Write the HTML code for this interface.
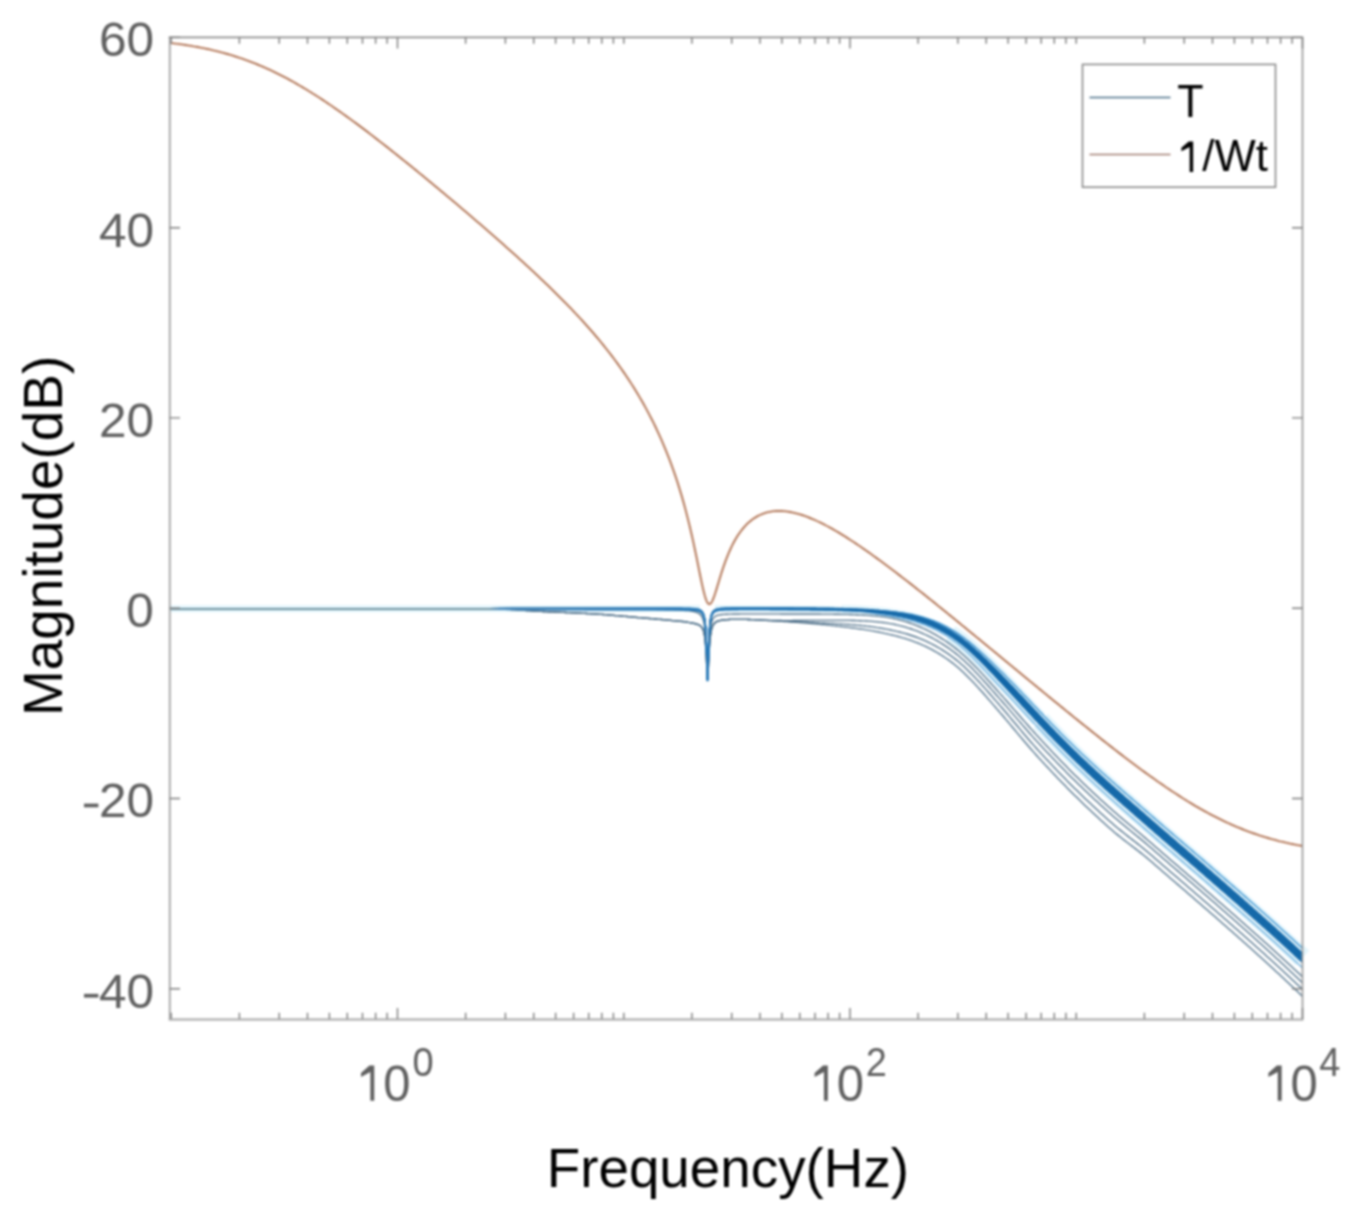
<!DOCTYPE html>
<html><head><meta charset="utf-8"><title>Bode magnitude</title>
<style>html,body{margin:0;padding:0;background:#fff;}svg{display:block;filter:blur(0.8px);}text{font-family:"Liberation Sans",sans-serif;}</style>
</head><body>
<svg width="1357" height="1226" viewBox="0 0 1357 1226">
<rect width="1357" height="1226" fill="#fff"/>
<g fill="none" stroke-linejoin="round" stroke-linecap="butt">
<path d="M169.5 608.8L171 608.8L172.5 608.8L174 608.8L175.5 608.8L177 608.8L178.5 608.8L180 608.8L181.5 608.8L183 608.8L184.5 608.8L186 608.8L187.5 608.8L189 608.8L190.5 608.8L192 608.8L193.5 608.8L195 608.8L196.5 608.8L198 608.8L199.5 608.8L201 608.8L202.5 608.8L204 608.8L205.5 608.8L207 608.8L208.5 608.8L210 608.8L211.5 608.8L213 608.8L214.5 608.8L216 608.8L217.5 608.8L219 608.8L220.5 608.8L222 608.8L223.5 608.8L225 608.8L226.5 608.8L228 608.8L229.5 608.8L231 608.8L232.5 608.8L234 608.8L235.5 608.8L237 608.8L238.5 608.8L240 608.8L241.5 608.8L243 608.8L244.5 608.8L246 608.8L247.5 608.8L249 608.8L250.5 608.8L252 608.8L253.5 608.8L255 608.8L256.5 608.8L258 608.8L259.5 608.8L261 608.8L262.5 608.8L264 608.8L265.5 608.8L267 608.8L268.5 608.8L270 608.8L271.5 608.8L273 608.8L274.5 608.8L276 608.8L277.5 608.8L279 608.8L280.5 608.8L282 608.8L283.5 608.8L285 608.8L286.5 608.8L288 608.8L289.5 608.8L291 608.8L292.5 608.8L294 608.8L295.5 608.8L297 608.8L298.5 608.8L300 608.8L301.5 608.8L303 608.8L304.5 608.8L306 608.8L307.5 608.8L309 608.8L310.5 608.8L312 608.8L313.5 608.8L315 608.8L316.5 608.8L318 608.8L319.5 608.8L321 608.8L322.5 608.8L324 608.8L325.5 608.8L327 608.8L328.5 608.8L330 608.8L331.5 608.8L333 608.8L334.5 608.8L336 608.8L337.5 608.8L339 608.8L340.5 608.8L342 608.8L343.5 608.8L345 608.8L346.5 608.8L348 608.8L349.5 608.8L351 608.8L352.5 608.8L354 608.8L355.5 608.8L357 608.8L358.5 608.8L360 608.8L361.5 608.8L363 608.8L364.5 608.8L366 608.8L367.5 608.8L369 608.8L370.5 608.8L372 608.8L373.5 608.8L375 608.8L376.5 608.8L378 608.8L379.5 608.8L381 608.8L382.5 608.8L384 608.8L385.5 608.8L387 608.8L388.5 608.8L390 608.8L391.5 608.8L393 608.8L394.5 608.8L396 608.8L397.5 608.8L399 608.8L400.5 608.8L402 608.8L403.5 608.8L405 608.8L406.5 608.8L408 608.8L409.5 608.8L411 608.8L412.5 608.8L414 608.8L415.5 608.8L417 608.8L418.5 608.8L420 608.8L421.5 608.8L423 608.8L424.5 608.8L426 608.8L427.5 608.8L429 608.8L430.5 608.8L432 608.8L433.5 608.8L435 608.8L436.5 608.8L438 608.8L439.5 608.8L441 608.8L442.5 608.8L444 608.8L445.5 608.8L447 608.8L448.5 608.8L450 608.8L451.5 608.8L453 608.8L454.5 608.8L456 608.8L457.5 608.8L459 608.8L460.5 608.8L462 608.8L463.5 608.8L465 608.8L466.5 608.8L468 608.8L469.5 608.8L471 608.8L472.5 608.8L474 608.8L475.5 608.8L477 608.8L478.5 608.8L480 608.8L481.5 608.8L483 608.8L484.5 608.8L486 608.8L487.5 608.8L489 608.8L490.5 608.8L492 608.8L493.5 608.8L495 608.8L496.5 608.8L498 608.8L499.5 608.8L501 608.8L502.5 608.8L504 608.8L505.5 608.8L507 608.8L508.5 608.8L510 608.8L511.5 608.8L513 608.8L514.5 608.8L516 608.8L517.5 608.8L519 608.8L520.5 608.8L522 608.8L523.5 608.8L525 608.8L526.5 608.8L528 608.8L529.5 608.8L531 608.8L532.5 608.8L534 608.8L535.5 608.8L537 608.8L538.5 608.8L540 608.8L541.5 608.8L543 608.8L544.5 608.8L546 608.8L547.5 608.8L549 608.8L550.5 608.8L552 608.8L553.5 608.8L555 608.8L556.5 608.8L558 608.8L559.5 608.8L561 608.8L562.5 608.8L564 608.8L565.5 608.8L567 608.8L568.5 608.8L570 608.8L571.5 608.8L573 608.8L574.5 608.8L576 608.8L577.5 608.8L579 608.8L580.5 608.8L582 608.8L583.5 608.8L585 608.8L586.5 608.8L588 608.8L589.5 608.8L591 608.8L592.5 608.8L594 608.8L595.5 608.8L597 608.8L598.5 608.8L600 608.8L601.5 608.8L603 608.8L604.5 608.8L606 608.8L607.5 608.8L609 608.8L610.5 608.8L612 608.8L613.5 608.8L615 608.8L616.5 608.8L618 608.8L619.5 608.8L621 608.8L622.5 608.8L624 608.8L625.5 608.8L627 608.8L628.5 608.8L630 608.8L631.5 608.8L633 608.8L634.5 608.8L636 608.8L637.5 608.8L639 608.8L640.5 608.8L642 608.8L643.5 608.8L645 608.8L646.5 608.8L648 608.8L649.5 608.8L651 608.8L652.5 608.8L654 608.8L655.5 608.8L657 608.8L658.5 608.8L660 608.8L661.5 608.8L663 608.8L664.5 608.8L666 608.8L667.5 608.8L669 608.8L670.5 608.8L672 608.8L673.5 608.8L675 608.8L676.5 608.8L678 608.8L679.5 608.8L681 608.8L682.5 608.8L684 608.8L685.5 608.8L687 608.8L688.5 608.8L690 608.8L690.2 608.8L690.5 608.8L690.8 608.8L691 608.8L691.2 608.8L691.5 608.8L691.8 608.8L692 608.8L692.2 608.8L692.5 608.8L692.8 608.8L693 608.8L693.2 608.8L693.5 608.8L693.8 608.8L694 608.8L694.2 608.8L694.5 608.8L694.8 608.8L695 608.8L695.2 608.8L695.5 608.8L695.8 608.8L696 608.8L696.2 608.8L696.5 608.8L696.8 608.8L697 608.8L697.2 608.8L697.5 608.8L697.8 608.8L698 608.8L698.2 608.8L698.5 608.8L698.8 608.8L699 608.8L699.2 608.8L699.5 608.8L699.8 608.8L700 608.8" stroke="#e3f5fc" stroke-width="7.0"/>
<path d="M715 608.6L715.2 608.6L715.5 608.6L715.8 608.6L716 608.6L716.2 608.6L716.5 608.6L716.8 608.6L717 608.6L717.2 608.6L717.5 608.6L717.8 608.6L718 608.6L718.2 608.6L718.5 608.6L718.8 608.6L719 608.6L719.2 608.6L719.5 608.6L719.8 608.6L720 608.6L720.2 608.6L720.5 608.6L720.8 608.6L721 608.6L721.2 608.6L721.5 608.6L721.8 608.6L722 608.6L722.2 608.6L722.5 608.6L722.8 608.6L723 608.6L723.2 608.6L723.5 608.6L723.8 608.6L724 608.6L724.2 608.6L724.5 608.6L724.8 608.6L725 608.6L725.2 608.6L725.5 608.6L725.8 608.6L726 608.6L726.2 608.6L726.5 608.6L726.8 608.6L727 608.6L727.2 608.6L727.5 608.6L727.8 608.6L728 608.6L728.2 608.6L728.5 608.6L728.8 608.6L729 608.6L729.2 608.6L729.5 608.6L729.8 608.6L730 608.6L731.5 608.6L733 608.6L734.5 608.6L736 608.6L737.5 608.6L739 608.6L740.5 608.6L742 608.6L743.5 608.6L745 608.6L746.5 608.6L748 608.6L749.5 608.6L751 608.6L752.5 608.6L754 608.6L755.5 608.6L757 608.6L758.5 608.6L760 608.6L761.5 608.6L763 608.6L764.5 608.7L766 608.7L767.5 608.7L769 608.7L770.5 608.7L772 608.7L773.5 608.7L775 608.7L776.5 608.7L778 608.7L779.5 608.7L781 608.7L782.5 608.7L784 608.7L785.5 608.7L787 608.8L788.5 608.8L790 608.8L791.5 608.8L793 608.8L794.5 608.8L796 608.8L797.5 608.8L799 608.8L800.5 608.9L802 608.9L803.5 608.9L805 608.9L806.5 608.9L808 608.9L809.5 608.9L811 609L812.5 609L814 609L815.5 609L817 609L818.5 609.1L820 609.1L821.5 609.1L823 609.1L824.5 609.2L826 609.2L827.5 609.2L829 609.2L830.5 609.3L832 609.3L833.5 609.3L835 609.4L836.5 609.4L838 609.4L839.5 609.5" stroke="#e3f5fc" stroke-width="7.0"/>
<path d="M841 609.5L842.5 609.6L844 609.6L845.5 609.7L847 609.7L848.5 609.8L850 609.8L851.5 609.9L853 609.9L854.5 610L856 610.1L857.5 610.1L859 610.2L860.5 610.3L862 610.4L863.5 610.5L865 610.5L866.5 610.6L868 610.8L869.5 610.9L871 611L872.5 611.1L874 611.2L875.5 611.4L877 611.5L878.5 611.7L880 611.8L881.5 612L883 612.2L884.5 612.3L886 612.5L887.5 612.7L889 612.9L890.5 613.1L892 613.3L893.5 613.6L895 613.8L896.5 614L898 614.3L899.5 614.5L901 614.8L902.5 615.1L904 615.4L905.5 615.7L907 616L908.5 616.3L910 616.7L911.5 617L913 617.4L914.5 617.8L916 618.2L917.5 618.7L919 619.1L920.5 619.6L922 620.1L923.5 620.6L925 621.1L926.5 621.6L928 622.2L929.5 622.8L931 623.4L932.5 624L934 624.7L935.5 625.3L937 626L938.5 626.8L940 627.5L941.5 628.3L943 629.1L944.5 629.9L946 630.7L947.5 631.6L949 632.5" stroke="#e3f5fc" stroke-width="9.4"/>
<path d="M950.5 633.4L952 634.4L953.5 635.3L955 636.4L956.5 637.4L958 638.5L959.5 639.6L961 640.7L962.5 641.9L964 643.1L965.5 644.3L967 645.6L968.5 646.8L970 648.1L971.5 649.4L973 650.8L974.5 652.2L976 653.5L977.5 654.9L979 656.4L980.5 657.8L982 659.3L983.5 660.7L985 662.2L986.5 663.7L988 665.2L989.5 666.7L991 668.3L992.5 669.8L994 671.3L995.5 672.9L997 674.4L998.5 676L1000 677.6L1001.5 679.1L1003 680.7L1004.5 682.3L1006 683.8L1007.5 685.4L1009 687L1010.5 688.6L1012 690.2L1013.5 691.8L1015 693.4L1016.5 695L1018 696.7L1019.5 698.3L1021 699.9L1022.5 701.5L1024 703.1L1025.5 704.7L1027 706.3L1028.5 708L1030 709.6L1031.5 711.2L1033 712.8L1034.5 714.4L1036 716L1037.5 717.6L1039 719.2" stroke="#e3f5fc" stroke-width="17.0"/>
<path d="M1040.5 720.8L1042 722.3L1043.5 723.9L1045 725.5L1046.5 727.1L1048 728.6L1049.5 730.2L1051 731.8L1052.5 733.3L1054 734.9L1055.5 736.4L1057 737.9L1058.5 739.5L1060 741L1061.5 742.5L1063 744L1064.5 745.6L1066 747.1L1067.5 748.6L1069 750L1070.5 751.5L1072 753L1073.5 754.5L1075 755.9L1076.5 757.4L1078 758.8L1079.5 760.3L1081 761.7L1082.5 763.1L1084 764.6L1085.5 766L1087 767.4L1088.5 768.8L1090 770.2L1091.5 771.6L1093 773L1094.5 774.4L1096 775.8L1097.5 777.1L1099 778.5L1100.5 779.9L1102 781.2L1103.5 782.6L1105 784L1106.5 785.3L1108 786.7L1109.5 788L1111 789.3L1112.5 790.7L1114 792L1115.5 793.3L1117 794.7L1118.5 796L1120 797.3L1121.5 798.6L1123 800L1124.5 801.3L1126 802.6L1127.5 803.9L1129 805.2L1130.5 806.5L1132 807.8L1133.5 809.1L1135 810.5L1136.5 811.8L1138 813.1L1139.5 814.4L1141 815.7L1142.5 817L1144 818.3L1145.5 819.6L1147 820.9L1148.5 822.2L1150 823.5L1151.5 824.8L1153 826.1L1154.5 827.4L1156 828.7L1157.5 830L1159 831.3L1160.5 832.6L1162 833.9L1163.5 835.2L1165 836.5L1166.5 837.8L1168 839.1L1169.5 840.4L1171 841.7L1172.5 843L1174 844.3L1175.5 845.6L1177 846.8L1178.5 848.1L1180 849.4L1181.5 850.7L1183 852L1184.5 853.3L1186 854.6L1187.5 855.9L1189 857.2L1190.5 858.5L1192 859.7L1193.5 861L1195 862.3L1196.5 863.6L1198 864.9L1199.5 866.2L1201 867.5L1202.5 868.8L1204 870.1L1205.5 871.4L1207 872.7L1208.5 874L1210 875.3L1211.5 876.6L1213 877.9L1214.5 879.2L1216 880.5L1217.5 881.8L1219 883.1L1220.5 884.4L1222 885.7L1223.5 887L1225 888.3L1226.5 889.7L1228 891L1229.5 892.3L1231 893.6L1232.5 894.9L1234 896.2L1235.5 897.5L1237 898.8L1238.5 900.1L1240 901.5L1241.5 902.8L1243 904.1L1244.5 905.4L1246 906.7L1247.5 908.1L1249 909.4L1250.5 910.7L1252 912L1253.5 913.4L1255 914.7L1256.5 916L1258 917.4L1259.5 918.7L1261 920L1262.5 921.4L1264 922.7L1265.5 924.1L1267 925.4L1268.5 926.7L1270 928.1L1271.5 929.4L1273 930.8L1274.5 932.2L1276 933.5L1277.5 934.9L1279 936.2L1280.5 937.6L1282 939L1283.5 940.3L1285 941.7L1286.5 943.1L1288 944.5L1289.5 945.8L1291 947.2L1292.5 948.6L1294 950L1295.5 951.4L1297 952.8L1298.5 954.2L1300 955.6L1301.5 957L1302.5 957.9" stroke="#e3f5fc" stroke-width="20.0"/>
<path d="M169.5 608.8L171 608.8L172.5 608.8L174 608.8L175.5 608.8L177 608.8L178.5 608.8L180 608.8L181.5 608.8L183 608.8L184.5 608.8L186 608.8L187.5 608.8L189 608.8L190.5 608.8L192 608.8L193.5 608.8L195 608.8L196.5 608.8L198 608.8L199.5 608.8L201 608.8L202.5 608.8L204 608.8L205.5 608.8L207 608.8L208.5 608.8L210 608.8L211.5 608.8L213 608.8L214.5 608.8L216 608.8L217.5 608.8L219 608.8L220.5 608.8L222 608.8L223.5 608.8L225 608.8L226.5 608.8L228 608.8L229.5 608.8L231 608.8L232.5 608.8L234 608.8L235.5 608.8L237 608.8L238.5 608.8L240 608.8L241.5 608.8L243 608.8L244.5 608.8L246 608.8L247.5 608.8L249 608.8L250.5 608.8L252 608.8L253.5 608.8L255 608.8L256.5 608.8L258 608.8L259.5 608.8L261 608.8L262.5 608.8L264 608.8L265.5 608.8L267 608.8L268.5 608.8L270 608.8L271.5 608.8L273 608.8L274.5 608.8L276 608.8L277.5 608.8L279 608.8L280.5 608.8L282 608.8L283.5 608.8L285 608.8L286.5 608.8L288 608.8L289.5 608.8L291 608.8L292.5 608.8L294 608.8L295.5 608.8L297 608.8L298.5 608.8L300 608.8L301.5 608.8L303 608.8L304.5 608.8L306 608.8L307.5 608.8L309 608.8L310.5 608.8L312 608.8L313.5 608.8L315 608.8L316.5 608.8L318 608.8L319.5 608.8L321 608.8L322.5 608.8L324 608.8L325.5 608.8L327 608.8L328.5 608.8L330 608.8L331.5 608.8L333 608.8L334.5 608.8L336 608.8L337.5 608.8L339 608.8L340.5 608.8L342 608.8L343.5 608.8L345 608.8L346.5 608.8L348 608.8L349.5 608.8L351 608.8L352.5 608.8L354 608.8L355.5 608.8L357 608.8L358.5 608.8L360 608.8L361.5 608.8L363 608.8L364.5 608.8L366 608.8L367.5 608.8L369 608.8L370.5 608.8L372 608.8L373.5 608.8L375 608.8L376.5 608.8L378 608.8L379.5 608.8L381 608.8L382.5 608.8L384 608.8L385.5 608.8L387 608.8L388.5 608.8L390 608.8L391.5 608.8L393 608.8L394.5 608.8L396 608.8L397.5 608.8L399 608.8L400.5 608.8L402 608.8L403.5 608.8L405 608.8L406.5 608.8L408 608.8L409.5 608.8L411 608.8L412.5 608.8L414 608.8L415.5 608.8L417 608.8L418.5 608.8L420 608.8L421.5 608.8L423 608.8L424.5 608.8L426 608.8L427.5 608.8L429 608.8L430.5 608.8L432 608.8L433.5 608.8L435 608.8L436.5 608.8L438 608.8L439.5 608.8L441 608.8L442.5 608.8L444 608.8L445.5 608.8L447 608.8L448.5 608.8L450 608.8L451.5 608.8L453 608.8L454.5 608.8L456 608.8L457.5 608.8L459 608.8L460.5 608.8L462 608.8L463.5 608.8L465 608.8L466.5 608.8L468 608.8L469.5 608.8L471 608.8L472.5 608.8L474 608.8L475.5 608.8L477 608.8L478.5 608.8L480 608.8L481.5 608.8L483 608.8L484.5 608.8L486 608.8L487.5 608.8L489 608.8L490.5 608.8L492 608.8L493.5 608.8L495 608.8L496.5 608.8L498 608.8L499.5 608.8L501 608.8L502.5 608.8L504 608.8L505.5 608.8L507 608.8L508.5 608.8L510 608.8L511.5 608.8L513 608.8L514.5 608.8L516 608.8L517.5 608.8L519 608.8L520.5 608.8L522 608.8L523.5 608.8L525 608.8L526.5 608.8L528 608.8L529.5 608.8L531 608.8L532.5 608.8L534 608.8L535.5 608.8L537 608.8L538.5 608.8L540 608.8L541.5 608.8L543 608.8L544.5 608.8L546 608.8L547.5 608.8L549 608.8L550.5 608.8L552 608.8L553.5 608.8L555 608.8L556.5 608.8L558 608.8L559.5 608.8L561 608.8L562.5 608.8L564 608.8L565.5 608.8L567 608.8L568.5 608.8L570 608.8L571.5 608.8L573 608.8L574.5 608.8L576 608.8L577.5 608.8L579 608.8L580.5 608.8L582 608.8L583.5 608.8L585 608.8L586.5 608.8L588 608.8L589.5 608.8L591 608.8L592.5 608.8L594 608.8L595.5 608.8L597 608.8L598.5 608.8L600 608.8L601.5 608.8L603 608.8L604.5 608.8L606 608.8L607.5 608.8L609 608.8L610.5 608.8L612 608.8L613.5 608.9L615 608.9L616.5 608.9L618 608.9L619.5 608.9L621 608.9L622.5 608.9L624 608.9L625.5 608.9L627 609L628.5 609L630 609L631.5 609L633 609L634.5 609L636 609.1L637.5 609.1L639 609.1L640.5 609.1L642 609.2L643.5 609.2L645 609.2L646.5 609.2L648 609.3L649.5 609.3L651 609.3L652.5 609.4L654 609.4L655.5 609.4L657 609.5L658.5 609.5L660 609.5L661.5 609.6L663 609.6L664.5 609.7L666 609.7L667.5 609.7L669 609.8L670.5 609.8L672 609.9L673.5 609.9L675 610L676.5 610.1L678 610.1L679.5 610.2L681 610.3L682.5 610.3L684 610.4L685.5 610.5L687 610.6L688.5 610.7L690 610.9L690.2 610.9L690.5 610.9L690.8 611L691 611L691.2 611L691.5 611.1L691.8 611.1L692 611.1L692.2 611.2L692.5 611.2L692.8 611.3L693 611.3L693.2 611.4L693.5 611.4L693.8 611.5L694 611.5L694.2 611.6L694.5 611.7L694.8 611.7L695 611.8L695.2 611.9L695.5 612L695.8 612L696 612.1L696.2 612.2L696.5 612.3L696.8 612.4L697 612.5L697.2 612.6L697.5 612.7L697.8 612.9L698 613L698.2 613.1L698.5 613.3L698.8 613.4L699 613.6L699.2 613.8L699.5 613.9L699.8 614.1L700 614.3L700.2 614.6L700.5 614.8L700.8 615.1L701 615.4L701.2 615.7L701.5 616L701.8 616.4L702 616.8L702.2 617.3L702.5 617.8L702.8 618.4L703 619.1L703.2 619.8L703.5 620.7L703.8 621.7L704 622.8L704.2 624.1L704.5 625.6L704.8 627.4L705 629.5L705.2 632L705.5 634.9L705.8 638.3L706 642.4L706.2 647L706.5 652.2L706.8 657.7L707 663.1L707.2 667.5L707.5 669.9L707.8 669.7L708 666.9L708.2 662.3L708.5 656.9L708.8 651.5L709 646.5L709.2 642L709.5 638.2L709.8 634.9L710 632.2L710.2 629.9L710.5 627.9L710.8 626.2L711 624.8L711.2 623.6L711.5 622.6L711.8 621.7L712 621L712.2 620.3L712.5 619.7L712.8 619.2L713 618.8L713.2 618.4L713.5 618L713.8 617.7L714 617.4L714.2 617.2L714.5 617L714.8 616.8L715 616.6L715.2 616.4L715.5 616.2L715.8 616.1L716 616L716.2 615.8L716.5 615.7L716.8 615.6L717 615.5L717.2 615.4L717.5 615.3L717.8 615.3L718 615.2L718.2 615.1L718.5 615.1L718.8 615L719 615L719.2 614.9L719.5 614.9L719.8 614.8L720 614.8L720.2 614.7L720.5 614.7L720.8 614.7L721 614.6L721.2 614.6L721.5 614.6L721.8 614.5L722 614.5L722.2 614.5L722.5 614.5L722.8 614.4L723 614.4L723.2 614.4L723.5 614.4L723.8 614.4L724 614.3L724.2 614.3L724.5 614.3L724.8 614.3L725 614.3L725.2 614.3L725.5 614.2L725.8 614.2L726 614.2L726.2 614.2L726.5 614.2L726.8 614.2L727 614.2L727.2 614.2L727.5 614.2L727.8 614.2L728 614.1L728.2 614.1L728.5 614.1L728.8 614.1L729 614.1L729.2 614.1L729.5 614.1L729.8 614.1L730 614.1L731.5 614.1L733 614L734.5 614L736 614L737.5 614L739 614L740.5 613.9L742 613.9L743.5 613.9L745 613.9L746.5 613.9L748 613.9L749.5 613.9L751 613.9L752.5 613.9L754 613.9L755.5 613.9L757 613.9L758.5 613.9L760 613.9L761.5 613.9L763 613.9L764.5 613.9L766 613.9L767.5 613.9L769 613.9L770.5 613.9L772 613.9L773.5 613.9L775 613.9L776.5 613.9L778 613.9L779.5 613.9L781 614L782.5 614L784 614L785.5 614L787 614L788.5 614L790 614L791.5 614L793 614L794.5 614L796 614L797.5 614L799 614L800.5 614L802 614L803.5 614L805 614L806.5 614L808 614L809.5 614L811 614L812.5 614L814 614L815.5 614L817 614L818.5 614L820 614L821.5 614.1L823 614.1L824.5 614.1L826 614.1L827.5 614.1L829 614.1L830.5 614.1L832 614.1L833.5 614.2L835 614.2L836.5 614.2L838 614.2L839.5 614.2L841 614.3L842.5 614.3L844 614.3L845.5 614.4L847 614.4L848.5 614.4L850 614.5L851.5 614.5L853 614.6L854.5 614.6L856 614.7L857.5 614.7L859 614.8L860.5 614.9L862 614.9L863.5 615L865 615.1L866.5 615.2L868 615.3L869.5 615.4L871 615.5L872.5 615.6L874 615.8L875.5 615.9L877 616L878.5 616.2L880 616.3L881.5 616.5L883 616.7L884.5 616.9L886 617.1L887.5 617.4L889 617.6L890.5 617.9L892 618.2L893.5 618.5L895 618.8L896.5 619.2L898 619.5L899.5 619.9L901 620.3L902.5 620.7L904 621.1L905.5 621.6L907 622L908.5 622.5L910 623L911.5 623.6L913 624.1L914.5 624.7L916 625.3L917.5 625.9L919 626.5L920.5 627.1L922 627.8L923.5 628.5L925 629.2L926.5 629.9L928 630.7L929.5 631.4L931 632.2L932.5 633.1L934 633.9L935.5 634.7L937 635.6L938.5 636.5L940 637.4L941.5 638.4L943 639.3L944.5 640.3L946 641.3L947.5 642.4L949 643.4L950.5 644.5L952 645.6L953.5 646.7L955 647.9L956.5 649.1L958 650.3L959.5 651.6L961 652.9L962.5 654.2L964 655.5L965.5 656.9L967 658.3L968.5 659.8L970 661.2L971.5 662.7L973 664.2L974.5 665.7L976 667.3L977.5 668.8L979 670.4L980.5 672L982 673.6L983.5 675.2L985 676.9L986.5 678.5L988 680.2L989.5 681.8L991 683.5L992.5 685.2L994 686.8L995.5 688.5L997 690.2L998.5 691.9L1000 693.6L1001.5 695.2L1003 696.9L1004.5 698.6L1006 700.3L1007.5 702L1009 703.7L1010.5 705.4L1012 707.2L1013.5 708.9L1015 710.6L1016.5 712.3L1018 714L1019.5 715.7L1021 717.5L1022.5 719.2L1024 720.9L1025.5 722.6L1027 724.3L1028.5 726L1030 727.7L1031.5 729.4L1033 731L1034.5 732.7L1036 734.4L1037.5 736L1039 737.6L1040.5 739.3L1042 740.9L1043.5 742.5L1045 744.1L1046.5 745.7L1048 747.3L1049.5 748.9L1051 750.5L1052.5 752.1L1054 753.7L1055.5 755.3L1057 756.8L1058.5 758.4L1060 760L1061.5 761.5L1063 763.1L1064.5 764.6L1066 766.1L1067.5 767.6L1069 769.2L1070.5 770.7L1072 772.2L1073.5 773.7L1075 775.2L1076.5 776.6L1078 778.1L1079.5 779.6L1081 781L1082.5 782.5L1084 783.9L1085.5 785.3L1087 786.8L1088.5 788.2L1090 789.6L1091.5 791L1093 792.4L1094.5 793.8L1096 795.2L1097.5 796.6L1099 798L1100.5 799.4L1102 800.7L1103.5 802.1L1105 803.4L1106.5 804.8L1108 806.2L1109.5 807.5L1111 808.8L1112.5 810.2L1114 811.5L1115.5 812.8L1117 814.1L1118.5 815.4L1120 816.7L1121.5 817.9L1123 819.2L1124.5 820.5L1126 821.7L1127.5 823L1129 824.3L1130.5 825.5L1132 826.8L1133.5 828L1135 829.3L1136.5 830.5L1138 831.8L1139.5 833L1141 834.3L1142.5 835.6L1144 836.9L1145.5 838.1L1147 839.4L1148.5 840.7L1150 842L1151.5 843.3L1153 844.6L1154.5 845.9L1156 847.2L1157.5 848.5L1159 849.8L1160.5 851.1L1162 852.4L1163.5 853.7L1165 855L1166.5 856.3L1168 857.6L1169.5 858.9L1171 860.2L1172.5 861.5L1174 862.8L1175.5 864.1L1177 865.3L1178.5 866.6L1180 867.9L1181.5 869.2L1183 870.5L1184.5 871.8L1186 873.1L1187.5 874.4L1189 875.7L1190.5 877L1192 878.3L1193.5 879.6L1195 880.8L1196.5 882.1L1198 883.4L1199.5 884.7L1201 886L1202.5 887.3L1204 888.6L1205.5 889.9L1207 891.2L1208.5 892.5L1210 893.8L1211.5 895.1L1213 896.4L1214.5 897.8L1216 899.1L1217.5 900.4L1219 901.7L1220.5 903L1222 904.3L1223.5 905.6L1225 906.9L1226.5 908.2L1228 909.5L1229.5 910.8L1231 912.2L1232.5 913.5L1234 914.8L1235.5 916.1L1237 917.4L1238.5 918.7L1240 920.1L1241.5 921.4L1243 922.7L1244.5 924L1246 925.4L1247.5 926.7L1249 928L1250.5 929.4L1252 930.7L1253.5 932L1255 933.4L1256.5 934.7L1258 936L1259.5 937.4L1261 938.7L1262.5 940.1L1264 941.4L1265.5 942.8L1267 944.1L1268.5 945.5L1270 946.8L1271.5 948.2L1273 949.6L1274.5 950.9L1276 952.3L1277.5 953.7L1279 955L1280.5 956.4L1282 957.8L1283.5 959.2L1285 960.6L1286.5 961.9L1288 963.3L1289.5 964.7L1291 966.1L1292.5 967.5L1294 968.9L1295.5 970.3L1297 971.7L1298.5 973.1L1300 974.6L1301.5 976L1302.5 976.9" stroke="#50718a" stroke-width="1.35"/>
<path d="M169.5 608.8L171 608.8L172.5 608.8L174 608.8L175.5 608.8L177 608.8L178.5 608.8L180 608.8L181.5 608.8L183 608.8L184.5 608.8L186 608.8L187.5 608.8L189 608.8L190.5 608.8L192 608.8L193.5 608.8L195 608.8L196.5 608.8L198 608.8L199.5 608.8L201 608.8L202.5 608.8L204 608.8L205.5 608.8L207 608.8L208.5 608.8L210 608.8L211.5 608.8L213 608.8L214.5 608.8L216 608.8L217.5 608.8L219 608.8L220.5 608.8L222 608.8L223.5 608.8L225 608.8L226.5 608.8L228 608.8L229.5 608.8L231 608.8L232.5 608.8L234 608.8L235.5 608.8L237 608.8L238.5 608.8L240 608.8L241.5 608.8L243 608.8L244.5 608.8L246 608.8L247.5 608.8L249 608.8L250.5 608.8L252 608.8L253.5 608.8L255 608.8L256.5 608.8L258 608.8L259.5 608.8L261 608.8L262.5 608.8L264 608.8L265.5 608.8L267 608.8L268.5 608.8L270 608.8L271.5 608.8L273 608.8L274.5 608.8L276 608.8L277.5 608.8L279 608.8L280.5 608.8L282 608.8L283.5 608.8L285 608.8L286.5 608.8L288 608.8L289.5 608.8L291 608.8L292.5 608.8L294 608.8L295.5 608.8L297 608.8L298.5 608.8L300 608.8L301.5 608.8L303 608.8L304.5 608.8L306 608.8L307.5 608.8L309 608.8L310.5 608.8L312 608.8L313.5 608.8L315 608.8L316.5 608.8L318 608.8L319.5 608.8L321 608.8L322.5 608.8L324 608.8L325.5 608.8L327 608.8L328.5 608.8L330 608.8L331.5 608.8L333 608.8L334.5 608.8L336 608.8L337.5 608.8L339 608.8L340.5 608.8L342 608.8L343.5 608.8L345 608.8L346.5 608.8L348 608.8L349.5 608.8L351 608.8L352.5 608.8L354 608.8L355.5 608.8L357 608.8L358.5 608.8L360 608.8L361.5 608.8L363 608.8L364.5 608.8L366 608.8L367.5 608.8L369 608.8L370.5 608.8L372 608.8L373.5 608.8L375 608.8L376.5 608.8L378 608.8L379.5 608.8L381 608.8L382.5 608.8L384 608.8L385.5 608.8L387 608.8L388.5 608.8L390 608.8L391.5 608.8L393 608.8L394.5 608.8L396 608.8L397.5 608.8L399 608.8L400.5 608.8L402 608.8L403.5 608.8L405 608.8L406.5 608.8L408 608.8L409.5 608.8L411 608.8L412.5 608.8L414 608.8L415.5 608.8L417 608.8L418.5 608.8L420 608.8L421.5 608.8L423 608.8L424.5 608.8L426 608.8L427.5 608.8L429 608.8L430.5 608.8L432 608.8L433.5 608.8L435 608.8L436.5 608.8L438 608.8L439.5 608.8L441 608.8L442.5 608.8L444 608.8L445.5 608.8L447 608.8L448.5 608.8L450 608.8L451.5 608.8L453 608.8L454.5 608.8L456 608.8L457.5 608.8L459 608.8L460.5 608.8L462 608.8L463.5 608.8L465 608.8L466.5 608.8L468 608.8L469.5 608.8L471 608.8L472.5 608.8L474 608.8L475.5 608.8L477 608.8L478.5 608.8L480 608.8L481.5 608.8L483 608.8L484.5 608.8L486 608.8L487.5 608.8L489 608.8L490.5 608.8L492 608.8L493.5 608.8L495 608.8L496.5 608.9L498 608.9L499.5 609L501 609L502.5 609.1L504 609.1L505.5 609.2L507 609.3L508.5 609.4L510 609.4L511.5 609.5L513 609.6L514.5 609.7L516 609.8L517.5 609.9L519 610L520.5 610.1L522 610.2L523.5 610.3L525 610.4L526.5 610.5L528 610.6L529.5 610.7L531 610.8L532.5 610.9L534 611L535.5 611.1L537 611.1L538.5 611.2L540 611.3L541.5 611.4L543 611.5L544.5 611.5L546 611.6L547.5 611.7L549 611.7L550.5 611.8L552 611.9L553.5 611.9L555 612L556.5 612.1L558 612.2L559.5 612.2L561 612.3L562.5 612.4L564 612.4L565.5 612.5L567 612.6L568.5 612.6L570 612.7L571.5 612.8L573 612.8L574.5 612.9L576 613L577.5 613.1L579 613.1L580.5 613.2L582 613.3L583.5 613.4L585 613.4L586.5 613.5L588 613.6L589.5 613.7L591 613.8L592.5 613.9L594 613.9L595.5 614L597 614.1L598.5 614.2L600 614.3L601.5 614.4L603 614.5L604.5 614.6L606 614.7L607.5 614.9L609 615L610.5 615.1L612 615.2L613.5 615.3L615 615.5L616.5 615.6L618 615.7L619.5 615.9L621 616L622.5 616.1L624 616.3L625.5 616.4L627 616.5L628.5 616.7L630 616.8L631.5 616.9L633 617.1L634.5 617.2L636 617.3L637.5 617.5L639 617.6L640.5 617.7L642 617.8L643.5 618L645 618.1L646.5 618.2L648 618.4L649.5 618.5L651 618.6L652.5 618.7L654 618.9L655.5 619L657 619.1L658.5 619.3L660 619.4L661.5 619.5L663 619.7L664.5 619.8L666 619.9L667.5 620.1L669 620.2L670.5 620.3L672 620.5L673.5 620.6L675 620.8L676.5 620.9L678 621.1L679.5 621.2L681 621.4L682.5 621.5L684 621.7L685.5 621.9L687 622.1L688.5 622.4L690 622.6L690.2 622.7L690.5 622.7L690.8 622.8L691 622.8L691.2 622.9L691.5 622.9L691.8 623L692 623L692.2 623.1L692.5 623.1L692.8 623.2L693 623.2L693.2 623.3L693.5 623.3L693.8 623.4L694 623.4L694.2 623.5L694.5 623.5L694.8 623.6L695 623.7L695.2 623.7L695.5 623.8L695.8 623.8L696 623.9L696.2 624L696.5 624.1L696.8 624.1L697 624.2L697.2 624.3L697.5 624.4L697.8 624.5L698 624.6L698.2 624.7L698.5 624.8L698.8 624.9L699 625L699.2 625.1L699.5 625.3L699.8 625.4L700 625.6L700.2 625.8L700.5 626L700.8 626.2L701 626.4L701.2 626.7L701.5 626.9L701.8 627.3L702 627.6L702.2 628L702.5 628.4L702.8 628.9L703 629.5L703.2 630.2L703.5 630.9L703.8 631.8L704 632.9L704.2 634.1L704.5 635.5L704.8 637.2L705 639.2L705.2 641.5L705.5 644.4L705.8 647.7L706 651.6L706.2 656.2L706.5 661.3L706.8 666.7L707 671.9L707.2 676.2L707.5 678.5L707.8 678.2L708 675.3L708.2 670.6L708.5 665.1L708.8 659.6L709 654.4L709.2 649.9L709.5 646L709.8 642.6L710 639.7L710.2 637.3L710.5 635.3L710.8 633.5L711 632L711.2 630.7L711.5 629.6L711.8 628.7L712 627.8L712.2 627.1L712.5 626.4L712.8 625.8L713 625.3L713.2 624.9L713.5 624.4L713.8 624.1L714 623.7L714.2 623.4L714.5 623.2L714.8 622.9L715 622.7L715.2 622.5L715.5 622.3L715.8 622.1L716 622L716.2 621.8L716.5 621.7L716.8 621.6L717 621.5L717.2 621.3L717.5 621.2L717.8 621.2L718 621.1L718.2 621L718.5 620.9L718.8 620.8L719 620.8L719.2 620.7L719.5 620.6L719.8 620.6L720 620.5L720.2 620.5L720.5 620.4L720.8 620.4L721 620.3L721.2 620.3L721.5 620.2L721.8 620.2L722 620.2L722.2 620.1L722.5 620.1L722.8 620L723 620L723.2 620L723.5 619.9L723.8 619.9L724 619.9L724.2 619.9L724.5 619.8L724.8 619.8L725 619.8L725.2 619.8L725.5 619.7L725.8 619.7L726 619.7L726.2 619.7L726.5 619.7L726.8 619.6L727 619.6L727.2 619.6L727.5 619.6L727.8 619.6L728 619.6L728.2 619.5L728.5 619.5L728.8 619.5L729 619.5L729.2 619.5L729.5 619.5L729.8 619.5L730 619.4L731.5 619.4L733 619.3L734.5 619.3L736 619.3L737.5 619.3L739 619.3L740.5 619.3L742 619.3L743.5 619.3L745 619.4L746.5 619.4L748 619.5L749.5 619.5L751 619.6L752.5 619.6L754 619.7L755.5 619.8L757 619.8L758.5 619.9L760 620L761.5 620L763 620.1L764.5 620.1L766 620.2L767.5 620.3L769 620.3L770.5 620.4L772 620.4L773.5 620.4L775 620.5L776.5 620.5L778 620.5L779.5 620.5L781 620.5L782.5 620.6L784 620.6L785.5 620.6L787 620.6L788.5 620.6L790 620.6L791.5 620.6L793 620.5L794.5 620.5L796 620.5L797.5 620.5L799 620.5L800.5 620.5L802 620.5L803.5 620.5L805 620.5L806.5 620.5L808 620.5L809.5 620.4L811 620.4L812.5 620.4L814 620.4L815.5 620.4L817 620.4L818.5 620.4L820 620.4L821.5 620.4L823 620.3L824.5 620.3L826 620.3L827.5 620.3L829 620.3L830.5 620.3L832 620.3L833.5 620.3L835 620.3L836.5 620.3L838 620.3L839.5 620.3L841 620.3L842.5 620.4L844 620.4L845.5 620.4L847 620.4L848.5 620.4L850 620.4L851.5 620.5L853 620.5L854.5 620.5L856 620.6L857.5 620.6L859 620.7L860.5 620.7L862 620.8L863.5 620.9L865 620.9L866.5 621L868 621.1L869.5 621.2L871 621.3L872.5 621.4L874 621.6L875.5 621.7L877 621.8L878.5 622L880 622.1L881.5 622.3L883 622.5L884.5 622.7L886 622.9L887.5 623.1L889 623.4L890.5 623.6L892 623.9L893.5 624.2L895 624.5L896.5 624.9L898 625.2L899.5 625.6L901 625.9L902.5 626.3L904 626.7L905.5 627.1L907 627.6L908.5 628.1L910 628.5L911.5 629L913 629.6L914.5 630.1L916 630.7L917.5 631.2L919 631.8L920.5 632.5L922 633.1L923.5 633.8L925 634.5L926.5 635.2L928 635.9L929.5 636.6L931 637.4L932.5 638.2L934 639L935.5 639.9L937 640.7L938.5 641.6L940 642.5L941.5 643.4L943 644.4L944.5 645.4L946 646.4L947.5 647.4L949 648.4L950.5 649.5L952 650.6L953.5 651.7L955 652.9L956.5 654.1L958 655.3L959.5 656.6L961 657.9L962.5 659.2L964 660.6L965.5 662L967 663.4L968.5 664.8L970 666.3L971.5 667.8L973 669.3L974.5 670.9L976 672.4L977.5 674L979 675.6L980.5 677.2L982 678.9L983.5 680.5L985 682.2L986.5 683.8L988 685.5L989.5 687.2L991 688.9L992.5 690.6L994 692.3L995.5 694L997 695.7L998.5 697.4L1000 699.1L1001.5 700.8L1003 702.5L1004.5 704.2L1006 705.9L1007.5 707.6L1009 709.4L1010.5 711.1L1012 712.9L1013.5 714.6L1015 716.4L1016.5 718.1L1018 719.9L1019.5 721.6L1021 723.3L1022.5 725.1L1024 726.8L1025.5 728.5L1027 730.3L1028.5 732L1030 733.7L1031.5 735.4L1033 737.1L1034.5 738.7L1036 740.4L1037.5 742L1039 743.6L1040.5 745.3L1042 746.9L1043.5 748.5L1045 750.1L1046.5 751.7L1048 753.2L1049.5 754.8L1051 756.4L1052.5 758L1054 759.5L1055.5 761.1L1057 762.7L1058.5 764.2L1060 765.8L1061.5 767.3L1063 768.8L1064.5 770.3L1066 771.9L1067.5 773.4L1069 774.9L1070.5 776.4L1072 777.9L1073.5 779.3L1075 780.8L1076.5 782.3L1078 783.7L1079.5 785.2L1081 786.6L1082.5 788.1L1084 789.5L1085.5 790.9L1087 792.3L1088.5 793.8L1090 795.2L1091.5 796.6L1093 798L1094.5 799.4L1096 800.7L1097.5 802.1L1099 803.5L1100.5 804.9L1102 806.2L1103.5 807.6L1105 809L1106.5 810.3L1108 811.7L1109.5 813L1111 814.3L1112.5 815.7L1114 817L1115.5 818.3L1117 819.5L1118.5 820.8L1120 822.1L1121.5 823.3L1123 824.6L1124.5 825.8L1126 827.1L1127.5 828.3L1129 829.5L1130.5 830.8L1132 832L1133.5 833.2L1135 834.4L1136.5 835.7L1138 836.9L1139.5 838.1L1141 839.4L1142.5 840.6L1144 841.9L1145.5 843.1L1147 844.4L1148.5 845.7L1150 847L1151.5 848.3L1153 849.6L1154.5 850.9L1156 852.2L1157.5 853.5L1159 854.8L1160.5 856.1L1162 857.4L1163.5 858.7L1165 860L1166.5 861.3L1168 862.6L1169.5 863.9L1171 865.2L1172.5 866.5L1174 867.8L1175.5 869.1L1177 870.4L1178.5 871.6L1180 872.9L1181.5 874.2L1183 875.5L1184.5 876.8L1186 878.1L1187.5 879.4L1189 880.7L1190.5 882L1192 883.3L1193.5 884.6L1195 885.9L1196.5 887.2L1198 888.5L1199.5 889.8L1201 891.1L1202.5 892.4L1204 893.7L1205.5 895L1207 896.3L1208.5 897.6L1210 898.9L1211.5 900.2L1213 901.5L1214.5 902.8L1216 904.1L1217.5 905.5L1219 906.8L1220.5 908.1L1222 909.4L1223.5 910.7L1225 912L1226.5 913.3L1228 914.7L1229.5 916L1231 917.3L1232.5 918.6L1234 920L1235.5 921.3L1237 922.6L1238.5 923.9L1240 925.3L1241.5 926.6L1243 927.9L1244.5 929.3L1246 930.6L1247.5 932L1249 933.3L1250.5 934.6L1252 936L1253.5 937.3L1255 938.7L1256.5 940L1258 941.4L1259.5 942.8L1261 944.1L1262.5 945.5L1264 946.8L1265.5 948.2L1267 949.6L1268.5 951L1270 952.3L1271.5 953.7L1273 955.1L1274.5 956.5L1276 957.9L1277.5 959.2L1279 960.6L1280.5 962L1282 963.4L1283.5 964.8L1285 966.2L1286.5 967.7L1288 969.1L1289.5 970.5L1291 971.9L1292.5 973.3L1294 974.8L1295.5 976.2L1297 977.6L1298.5 979.1L1300 980.5L1301.5 982L1302.5 982.9" stroke="#50718a" stroke-width="1.35"/>
<path d="M169.5 608.8L171 608.8L172.5 608.8L174 608.8L175.5 608.8L177 608.8L178.5 608.8L180 608.8L181.5 608.8L183 608.8L184.5 608.8L186 608.8L187.5 608.8L189 608.8L190.5 608.8L192 608.8L193.5 608.8L195 608.8L196.5 608.8L198 608.8L199.5 608.8L201 608.8L202.5 608.8L204 608.8L205.5 608.8L207 608.8L208.5 608.8L210 608.8L211.5 608.8L213 608.8L214.5 608.8L216 608.8L217.5 608.8L219 608.8L220.5 608.8L222 608.8L223.5 608.8L225 608.8L226.5 608.8L228 608.8L229.5 608.8L231 608.8L232.5 608.8L234 608.8L235.5 608.8L237 608.8L238.5 608.8L240 608.8L241.5 608.8L243 608.8L244.5 608.8L246 608.8L247.5 608.8L249 608.8L250.5 608.8L252 608.8L253.5 608.8L255 608.8L256.5 608.8L258 608.8L259.5 608.8L261 608.8L262.5 608.8L264 608.8L265.5 608.8L267 608.8L268.5 608.8L270 608.8L271.5 608.8L273 608.8L274.5 608.8L276 608.8L277.5 608.8L279 608.8L280.5 608.8L282 608.8L283.5 608.8L285 608.8L286.5 608.8L288 608.8L289.5 608.8L291 608.8L292.5 608.8L294 608.8L295.5 608.8L297 608.8L298.5 608.8L300 608.8L301.5 608.8L303 608.8L304.5 608.8L306 608.8L307.5 608.8L309 608.8L310.5 608.8L312 608.8L313.5 608.8L315 608.8L316.5 608.8L318 608.8L319.5 608.8L321 608.8L322.5 608.8L324 608.8L325.5 608.8L327 608.8L328.5 608.8L330 608.8L331.5 608.8L333 608.8L334.5 608.8L336 608.8L337.5 608.8L339 608.8L340.5 608.8L342 608.8L343.5 608.8L345 608.8L346.5 608.8L348 608.8L349.5 608.8L351 608.8L352.5 608.8L354 608.8L355.5 608.8L357 608.8L358.5 608.8L360 608.8L361.5 608.8L363 608.8L364.5 608.8L366 608.8L367.5 608.8L369 608.8L370.5 608.8L372 608.8L373.5 608.8L375 608.8L376.5 608.8L378 608.8L379.5 608.8L381 608.8L382.5 608.8L384 608.8L385.5 608.8L387 608.8L388.5 608.8L390 608.8L391.5 608.8L393 608.8L394.5 608.8L396 608.8L397.5 608.8L399 608.8L400.5 608.8L402 608.8L403.5 608.8L405 608.8L406.5 608.8L408 608.8L409.5 608.8L411 608.8L412.5 608.8L414 608.8L415.5 608.8L417 608.8L418.5 608.8L420 608.8L421.5 608.8L423 608.8L424.5 608.8L426 608.8L427.5 608.8L429 608.8L430.5 608.8L432 608.8L433.5 608.8L435 608.8L436.5 608.8L438 608.8L439.5 608.8L441 608.8L442.5 608.8L444 608.8L445.5 608.8L447 608.8L448.5 608.8L450 608.8L451.5 608.8L453 608.8L454.5 608.8L456 608.8L457.5 608.8L459 608.8L460.5 608.8L462 608.8L463.5 608.8L465 608.8L466.5 608.8L468 608.8L469.5 608.8L471 608.8L472.5 608.8L474 608.8L475.5 608.8L477 608.8L478.5 608.8L480 608.8L481.5 608.8L483 608.8L484.5 608.8L486 608.8L487.5 608.8L489 608.8L490.5 608.8L492 608.8L493.5 608.8L495 608.8L496.5 608.9L498 608.9L499.5 609L501 609L502.5 609.1L504 609.1L505.5 609.2L507 609.3L508.5 609.4L510 609.4L511.5 609.5L513 609.6L514.5 609.7L516 609.8L517.5 609.9L519 610L520.5 610.1L522 610.2L523.5 610.3L525 610.4L526.5 610.5L528 610.6L529.5 610.7L531 610.8L532.5 610.9L534 611L535.5 611.1L537 611.1L538.5 611.2L540 611.3L541.5 611.4L543 611.5L544.5 611.5L546 611.6L547.5 611.7L549 611.7L550.5 611.8L552 611.9L553.5 611.9L555 612L556.5 612.1L558 612.2L559.5 612.2L561 612.3L562.5 612.4L564 612.4L565.5 612.5L567 612.6L568.5 612.6L570 612.7L571.5 612.8L573 612.8L574.5 612.9L576 613L577.5 613.1L579 613.1L580.5 613.2L582 613.3L583.5 613.4L585 613.4L586.5 613.5L588 613.6L589.5 613.7L591 613.8L592.5 613.9L594 613.9L595.5 614L597 614.1L598.5 614.2L600 614.3L601.5 614.4L603 614.5L604.5 614.6L606 614.7L607.5 614.9L609 615L610.5 615.1L612 615.2L613.5 615.3L615 615.5L616.5 615.6L618 615.7L619.5 615.9L621 616L622.5 616.1L624 616.3L625.5 616.4L627 616.5L628.5 616.7L630 616.8L631.5 616.9L633 617.1L634.5 617.2L636 617.3L637.5 617.5L639 617.6L640.5 617.7L642 617.8L643.5 618L645 618.1L646.5 618.2L648 618.4L649.5 618.5L651 618.6L652.5 618.7L654 618.9L655.5 619L657 619.1L658.5 619.3L660 619.4L661.5 619.5L663 619.7L664.5 619.8L666 619.9L667.5 620.1L669 620.2L670.5 620.3L672 620.5L673.5 620.6L675 620.8L676.5 620.9L678 621.1L679.5 621.2L681 621.4L682.5 621.5L684 621.7L685.5 621.9L687 622.1L688.5 622.4L690 622.6L690.2 622.7L690.5 622.7L690.8 622.8L691 622.8L691.2 622.9L691.5 622.9L691.8 623L692 623L692.2 623.1L692.5 623.1L692.8 623.2L693 623.2L693.2 623.3L693.5 623.3L693.8 623.4L694 623.4L694.2 623.5L694.5 623.5L694.8 623.6L695 623.7L695.2 623.7L695.5 623.8L695.8 623.8L696 623.9L696.2 624L696.5 624.1L696.8 624.1L697 624.2L697.2 624.3L697.5 624.4L697.8 624.5L698 624.6L698.2 624.7L698.5 624.8L698.8 624.9L699 625L699.2 625.1L699.5 625.3L699.8 625.4L700 625.6L700.2 625.8L700.5 626L700.8 626.2L701 626.4L701.2 626.7L701.5 626.9L701.8 627.3L702 627.6L702.2 628L702.5 628.4L702.8 628.9L703 629.5L703.2 630.2L703.5 630.9L703.8 631.8L704 632.9L704.2 634.1L704.5 635.5L704.8 637.2L705 639.2L705.2 641.5L705.5 644.4L705.8 647.7L706 651.6L706.2 656.2L706.5 661.3L706.8 666.7L707 671.9L707.2 676.2L707.5 678.5L707.8 678.2L708 675.3L708.2 670.6L708.5 665.1L708.8 659.6L709 654.4L709.2 649.9L709.5 646L709.8 642.6L710 639.7L710.2 637.3L710.5 635.3L710.8 633.5L711 632L711.2 630.7L711.5 629.6L711.8 628.7L712 627.8L712.2 627.1L712.5 626.4L712.8 625.8L713 625.3L713.2 624.9L713.5 624.4L713.8 624.1L714 623.7L714.2 623.4L714.5 623.2L714.8 622.9L715 622.7L715.2 622.5L715.5 622.3L715.8 622.1L716 622L716.2 621.8L716.5 621.7L716.8 621.6L717 621.5L717.2 621.3L717.5 621.2L717.8 621.2L718 621.1L718.2 621L718.5 620.9L718.8 620.8L719 620.8L719.2 620.7L719.5 620.6L719.8 620.6L720 620.5L720.2 620.5L720.5 620.4L720.8 620.4L721 620.3L721.2 620.3L721.5 620.2L721.8 620.2L722 620.2L722.2 620.1L722.5 620.1L722.8 620L723 620L723.2 620L723.5 619.9L723.8 619.9L724 619.9L724.2 619.9L724.5 619.8L724.8 619.8L725 619.8L725.2 619.8L725.5 619.7L725.8 619.7L726 619.7L726.2 619.7L726.5 619.7L726.8 619.6L727 619.6L727.2 619.6L727.5 619.6L727.8 619.6L728 619.6L728.2 619.5L728.5 619.5L728.8 619.5L729 619.5L729.2 619.5L729.5 619.5L729.8 619.5L730 619.4L731.5 619.4L733 619.3L734.5 619.3L736 619.3L737.5 619.3L739 619.3L740.5 619.3L742 619.3L743.5 619.3L745 619.4L746.5 619.4L748 619.5L749.5 619.5L751 619.6L752.5 619.6L754 619.7L755.5 619.8L757 619.8L758.5 619.9L760 620L761.5 620.1L763 620.2L764.5 620.2L766 620.3L767.5 620.4L769 620.5L770.5 620.6L772 620.7L773.5 620.7L775 620.8L776.5 620.9L778 621L779.5 621L781 621.1L782.5 621.2L784 621.2L785.5 621.3L787 621.3L788.5 621.4L790 621.5L791.5 621.5L793 621.6L794.5 621.7L796 621.7L797.5 621.8L799 621.9L800.5 621.9L802 622L803.5 622.1L805 622.1L806.5 622.2L808 622.3L809.5 622.3L811 622.4L812.5 622.5L814 622.5L815.5 622.6L817 622.7L818.5 622.7L820 622.8L821.5 622.9L823 623L824.5 623L826 623.1L827.5 623.2L829 623.3L830.5 623.4L832 623.4L833.5 623.5L835 623.6L836.5 623.7L838 623.8L839.5 623.9L841 624L842.5 624.1L844 624.2L845.5 624.3L847 624.4L848.5 624.5L850 624.6L851.5 624.8L853 624.9L854.5 625L856 625.1L857.5 625.3L859 625.4L860.5 625.5L862 625.7L863.5 625.8L865 626L866.5 626.2L868 626.3L869.5 626.5L871 626.7L872.5 626.9L874 627.1L875.5 627.3L877 627.6L878.5 627.8L880 628L881.5 628.3L883 628.5L884.5 628.8L886 629.1L887.5 629.4L889 629.7L890.5 630L892 630.3L893.5 630.6L895 630.9L896.5 631.3L898 631.6L899.5 632L901 632.4L902.5 632.8L904 633.2L905.5 633.6L907 634L908.5 634.5L910 635L911.5 635.5L913 636L914.5 636.5L916 637L917.5 637.6L919 638.2L920.5 638.8L922 639.4L923.5 640L925 640.7L926.5 641.4L928 642.1L929.5 642.8L931 643.5L932.5 644.3L934 645.1L935.5 645.9L937 646.8L938.5 647.6L940 648.5L941.5 649.4L943 650.4L944.5 651.4L946 652.3L947.5 653.4L949 654.4L950.5 655.5L952 656.6L953.5 657.7L955 658.9L956.5 660.1L958 661.3L959.5 662.6L961 663.9L962.5 665.3L964 666.6L965.5 668.1L967 669.5L968.5 670.9L970 672.4L971.5 673.9L973 675.5L974.5 677L976 678.6L977.5 680.2L979 681.8L980.5 683.4L982 685.1L983.5 686.8L985 688.4L986.5 690.1L988 691.8L989.5 693.5L991 695.2L992.5 696.9L994 698.7L995.5 700.4L997 702.1L998.5 703.8L1000 705.6L1001.5 707.3L1003 709L1004.5 710.8L1006 712.5L1007.5 714.3L1009 716.1L1010.5 717.9L1012 719.7L1013.5 721.5L1015 723.2L1016.5 725L1018 726.8L1019.5 728.6L1021 730.4L1022.5 732.2L1024 734L1025.5 735.7L1027 737.5L1028.5 739.2L1030 741L1031.5 742.7L1033 744.4L1034.5 746.1L1036 747.8L1037.5 749.5L1039 751.1L1040.5 752.8L1042 754.4L1043.5 756L1045 757.6L1046.5 759.2L1048 760.8L1049.5 762.4L1051 764L1052.5 765.6L1054 767.2L1055.5 768.8L1057 770.4L1058.5 771.9L1060 773.5L1061.5 775L1063 776.6L1064.5 778.1L1066 779.6L1067.5 781.2L1069 782.7L1070.5 784.2L1072 785.7L1073.5 787.2L1075 788.7L1076.5 790.1L1078 791.6L1079.5 793.1L1081 794.5L1082.5 796L1084 797.4L1085.5 798.9L1087 800.3L1088.5 801.7L1090 803.1L1091.5 804.5L1093 805.9L1094.5 807.3L1096 808.7L1097.5 810.1L1099 811.5L1100.5 812.9L1102 814.2L1103.5 815.6L1105 817L1106.5 818.3L1108 819.7L1109.5 821L1111 822.3L1112.5 823.6L1114 824.9L1115.5 826.2L1117 827.5L1118.5 828.7L1120 829.9L1121.5 831.1L1123 832.3L1124.5 833.5L1126 834.7L1127.5 835.9L1129 837.1L1130.5 838.2L1132 839.4L1133.5 840.6L1135 841.7L1136.5 842.9L1138 844.1L1139.5 845.3L1141 846.5L1142.5 847.7L1144 848.9L1145.5 850.2L1147 851.4L1148.5 852.7L1150 854L1151.5 855.3L1153 856.6L1154.5 857.9L1156 859.2L1157.5 860.5L1159 861.8L1160.5 863.1L1162 864.4L1163.5 865.7L1165 867L1166.5 868.3L1168 869.6L1169.5 870.9L1171 872.2L1172.5 873.5L1174 874.8L1175.5 876.1L1177 877.3L1178.5 878.6L1180 879.9L1181.5 881.2L1183 882.5L1184.5 883.8L1186 885.1L1187.5 886.4L1189 887.7L1190.5 889L1192 890.3L1193.5 891.6L1195 892.9L1196.5 894.2L1198 895.5L1199.5 896.8L1201 898.1L1202.5 899.4L1204 900.7L1205.5 902L1207 903.3L1208.5 904.6L1210 905.9L1211.5 907.2L1213 908.5L1214.5 909.8L1216 911.1L1217.5 912.4L1219 913.7L1220.5 915L1222 916.3L1223.5 917.7L1225 919L1226.5 920.3L1228 921.6L1229.5 922.9L1231 924.2L1232.5 925.5L1234 926.9L1235.5 928.2L1237 929.5L1238.5 930.8L1240 932.2L1241.5 933.5L1243 934.8L1244.5 936.2L1246 937.5L1247.5 938.8L1249 940.2L1250.5 941.5L1252 942.8L1253.5 944.2L1255 945.5L1256.5 946.9L1258 948.2L1259.5 949.6L1261 950.9L1262.5 952.3L1264 953.6L1265.5 955L1267 956.4L1268.5 957.7L1270 959.1L1271.5 960.5L1273 961.8L1274.5 963.2L1276 964.6L1277.5 966L1279 967.3L1280.5 968.7L1282 970.1L1283.5 971.5L1285 972.9L1286.5 974.3L1288 975.7L1289.5 977.1L1291 978.5L1292.5 979.9L1294 981.3L1295.5 982.8L1297 984.2L1298.5 985.6L1300 987L1301.5 988.5L1302.5 989.4" stroke="#50718a" stroke-width="1.35"/>
<path d="M169.5 608.8L171 608.8L172.5 608.8L174 608.8L175.5 608.8L177 608.8L178.5 608.8L180 608.8L181.5 608.8L183 608.8L184.5 608.8L186 608.8L187.5 608.8L189 608.8L190.5 608.8L192 608.8L193.5 608.8L195 608.8L196.5 608.8L198 608.8L199.5 608.8L201 608.8L202.5 608.8L204 608.8L205.5 608.8L207 608.8L208.5 608.8L210 608.8L211.5 608.8L213 608.8L214.5 608.8L216 608.8L217.5 608.8L219 608.8L220.5 608.8L222 608.8L223.5 608.8L225 608.8L226.5 608.8L228 608.8L229.5 608.8L231 608.8L232.5 608.8L234 608.8L235.5 608.8L237 608.8L238.5 608.8L240 608.8L241.5 608.8L243 608.8L244.5 608.8L246 608.8L247.5 608.8L249 608.8L250.5 608.8L252 608.8L253.5 608.8L255 608.8L256.5 608.8L258 608.8L259.5 608.8L261 608.8L262.5 608.8L264 608.8L265.5 608.8L267 608.8L268.5 608.8L270 608.8L271.5 608.8L273 608.8L274.5 608.8L276 608.8L277.5 608.8L279 608.8L280.5 608.8L282 608.8L283.5 608.8L285 608.8L286.5 608.8L288 608.8L289.5 608.8L291 608.8L292.5 608.8L294 608.8L295.5 608.8L297 608.8L298.5 608.8L300 608.8L301.5 608.8L303 608.8L304.5 608.8L306 608.8L307.5 608.8L309 608.8L310.5 608.8L312 608.8L313.5 608.8L315 608.8L316.5 608.8L318 608.8L319.5 608.8L321 608.8L322.5 608.8L324 608.8L325.5 608.8L327 608.8L328.5 608.8L330 608.8L331.5 608.8L333 608.8L334.5 608.8L336 608.8L337.5 608.8L339 608.8L340.5 608.8L342 608.8L343.5 608.8L345 608.8L346.5 608.8L348 608.8L349.5 608.8L351 608.8L352.5 608.8L354 608.8L355.5 608.8L357 608.8L358.5 608.8L360 608.8L361.5 608.8L363 608.8L364.5 608.8L366 608.8L367.5 608.8L369 608.8L370.5 608.8L372 608.8L373.5 608.8L375 608.8L376.5 608.8L378 608.8L379.5 608.8L381 608.8L382.5 608.8L384 608.8L385.5 608.8L387 608.8L388.5 608.8L390 608.8L391.5 608.8L393 608.8L394.5 608.8L396 608.8L397.5 608.8L399 608.8L400.5 608.8L402 608.8L403.5 608.8L405 608.8L406.5 608.8L408 608.8L409.5 608.8L411 608.8L412.5 608.8L414 608.8L415.5 608.8L417 608.8L418.5 608.8L420 608.8L421.5 608.8L423 608.8L424.5 608.8L426 608.8L427.5 608.8L429 608.8L430.5 608.8L432 608.8L433.5 608.8L435 608.8L436.5 608.8L438 608.8L439.5 608.8L441 608.8L442.5 608.8L444 608.8L445.5 608.8L447 608.8L448.5 608.8L450 608.8L451.5 608.8L453 608.8L454.5 608.8L456 608.8L457.5 608.8L459 608.8L460.5 608.8L462 608.8L463.5 608.8L465 608.8L466.5 608.8L468 608.8L469.5 608.8L471 608.8L472.5 608.8L474 608.8L475.5 608.8L477 608.8L478.5 608.8L480 608.8L481.5 608.8L483 608.8L484.5 608.8L486 608.8L487.5 608.8L489 608.8L490.5 608.8L492 608.8L493.5 608.8L495 608.8L496.5 608.9L498 608.9L499.5 609L501 609L502.5 609.1L504 609.1L505.5 609.2L507 609.3L508.5 609.4L510 609.4L511.5 609.5L513 609.6L514.5 609.7L516 609.8L517.5 609.9L519 610L520.5 610.1L522 610.2L523.5 610.3L525 610.4L526.5 610.5L528 610.6L529.5 610.7L531 610.8L532.5 610.9L534 611L535.5 611.1L537 611.1L538.5 611.2L540 611.3L541.5 611.4L543 611.5L544.5 611.5L546 611.6L547.5 611.7L549 611.7L550.5 611.8L552 611.9L553.5 611.9L555 612L556.5 612.1L558 612.2L559.5 612.2L561 612.3L562.5 612.4L564 612.4L565.5 612.5L567 612.6L568.5 612.6L570 612.7L571.5 612.8L573 612.8L574.5 612.9L576 613L577.5 613.1L579 613.1L580.5 613.2L582 613.3L583.5 613.4L585 613.4L586.5 613.5L588 613.6L589.5 613.7L591 613.8L592.5 613.9L594 613.9L595.5 614L597 614.1L598.5 614.2L600 614.3L601.5 614.4L603 614.5L604.5 614.6L606 614.7L607.5 614.9L609 615L610.5 615.1L612 615.2L613.5 615.3L615 615.5L616.5 615.6L618 615.7L619.5 615.9L621 616L622.5 616.1L624 616.3L625.5 616.4L627 616.5L628.5 616.7L630 616.8L631.5 616.9L633 617.1L634.5 617.2L636 617.3L637.5 617.5L639 617.6L640.5 617.7L642 617.8L643.5 618L645 618.1L646.5 618.2L648 618.4L649.5 618.5L651 618.6L652.5 618.7L654 618.9L655.5 619L657 619.1L658.5 619.3L660 619.4L661.5 619.5L663 619.7L664.5 619.8L666 619.9L667.5 620.1L669 620.2L670.5 620.3L672 620.5L673.5 620.6L675 620.8L676.5 620.9L678 621.1L679.5 621.2L681 621.4L682.5 621.5L684 621.7L685.5 621.9L687 622.1L688.5 622.4L690 622.6L690.2 622.7L690.5 622.7L690.8 622.8L691 622.8L691.2 622.9L691.5 622.9L691.8 623L692 623L692.2 623.1L692.5 623.1L692.8 623.2L693 623.2L693.2 623.3L693.5 623.3L693.8 623.4L694 623.4L694.2 623.5L694.5 623.5L694.8 623.6L695 623.7L695.2 623.7L695.5 623.8L695.8 623.8L696 623.9L696.2 624L696.5 624.1L696.8 624.1L697 624.2L697.2 624.3L697.5 624.4L697.8 624.5L698 624.6L698.2 624.7L698.5 624.8L698.8 624.9L699 625L699.2 625.1L699.5 625.3L699.8 625.4L700 625.6L700.2 625.8L700.5 626L700.8 626.2L701 626.4L701.2 626.7L701.5 626.9L701.8 627.3L702 627.6L702.2 628L702.5 628.4L702.8 628.9L703 629.5L703.2 630.2L703.5 630.9L703.8 631.8L704 632.9L704.2 634.1L704.5 635.5L704.8 637.2L705 639.2L705.2 641.5L705.5 644.4L705.8 647.7L706 651.6L706.2 656.2L706.5 661.3L706.8 666.7L707 671.9L707.2 676.2L707.5 678.5L707.8 678.2L708 675.3L708.2 670.6L708.5 665.1L708.8 659.6L709 654.4L709.2 649.9L709.5 646L709.8 642.6L710 639.7L710.2 637.3L710.5 635.3L710.8 633.5L711 632L711.2 630.7L711.5 629.6L711.8 628.7L712 627.8L712.2 627.1L712.5 626.4L712.8 625.8L713 625.3L713.2 624.9L713.5 624.4L713.8 624.1L714 623.7L714.2 623.4L714.5 623.2L714.8 622.9L715 622.7L715.2 622.5L715.5 622.3L715.8 622.1L716 622L716.2 621.8L716.5 621.7L716.8 621.6L717 621.5L717.2 621.3L717.5 621.2L717.8 621.2L718 621.1L718.2 621L718.5 620.9L718.8 620.8L719 620.8L719.2 620.7L719.5 620.6L719.8 620.6L720 620.5L720.2 620.5L720.5 620.4L720.8 620.4L721 620.3L721.2 620.3L721.5 620.2L721.8 620.2L722 620.2L722.2 620.1L722.5 620.1L722.8 620L723 620L723.2 620L723.5 619.9L723.8 619.9L724 619.9L724.2 619.9L724.5 619.8L724.8 619.8L725 619.8L725.2 619.8L725.5 619.7L725.8 619.7L726 619.7L726.2 619.7L726.5 619.7L726.8 619.6L727 619.6L727.2 619.6L727.5 619.6L727.8 619.6L728 619.6L728.2 619.5L728.5 619.5L728.8 619.5L729 619.5L729.2 619.5L729.5 619.5L729.8 619.5L730 619.4L731.5 619.4L733 619.3L734.5 619.3L736 619.3L737.5 619.3L739 619.3L740.5 619.3L742 619.3L743.5 619.3L745 619.4L746.5 619.4L748 619.5L749.5 619.5L751 619.6L752.5 619.6L754 619.7L755.5 619.8L757 619.9L758.5 619.9L760 620L761.5 620.1L763 620.2L764.5 620.3L766 620.4L767.5 620.5L769 620.6L770.5 620.7L772 620.8L773.5 620.8L775 620.9L776.5 621L778 621.1L779.5 621.2L781 621.3L782.5 621.4L784 621.5L785.5 621.6L787 621.7L788.5 621.8L790 621.9L791.5 622L793 622.1L794.5 622.2L796 622.3L797.5 622.4L799 622.5L800.5 622.6L802 622.8L803.5 622.9L805 623L806.5 623.1L808 623.3L809.5 623.4L811 623.5L812.5 623.6L814 623.8L815.5 623.9L817 624L818.5 624.2L820 624.3L821.5 624.5L823 624.6L824.5 624.7L826 624.9L827.5 625L829 625.2L830.5 625.4L832 625.5L833.5 625.7L835 625.8L836.5 626L838 626.2L839.5 626.3L841 626.5L842.5 626.7L844 626.9L845.5 627L847 627.2L848.5 627.4L850 627.6L851.5 627.8L853 628L854.5 628.2L856 628.4L857.5 628.6L859 628.8L860.5 629L862 629.2L863.5 629.4L865 629.7L866.5 629.9L868 630.2L869.5 630.4L871 630.7L872.5 630.9L874 631.2L875.5 631.5L877 631.7L878.5 632L880 632.3L881.5 632.6L883 632.9L884.5 633.3L886 633.6L887.5 633.9L889 634.3L890.5 634.6L892 635L893.5 635.3L895 635.7L896.5 636.1L898 636.5L899.5 636.9L901 637.3L902.5 637.8L904 638.2L905.5 638.7L907 639.2L908.5 639.6L910 640.1L911.5 640.7L913 641.2L914.5 641.8L916 642.3L917.5 642.9L919 643.5L920.5 644.2L922 644.8L923.5 645.5L925 646.2L926.5 646.9L928 647.6L929.5 648.4L931 649.1L932.5 649.9L934 650.8L935.5 651.6L937 652.5L938.5 653.4L940 654.3L941.5 655.3L943 656.2L944.5 657.2L946 658.3L947.5 659.3L949 660.4L950.5 661.5L952 662.6L953.5 663.8L955 665L956.5 666.2L958 667.5L959.5 668.8L961 670.2L962.5 671.6L964 673L965.5 674.4L967 675.9L968.5 677.4L970 678.9L971.5 680.5L973 682L974.5 683.6L976 685.2L977.5 686.9L979 688.5L980.5 690.2L982 691.8L983.5 693.5L985 695.2L986.5 696.9L988 698.7L989.5 700.4L991 702.1L992.5 703.9L994 705.6L995.5 707.3L997 709.1L998.5 710.8L1000 712.6L1001.5 714.3L1003 716L1004.5 717.8L1006 719.6L1007.5 721.3L1009 723.1L1010.5 724.9L1012 726.7L1013.5 728.5L1015 730.3L1016.5 732.1L1018 733.9L1019.5 735.7L1021 737.4L1022.5 739.2L1024 741L1025.5 742.8L1027 744.5L1028.5 746.3L1030 748L1031.5 749.7L1033 751.4L1034.5 753.1L1036 754.8L1037.5 756.5L1039 758.1L1040.5 759.8L1042 761.4L1043.5 763L1045 764.6L1046.5 766.2L1048 767.8L1049.5 769.4L1051 771L1052.5 772.6L1054 774.2L1055.5 775.8L1057 777.4L1058.5 778.9L1060 780.5L1061.5 782L1063 783.6L1064.5 785.1L1066 786.6L1067.5 788.2L1069 789.7L1070.5 791.2L1072 792.7L1073.5 794.2L1075 795.7L1076.5 797.1L1078 798.6L1079.5 800.1L1081 801.5L1082.5 803L1084 804.4L1085.5 805.9L1087 807.3L1088.5 808.7L1090 810.1L1091.5 811.5L1093 812.9L1094.5 814.3L1096 815.7L1097.5 817.1L1099 818.5L1100.5 819.9L1102 821.2L1103.5 822.6L1105 824L1106.5 825.3L1108 826.7L1109.5 828L1111 829.3L1112.5 830.6L1114 831.9L1115.5 833.2L1117 834.4L1118.5 835.6L1120 836.8L1121.5 838L1123 839.2L1124.5 840.4L1126 841.5L1127.5 842.7L1129 843.8L1130.5 845L1132 846.1L1133.5 847.3L1135 848.4L1136.5 849.6L1138 850.7L1139.5 851.9L1141 853.1L1142.5 854.3L1144 855.5L1145.5 856.7L1147 857.9L1148.5 859.2L1150 860.5L1151.5 861.8L1153 863.1L1154.5 864.4L1156 865.7L1157.5 867L1159 868.3L1160.5 869.6L1162 870.9L1163.5 872.2L1165 873.5L1166.5 874.8L1168 876.1L1169.5 877.4L1171 878.7L1172.5 880L1174 881.3L1175.5 882.6L1177 883.9L1178.5 885.1L1180 886.4L1181.5 887.7L1183 889L1184.5 890.3L1186 891.6L1187.5 892.9L1189 894.2L1190.5 895.5L1192 896.8L1193.5 898.1L1195 899.4L1196.5 900.7L1198 902L1199.5 903.3L1201 904.6L1202.5 905.9L1204 907.2L1205.5 908.5L1207 909.8L1208.5 911.1L1210 912.4L1211.5 913.7L1213 915L1214.5 916.3L1216 917.6L1217.5 919L1219 920.3L1220.5 921.6L1222 922.9L1223.5 924.2L1225 925.5L1226.5 926.8L1228 928.2L1229.5 929.5L1231 930.8L1232.5 932.1L1234 933.5L1235.5 934.8L1237 936.1L1238.5 937.4L1240 938.8L1241.5 940.1L1243 941.4L1244.5 942.8L1246 944.1L1247.5 945.5L1249 946.8L1250.5 948.1L1252 949.5L1253.5 950.8L1255 952.2L1256.5 953.5L1258 954.9L1259.5 956.3L1261 957.6L1262.5 959L1264 960.3L1265.5 961.7L1267 963.1L1268.5 964.5L1270 965.8L1271.5 967.2L1273 968.6L1274.5 970L1276 971.4L1277.5 972.7L1279 974.1L1280.5 975.5L1282 976.9L1283.5 978.3L1285 979.7L1286.5 981.2L1288 982.6L1289.5 984L1291 985.4L1292.5 986.8L1294 988.3L1295.5 989.7L1297 991.1L1298.5 992.6L1300 994L1301.5 995.5L1302.5 996.4" stroke="#50718a" stroke-width="1.35"/>
<path d="M169.5 608.8L171 608.8L172.5 608.8L174 608.8L175.5 608.8L177 608.8L178.5 608.8L180 608.8L181.5 608.8L183 608.8L184.5 608.8L186 608.8L187.5 608.8L189 608.8L190.5 608.8L192 608.8L193.5 608.8L195 608.8L196.5 608.8L198 608.8L199.5 608.8L201 608.8L202.5 608.8L204 608.8L205.5 608.8L207 608.8L208.5 608.8L210 608.8L211.5 608.8L213 608.8L214.5 608.8L216 608.8L217.5 608.8L219 608.8L220.5 608.8L222 608.8L223.5 608.8L225 608.8L226.5 608.8L228 608.8L229.5 608.8L231 608.8L232.5 608.8L234 608.8L235.5 608.8L237 608.8L238.5 608.8L240 608.8L241.5 608.8L243 608.8L244.5 608.8L246 608.8L247.5 608.8L249 608.8L250.5 608.8L252 608.8L253.5 608.8L255 608.8L256.5 608.8L258 608.8L259.5 608.8L261 608.8L262.5 608.8L264 608.8L265.5 608.8L267 608.8L268.5 608.8L270 608.8L271.5 608.8L273 608.8L274.5 608.8L276 608.8L277.5 608.8L279 608.8L280.5 608.8L282 608.8L283.5 608.8L285 608.8L286.5 608.8L288 608.8L289.5 608.8L291 608.8L292.5 608.8L294 608.8L295.5 608.8L297 608.8L298.5 608.8L300 608.8L301.5 608.8L303 608.8L304.5 608.8L306 608.8L307.5 608.8L309 608.8L310.5 608.8L312 608.8L313.5 608.8L315 608.8L316.5 608.8L318 608.8L319.5 608.8L321 608.8L322.5 608.8L324 608.8L325.5 608.8L327 608.8L328.5 608.8L330 608.8L331.5 608.8L333 608.8L334.5 608.8L336 608.8L337.5 608.8L339 608.8L340.5 608.8L342 608.8L343.5 608.8L345 608.8L346.5 608.8L348 608.8L349.5 608.8L351 608.8L352.5 608.8L354 608.8L355.5 608.8L357 608.8L358.5 608.8L360 608.8L361.5 608.8L363 608.8L364.5 608.8L366 608.8L367.5 608.8L369 608.8L370.5 608.8L372 608.8L373.5 608.8L375 608.8L376.5 608.8L378 608.8L379.5 608.8L381 608.8L382.5 608.8L384 608.8L385.5 608.8L387 608.8L388.5 608.8L390 608.8L391.5 608.8L393 608.8L394.5 608.8L396 608.8L397.5 608.8L399 608.8L400.5 608.8L402 608.8L403.5 608.8L405 608.8L406.5 608.8L408 608.8L409.5 608.8L411 608.8L412.5 608.8L414 608.8L415.5 608.8L417 608.8L418.5 608.8L420 608.8L421.5 608.8L423 608.8L424.5 608.8L426 608.8L427.5 608.8L429 608.8L430.5 608.8L432 608.8L433.5 608.8L435 608.8L436.5 608.8L438 608.8L439.5 608.8L441 608.8L442.5 608.8L444 608.8L445.5 608.8L447 608.8L448.5 608.8L450 608.8L451.5 608.8L453 608.8L454.5 608.8L456 608.8L457.5 608.8L459 608.8L460.5 608.8L462 608.8L463.5 608.8L465 608.8L466.5 608.8L468 608.8L469.5 608.8L471 608.8L472.5 608.8L474 608.8L475.5 608.8L477 608.8L478.5 608.8L480 608.8L481.5 608.8L483 608.8L484.5 608.8L486 608.8L487.5 608.8L489 608.8L490.5 608.8L492 608.8L493.5 608.8L495 608.8L496.5 608.8L498 608.8L499.5 608.8L501 608.8L502.5 608.8L504 608.8L505.5 608.8L507 608.8L508.5 608.8L510 608.8L511.5 608.8L513 608.8L514.5 608.8L516 608.8L517.5 608.8L519 608.8L520.5 608.8L522 608.8L523.5 608.8L525 608.8L526.5 608.8L528 608.8L529.5 608.8L531 608.8L532.5 608.8L534 608.8L535.5 608.8L537 608.8L538.5 608.8L540 608.8L541.5 608.8L543 608.8L544.5 608.8L546 608.8L547.5 608.8L549 608.8L550.5 608.8L552 608.8L553.5 608.8L555 608.8L556.5 608.8L558 608.8L559.5 608.8L561 608.8L562.5 608.8L564 608.8L565.5 608.8L567 608.8L568.5 608.8L570 608.8L571.5 608.8L573 608.8L574.5 608.8L576 608.8L577.5 608.8L579 608.8L580.5 608.8L582 608.8L583.5 608.8L585 608.8L586.5 608.8L588 608.8L589.5 608.8L591 608.8L592.5 608.8L594 608.8L595.5 608.8L597 608.8L598.5 608.8L600 608.8L601.5 608.8L603 608.8L604.5 608.8L606 608.8L607.5 608.8L609 608.8L610.5 608.8L612 608.8L613.5 608.8L615 608.8L616.5 608.8L618 608.8L619.5 608.8L621 608.8L622.5 608.8L624 608.8L625.5 608.8L627 608.8L628.5 608.8L630 608.8L631.5 608.8L633 608.8L634.5 608.8L636 608.8L637.5 608.8L639 608.8L640.5 608.8L642 608.8L643.5 608.8L645 608.8L646.5 608.8L648 608.8L649.5 608.8L651 608.8L652.5 608.8L654 608.9L655.5 608.9L657 608.9L658.5 608.9L660 608.9L661.5 608.9L663 608.9L664.5 608.9L666 608.9L667.5 608.9L669 608.9L670.5 608.9L672 608.9L673.5 608.9L675 608.9L676.5 608.9L678 609L679.5 609L681 609L682.5 609L684 609L685.5 609.1L687 609.1L688.5 609.1L690 609.2L690.2 609.2L690.5 609.2L690.8 609.2L691 609.3L691.2 609.3L691.5 609.3L691.8 609.3L692 609.3L692.2 609.3L692.5 609.3L692.8 609.4L693 609.4L693.2 609.4L693.5 609.4L693.8 609.4L694 609.5L694.2 609.5L694.5 609.5L694.8 609.5L695 609.6L695.2 609.6L695.5 609.6L695.8 609.6L696 609.7L696.2 609.7L696.5 609.8L696.8 609.8L697 609.8L697.2 609.9L697.5 609.9L697.8 610L698 610.1L698.2 610.1L698.5 610.2L698.8 610.3L699 610.4L699.2 610.4L699.5 610.5L699.8 610.7L700 610.8L700.2 610.9L700.5 611L700.8 611.2L701 611.4L701.2 611.6L701.5 611.8L701.8 612L702 612.3L702.2 612.6L702.5 613L702.8 613.4L703 613.9L703.2 614.4L703.5 615.1L703.8 615.8L704 616.7L704.2 617.7L704.5 619L704.8 620.5L705 622.3L705.2 624.6L705.5 627.4L705.8 630.9L706 635.3L706.2 640.9L706.5 647.8L706.8 656.1L707 665.4L707.2 674.3L707.5 679.9L707.8 679.2L708 672.7L708.2 663.5L708.5 654.3L708.8 646.3L709 639.6L709.2 634.3L709.5 630.1L709.8 626.8L710 624.1L710.2 621.9L710.5 620.1L710.8 618.6L711 617.4L711.2 616.4L711.5 615.6L711.8 614.8L712 614.2L712.2 613.7L712.5 613.2L712.8 612.8L713 612.5L713.2 612.2L713.5 611.9L713.8 611.6L714 611.4L714.2 611.2L714.5 611L714.8 610.9L715 610.7L715.2 610.6L715.5 610.5L715.8 610.4L716 610.3L716.2 610.2L716.5 610.1L716.8 610L717 609.9L717.2 609.9L717.5 609.8L717.8 609.7L718 609.7L718.2 609.6L718.5 609.6L718.8 609.5L719 609.5L719.2 609.5L719.5 609.4L719.8 609.4L720 609.4L720.2 609.3L720.5 609.3L720.8 609.3L721 609.2L721.2 609.2L721.5 609.2L721.8 609.2L722 609.2L722.2 609.1L722.5 609.1L722.8 609.1L723 609.1L723.2 609.1L723.5 609L723.8 609L724 609L724.2 609L724.5 609L724.8 609L725 609L725.2 609L725.5 608.9L725.8 608.9L726 608.9L726.2 608.9L726.5 608.9L726.8 608.9L727 608.9L727.2 608.9L727.5 608.9L727.8 608.9L728 608.9L728.2 608.8L728.5 608.8L728.8 608.8L729 608.8L729.2 608.8L729.5 608.8L729.8 608.8L730 608.8L731.5 608.8L733 608.8L734.5 608.7L736 608.7L737.5 608.7L739 608.7L740.5 608.7L742 608.7L743.5 608.7L745 608.7L746.5 608.7L748 608.7L749.5 608.7L751 608.7L752.5 608.7L754 608.7L755.5 608.7L757 608.7L758.5 608.7L760 608.7L761.5 608.7L763 608.7L764.5 608.7L766 608.7L767.5 608.7L769 608.7L770.5 608.7L772 608.7L773.5 608.7L775 608.7L776.5 608.7L778 608.7L779.5 608.7L781 608.7L782.5 608.7L784 608.8L785.5 608.8L787 608.8L788.5 608.8L790 608.8L791.5 608.8L793 608.8L794.5 608.8L796 608.8L797.5 608.8L799 608.9L800.5 608.9L802 608.9L803.5 608.9L805 608.9L806.5 608.9L808 608.9L809.5 609L811 609L812.5 609L814 609L815.5 609L817 609L818.5 609.1L820 609.1L821.5 609.1L823 609.1L824.5 609.2L826 609.2L827.5 609.2L829 609.2L830.5 609.3L832 609.3L833.5 609.3L835 609.4L836.5 609.4L838 609.4L839.5 609.5L841 609.5L842.5 609.6L844 609.6L845.5 609.6L847 609.7L848.5 609.7L850 609.7L851.5 609.8L853 609.8L854.5 609.8L856 609.8L857.5 609.9L859 609.9L860.5 609.9L862 610L863.5 610L865 610L866.5 610.1L868 610.1L869.5 610.2L871 610.2L872.5 610.3L874 610.4L875.5 610.5L877 610.5L878.5 610.6L880 610.7L881.5 610.8L883 610.9L884.5 611L886 611.1L887.5 611.3L889 611.4L890.5 611.5L892 611.7L893.5 611.8L895 612L896.5 612.2L898 612.4L899.5 612.6L901 612.8L902.5 613L904 613.2L905.5 613.5L907 613.7L908.5 614L910 614.2L911.5 614.5L913 614.8L914.5 615.2L916 615.5L917.5 615.9L919 616.2L920.5 616.6L922 617L923.5 617.4L925 617.9L926.5 618.3L928 618.8L929.5 619.3L931 619.9L932.5 620.4L934 621L935.5 621.6L937 622.2L938.5 622.8L940 623.5L941.5 624.2L943 624.9L944.5 625.7L946 626.4L947.5 627.2L949 628L950.5 628.9L952 629.8L953.5 630.7L955 631.6L956.5 632.6L958 633.6L959.5 634.6L961 635.7L962.5 636.8L964 637.9L965.5 639L967 640.2L968.5 641.4L970 642.6L971.5 643.8L973 645.1L974.5 646.4L976 647.7L977.5 649L979 650.3L980.5 651.7L982 653L983.5 654.4L985 655.8L986.5 657.2L988 658.7L989.5 660.1L991 661.5L992.5 663L994 664.5L995.5 665.9L997 667.4L998.5 668.9L1000 670.4L1001.5 671.8L1003 673.3L1004.5 674.8L1006 676.4L1007.5 677.9L1009 679.4L1010.5 680.9L1012 682.5L1013.5 684L1015 685.6L1016.5 687.1L1018 688.7L1019.5 690.2L1021 691.8L1022.5 693.4L1024 694.9L1025.5 696.5L1027 698.1L1028.5 699.6L1030 701.2L1031.5 702.8L1033 704.4L1034.5 705.9L1036 707.5L1037.5 709.1L1039 710.7L1040.5 712.2L1042 713.8L1043.5 715.4L1045 717L1046.5 718.5L1048 720.1L1049.5 721.6L1051 723.2L1052.5 724.7L1054 726.3L1055.5 727.8L1057 729.3L1058.5 730.8L1060 732.4L1061.5 733.9L1063 735.4L1064.5 736.9L1066 738.4L1067.5 739.9L1069 741.3L1070.5 742.8L1072 744.3L1073.5 745.8L1075 747.2L1076.5 748.7L1078 750.1L1079.5 751.5L1081 753L1082.5 754.4L1084 755.8L1085.5 757.2L1087 758.6L1088.5 760L1090 761.4L1091.5 762.8L1093 764.2L1094.5 765.6L1096 766.9L1097.5 768.3L1099 769.7L1100.5 771L1102 772.4L1103.5 773.8L1105 775.1L1106.5 776.5L1108 777.8L1109.5 779.1L1111 780.5L1112.5 781.8L1114 783.1L1115.5 784.5L1117 785.8L1118.5 787.1L1120 788.4L1121.5 789.7L1123 791.1L1124.5 792.4L1126 793.7L1127.5 795L1129 796.3L1130.5 797.6L1132 798.9L1133.5 800.2L1135 801.5L1136.5 802.8L1138 804.1L1139.5 805.4L1141 806.7L1142.5 808L1144 809.3L1145.5 810.6L1147 811.9L1148.5 813.2L1150 814.5L1151.5 815.8L1153 817.1L1154.5 818.4L1156 819.7L1157.5 821L1159 822.3L1160.5 823.6L1162 824.9L1163.5 826.2L1165 827.5L1166.5 828.7L1168 830L1169.5 831.3L1171 832.6L1172.5 833.9L1174 835.2L1175.5 836.5L1177 837.7L1178.5 839L1180 840.3L1181.5 841.6L1183 842.9L1184.5 844.2L1186 845.4L1187.5 846.7L1189 848L1190.5 849.3L1192 850.6L1193.5 851.9L1195 853.2L1196.5 854.5L1198 855.7L1199.5 857L1201 858.3L1202.5 859.6L1204 860.9L1205.5 862.2L1207 863.5L1208.5 864.8L1210 866.1L1211.5 867.4L1213 868.7L1214.5 870L1216 871.3L1217.5 872.6L1219 873.9L1220.5 875.2L1222 876.5L1223.5 877.8L1225 879.1L1226.5 880.4L1228 881.7L1229.5 883L1231 884.3L1232.5 885.6L1234 886.9L1235.5 888.2L1237 889.5L1238.5 890.8L1240 892.1L1241.5 893.5L1243 894.8L1244.5 896.1L1246 897.4L1247.5 898.7L1249 900L1250.5 901.4L1252 902.7L1253.5 904L1255 905.3L1256.5 906.7L1258 908L1259.5 909.3L1261 910.7L1262.5 912L1264 913.3L1265.5 914.7L1267 916L1268.5 917.3L1270 918.7L1271.5 920L1273 921.4L1274.5 922.7L1276 924.1L1277.5 925.4L1279 926.8L1280.5 928.2L1282 929.5L1283.5 930.9L1285 932.3L1286.5 933.6L1288 935L1289.5 936.4L1291 937.7L1292.5 939.1L1294 940.5L1295.5 941.9L1297 943.3L1298.5 944.7L1300 946.1L1301.5 947.5L1302.5 948.4" stroke="#3d93d0" stroke-width="1.4"/>
<path d="M169.5 608.8L171 608.8L172.5 608.8L174 608.8L175.5 608.8L177 608.8L178.5 608.8L180 608.8L181.5 608.8L183 608.8L184.5 608.8L186 608.8L187.5 608.8L189 608.8L190.5 608.8L192 608.8L193.5 608.8L195 608.8L196.5 608.8L198 608.8L199.5 608.8L201 608.8L202.5 608.8L204 608.8L205.5 608.8L207 608.8L208.5 608.8L210 608.8L211.5 608.8L213 608.8L214.5 608.8L216 608.8L217.5 608.8L219 608.8L220.5 608.8L222 608.8L223.5 608.8L225 608.8L226.5 608.8L228 608.8L229.5 608.8L231 608.8L232.5 608.8L234 608.8L235.5 608.8L237 608.8L238.5 608.8L240 608.8L241.5 608.8L243 608.8L244.5 608.8L246 608.8L247.5 608.8L249 608.8L250.5 608.8L252 608.8L253.5 608.8L255 608.8L256.5 608.8L258 608.8L259.5 608.8L261 608.8L262.5 608.8L264 608.8L265.5 608.8L267 608.8L268.5 608.8L270 608.8L271.5 608.8L273 608.8L274.5 608.8L276 608.8L277.5 608.8L279 608.8L280.5 608.8L282 608.8L283.5 608.8L285 608.8L286.5 608.8L288 608.8L289.5 608.8L291 608.8L292.5 608.8L294 608.8L295.5 608.8L297 608.8L298.5 608.8L300 608.8L301.5 608.8L303 608.8L304.5 608.8L306 608.8L307.5 608.8L309 608.8L310.5 608.8L312 608.8L313.5 608.8L315 608.8L316.5 608.8L318 608.8L319.5 608.8L321 608.8L322.5 608.8L324 608.8L325.5 608.8L327 608.8L328.5 608.8L330 608.8L331.5 608.8L333 608.8L334.5 608.8L336 608.8L337.5 608.8L339 608.8L340.5 608.8L342 608.8L343.5 608.8L345 608.8L346.5 608.8L348 608.8L349.5 608.8L351 608.8L352.5 608.8L354 608.8L355.5 608.8L357 608.8L358.5 608.8L360 608.8L361.5 608.8L363 608.8L364.5 608.8L366 608.8L367.5 608.8L369 608.8L370.5 608.8L372 608.8L373.5 608.8L375 608.8L376.5 608.8L378 608.8L379.5 608.8L381 608.8L382.5 608.8L384 608.8L385.5 608.8L387 608.8L388.5 608.8L390 608.8L391.5 608.8L393 608.8L394.5 608.8L396 608.8L397.5 608.8L399 608.8L400.5 608.8L402 608.8L403.5 608.8L405 608.8L406.5 608.8L408 608.8L409.5 608.8L411 608.8L412.5 608.8L414 608.8L415.5 608.8L417 608.8L418.5 608.8L420 608.8L421.5 608.8L423 608.8L424.5 608.8L426 608.8L427.5 608.8L429 608.8L430.5 608.8L432 608.8L433.5 608.8L435 608.8L436.5 608.8L438 608.8L439.5 608.8L441 608.8L442.5 608.8L444 608.8L445.5 608.8L447 608.8L448.5 608.8L450 608.8L451.5 608.8L453 608.8L454.5 608.8L456 608.8L457.5 608.8L459 608.8L460.5 608.8L462 608.8L463.5 608.8L465 608.8L466.5 608.8L468 608.8L469.5 608.8L471 608.8L472.5 608.8L474 608.8L475.5 608.8L477 608.8L478.5 608.8L480 608.8L481.5 608.8L483 608.8L484.5 608.8L486 608.8L487.5 608.8L489 608.8L490.5 608.8L492 608.8L493.5 608.8L495 608.8L496.5 608.8L498 608.8L499.5 608.8L501 608.8L502.5 608.8L504 608.8L505.5 608.8L507 608.8L508.5 608.8L510 608.8L511.5 608.8L513 608.8L514.5 608.8L516 608.8L517.5 608.8L519 608.8L520.5 608.8L522 608.8L523.5 608.8L525 608.8L526.5 608.8L528 608.8L529.5 608.8L531 608.8L532.5 608.8L534 608.8L535.5 608.8L537 608.8L538.5 608.8L540 608.8L541.5 608.8L543 608.8L544.5 608.8L546 608.8L547.5 608.8L549 608.8L550.5 608.8L552 608.8L553.5 608.8L555 608.8L556.5 608.8L558 608.8L559.5 608.8L561 608.8L562.5 608.8L564 608.8L565.5 608.8L567 608.8L568.5 608.8L570 608.8L571.5 608.8L573 608.8L574.5 608.8L576 608.8L577.5 608.8L579 608.8L580.5 608.8L582 608.8L583.5 608.8L585 608.8L586.5 608.8L588 608.8L589.5 608.8L591 608.8L592.5 608.8L594 608.8L595.5 608.8L597 608.8L598.5 608.8L600 608.8L601.5 608.8L603 608.8L604.5 608.8L606 608.8L607.5 608.8L609 608.8L610.5 608.8L612 608.8L613.5 608.8L615 608.8L616.5 608.8L618 608.8L619.5 608.8L621 608.8L622.5 608.8L624 608.8L625.5 608.8L627 608.8L628.5 608.8L630 608.8L631.5 608.8L633 608.8L634.5 608.8L636 608.8L637.5 608.8L639 608.8L640.5 608.8L642 608.8L643.5 608.8L645 608.8L646.5 608.8L648 608.8L649.5 608.8L651 608.8L652.5 608.8L654 608.9L655.5 608.9L657 608.9L658.5 608.9L660 608.9L661.5 608.9L663 608.9L664.5 608.9L666 608.9L667.5 608.9L669 608.9L670.5 608.9L672 608.9L673.5 608.9L675 608.9L676.5 608.9L678 609L679.5 609L681 609L682.5 609L684 609L685.5 609.1L687 609.1L688.5 609.1L690 609.2L690.2 609.2L690.5 609.2L690.8 609.2L691 609.3L691.2 609.3L691.5 609.3L691.8 609.3L692 609.3L692.2 609.3L692.5 609.3L692.8 609.4L693 609.4L693.2 609.4L693.5 609.4L693.8 609.4L694 609.5L694.2 609.5L694.5 609.5L694.8 609.5L695 609.6L695.2 609.6L695.5 609.6L695.8 609.6L696 609.7L696.2 609.7L696.5 609.8L696.8 609.8L697 609.8L697.2 609.9L697.5 609.9L697.8 610L698 610.1L698.2 610.1L698.5 610.2L698.8 610.3L699 610.4L699.2 610.4L699.5 610.5L699.8 610.7L700 610.8L700.2 610.9L700.5 611L700.8 611.2L701 611.4L701.2 611.6L701.5 611.8L701.8 612L702 612.3L702.2 612.6L702.5 613L702.8 613.4L703 613.9L703.2 614.4L703.5 615.1L703.8 615.8L704 616.7L704.2 617.7L704.5 619L704.8 620.5L705 622.3L705.2 624.6L705.5 627.4L705.8 630.9L706 635.3L706.2 640.9L706.5 647.8L706.8 656.1L707 665.4L707.2 674.3L707.5 679.9L707.8 679.2L708 672.7L708.2 663.5L708.5 654.3L708.8 646.3L709 639.6L709.2 634.3L709.5 630.1L709.8 626.8L710 624.1L710.2 621.9L710.5 620.1L710.8 618.6L711 617.4L711.2 616.4L711.5 615.6L711.8 614.8L712 614.2L712.2 613.7L712.5 613.2L712.8 612.8L713 612.5L713.2 612.2L713.5 611.9L713.8 611.6L714 611.4L714.2 611.2L714.5 611L714.8 610.9L715 610.7L715.2 610.6L715.5 610.5L715.8 610.4L716 610.3L716.2 610.2L716.5 610.1L716.8 610L717 609.9L717.2 609.9L717.5 609.8L717.8 609.7L718 609.7L718.2 609.6L718.5 609.6L718.8 609.5L719 609.5L719.2 609.5L719.5 609.4L719.8 609.4L720 609.4L720.2 609.3L720.5 609.3L720.8 609.3L721 609.2L721.2 609.2L721.5 609.2L721.8 609.2L722 609.2L722.2 609.1L722.5 609.1L722.8 609.1L723 609.1L723.2 609.1L723.5 609L723.8 609L724 609L724.2 609L724.5 609L724.8 609L725 609L725.2 609L725.5 608.9L725.8 608.9L726 608.9L726.2 608.9L726.5 608.9L726.8 608.9L727 608.9L727.2 608.9L727.5 608.9L727.8 608.9L728 608.9L728.2 608.8L728.5 608.8L728.8 608.8L729 608.8L729.2 608.8L729.5 608.8L729.8 608.8L730 608.8L731.5 608.8L733 608.8L734.5 608.7L736 608.7L737.5 608.7L739 608.7L740.5 608.7L742 608.7L743.5 608.7L745 608.7L746.5 608.7L748 608.7L749.5 608.7L751 608.7L752.5 608.7L754 608.7L755.5 608.7L757 608.7L758.5 608.7L760 608.7L761.5 608.7L763 608.7L764.5 608.7L766 608.7L767.5 608.7L769 608.7L770.5 608.7L772 608.7L773.5 608.7L775 608.7L776.5 608.7L778 608.7L779.5 608.7L781 608.7L782.5 608.7L784 608.8L785.5 608.8L787 608.8L788.5 608.8L790 608.8L791.5 608.8L793 608.8L794.5 608.8L796 608.8L797.5 608.8L799 608.9L800.5 608.9L802 608.9L803.5 608.9L805 608.9L806.5 608.9L808 608.9L809.5 609L811 609L812.5 609L814 609L815.5 609L817 609L818.5 609.1L820 609.1L821.5 609.1L823 609.1L824.5 609.2L826 609.2L827.5 609.2L829 609.2L830.5 609.3L832 609.3L833.5 609.3L835 609.4L836.5 609.4L838 609.4L839.5 609.5L841 609.5L842.5 609.6L844 609.6L845.5 609.7L847 609.7L848.5 609.8L850 609.8L851.5 609.9L853 610L854.5 610.1L856 610.3L857.5 610.5L859 610.7L860.5 610.9L862 611.1L863.5 611.3L865 611.6L866.5 611.9L868 612.1L869.5 612.4L871 612.7L872.5 613L874 613.3L875.5 613.6L877 613.8L878.5 614.1L880 614.3L881.5 614.6L883 614.8L884.5 615.1L886 615.3L887.5 615.6L889 615.8L890.5 616.1L892 616.4L893.5 616.7L895 617L896.5 617.2L898 617.5L899.5 617.9L901 618.2L902.5 618.5L904 618.8L905.5 619.2L907 619.5L908.5 619.9L910 620.3L911.5 620.7L913 621.1L914.5 621.6L916 622L917.5 622.5L919 623L920.5 623.5L922 624L923.5 624.6L925 625.1L926.5 625.7L928 626.3L929.5 627L931 627.6L932.5 628.3L934 629L935.5 629.7L937 630.5L938.5 631.3L940 632.1L941.5 632.9L943 633.8L944.5 634.6L946 635.5L947.5 636.5L949 637.4L950.5 638.4L952 639.5L953.5 640.6L955 641.7L956.5 642.8L958 644L959.5 645.3L961 646.5L962.5 647.9L964 649.2L965.5 650.6L967 652L968.5 653.4L970 654.9L971.5 656.3L973 657.8L974.5 659.4L976 660.9L977.5 662.5L979 664L980.5 665.6L982 667.2L983.5 668.8L985 670.4L986.5 672.1L988 673.7L989.5 675.3L991 676.9L992.5 678.6L994 680.2L995.5 681.8L997 683.4L998.5 685L1000 686.6L1001.5 688.1L1003 689.7L1004.5 691.3L1006 692.9L1007.5 694.5L1009 696.1L1010.5 697.7L1012 699.3L1013.5 700.9L1015 702.6L1016.5 704.2L1018 705.8L1019.5 707.4L1021 709L1022.5 710.7L1024 712.3L1025.5 713.9L1027 715.5L1028.5 717.2L1030 718.8L1031.5 720.4L1033 722L1034.5 723.6L1036 725.2L1037.5 726.8L1039 728.5L1040.5 730.1L1042 731.6L1043.5 733.2L1045 734.8L1046.5 736.4L1048 738L1049.5 739.6L1051 741.1L1052.5 742.7L1054 744.2L1055.5 745.8L1057 747.3L1058.5 748.9L1060 750.4L1061.5 752L1063 753.5L1064.5 755L1066 756.5L1067.5 758L1069 759.5L1070.5 761L1072 762.5L1073.5 764L1075 765.4L1076.5 766.9L1078 768.4L1079.5 769.8L1081 771.2L1082.5 772.7L1084 774.1L1085.5 775.5L1087 777L1088.5 778.4L1090 779.8L1091.5 781.2L1093 782.6L1094.5 784L1096 785.4L1097.5 786.8L1099 788.1L1100.5 789.5L1102 790.9L1103.5 792.2L1105 793.6L1106.5 795L1108 796.3L1109.5 797.7L1111 799L1112.5 800.3L1114 801.7L1115.5 803L1117 804.4L1118.5 805.7L1120 807L1121.5 808.3L1123 809.7L1124.5 811L1126 812.3L1127.5 813.6L1129 815L1130.5 816.3L1132 817.6L1133.5 818.9L1135 820.2L1136.5 821.5L1138 822.8L1139.5 824.1L1141 825.5L1142.5 826.8L1144 828.1L1145.5 829.4L1147 830.7L1148.5 832L1150 833.3L1151.5 834.6L1153 835.9L1154.5 837.2L1156 838.6L1157.5 839.9L1159 841.2L1160.5 842.5L1162 843.8L1163.5 845.1L1165 846.4L1166.5 847.7L1168 849L1169.5 850.2L1171 851.5L1172.5 852.8L1174 854.1L1175.5 855.4L1177 856.7L1178.5 858L1180 859.3L1181.5 860.6L1183 861.9L1184.5 863.2L1186 864.5L1187.5 865.8L1189 867.1L1190.5 868.4L1192 869.7L1193.5 870.9L1195 872.2L1196.5 873.5L1198 874.8L1199.5 876.1L1201 877.4L1202.5 878.7L1204 880L1205.5 881.3L1207 882.6L1208.5 883.9L1210 885.2L1211.5 886.6L1213 887.9L1214.5 889.2L1216 890.5L1217.5 891.8L1219 893.1L1220.5 894.4L1222 895.7L1223.5 897L1225 898.3L1226.5 899.6L1228 900.9L1229.5 902.2L1231 903.5L1232.5 904.9L1234 906.2L1235.5 907.5L1237 908.8L1238.5 910.1L1240 911.4L1241.5 912.8L1243 914.1L1244.5 915.4L1246 916.7L1247.5 918L1249 919.4L1250.5 920.7L1252 922L1253.5 923.4L1255 924.7L1256.5 926L1258 927.4L1259.5 928.7L1261 930L1262.5 931.4L1264 932.7L1265.5 934L1267 935.4L1268.5 936.7L1270 938.1L1271.5 939.4L1273 940.8L1274.5 942.1L1276 943.5L1277.5 944.9L1279 946.2L1280.5 947.6L1282 949L1283.5 950.3L1285 951.7L1286.5 953.1L1288 954.5L1289.5 955.8L1291 957.2L1292.5 958.6L1294 960L1295.5 961.4L1297 962.8L1298.5 964.2L1300 965.6L1301.5 967L1302.5 967.9" stroke="#6fb0de" stroke-width="1.4"/>
<defs><linearGradient id="gc" gradientUnits="userSpaceOnUse" x1="169.5" y1="0" x2="1302.5" y2="0"><stop offset="0" stop-color="#7393a0"/><stop offset="0.2811" stop-color="#7393a0"/><stop offset="0.2917" stop-color="#4a88b8"/><stop offset="0.4682" stop-color="#2a7ab8"/><stop offset="0.6183" stop-color="#1a6cab"/><stop offset="0.7330" stop-color="#1267a8"/><stop offset="1" stop-color="#1267a8"/></linearGradient></defs>
<path d="M169.5 608.8L171 608.8L172.5 608.8L174 608.8L175.5 608.8L177 608.8L178.5 608.8L180 608.8L181.5 608.8L183 608.8L184.5 608.8L186 608.8L187.5 608.8L189 608.8L190.5 608.8L192 608.8L193.5 608.8L195 608.8L196.5 608.8L198 608.8L199.5 608.8L201 608.8L202.5 608.8L204 608.8L205.5 608.8L207 608.8L208.5 608.8L210 608.8L211.5 608.8L213 608.8L214.5 608.8L216 608.8L217.5 608.8L219 608.8L220.5 608.8L222 608.8L223.5 608.8L225 608.8L226.5 608.8L228 608.8L229.5 608.8L231 608.8L232.5 608.8L234 608.8L235.5 608.8L237 608.8L238.5 608.8L240 608.8L241.5 608.8L243 608.8L244.5 608.8L246 608.8L247.5 608.8L249 608.8L250.5 608.8L252 608.8L253.5 608.8L255 608.8L256.5 608.8L258 608.8L259.5 608.8L261 608.8L262.5 608.8L264 608.8L265.5 608.8L267 608.8L268.5 608.8L270 608.8L271.5 608.8L273 608.8L274.5 608.8L276 608.8L277.5 608.8L279 608.8L280.5 608.8L282 608.8L283.5 608.8L285 608.8L286.5 608.8L288 608.8L289.5 608.8L291 608.8L292.5 608.8L294 608.8L295.5 608.8L297 608.8L298.5 608.8L300 608.8L301.5 608.8L303 608.8L304.5 608.8L306 608.8L307.5 608.8L309 608.8L310.5 608.8L312 608.8L313.5 608.8L315 608.8L316.5 608.8L318 608.8L319.5 608.8L321 608.8L322.5 608.8L324 608.8L325.5 608.8L327 608.8L328.5 608.8L330 608.8L331.5 608.8L333 608.8L334.5 608.8L336 608.8L337.5 608.8L339 608.8L340.5 608.8L342 608.8L343.5 608.8L345 608.8L346.5 608.8L348 608.8L349.5 608.8L351 608.8L352.5 608.8L354 608.8L355.5 608.8L357 608.8L358.5 608.8L360 608.8L361.5 608.8L363 608.8L364.5 608.8L366 608.8L367.5 608.8L369 608.8L370.5 608.8L372 608.8L373.5 608.8L375 608.8L376.5 608.8L378 608.8L379.5 608.8L381 608.8L382.5 608.8L384 608.8L385.5 608.8L387 608.8L388.5 608.8L390 608.8L391.5 608.8L393 608.8L394.5 608.8L396 608.8L397.5 608.8L399 608.8L400.5 608.8L402 608.8L403.5 608.8L405 608.8L406.5 608.8L408 608.8L409.5 608.8L411 608.8L412.5 608.8L414 608.8L415.5 608.8L417 608.8L418.5 608.8L420 608.8L421.5 608.8L423 608.8L424.5 608.8L426 608.8L427.5 608.8L429 608.8L430.5 608.8L432 608.8L433.5 608.8L435 608.8L436.5 608.8L438 608.8L439.5 608.8L441 608.8L442.5 608.8L444 608.8L445.5 608.8L447 608.8L448.5 608.8L450 608.8L451.5 608.8L453 608.8L454.5 608.8L456 608.8L457.5 608.8L459 608.8L460.5 608.8L462 608.8L463.5 608.8L465 608.8L466.5 608.8L468 608.8L469.5 608.8L471 608.8L472.5 608.8L474 608.8L475.5 608.8L477 608.8L478.5 608.8L480 608.8L481.5 608.8L483 608.8L484.5 608.8L486 608.8L487.5 608.7L489 608.7L490.5 608.7L492 608.6L493.5 608.6L495 608.6L496.5 608.5L498 608.5L499.5 608.4L501 608.4L502.5 608.4L504 608.3L505.5 608.3L507 608.2L508.5 608.2L510 608.2L511.5 608.1L513 608.1L514.5 608.1L516 608.1L517.5 608.1L519 608L520.5 608L522 608L523.5 608L525 608L526.5 608L528 608L529.5 608L531 608L532.5 608L534 608L535.5 608L537 608L538.5 608L540 608L541.5 608L543 608L544.5 608L546 608L547.5 608L549 608L550.5 608L552 608L553.5 608L555 608L556.5 608L558 608L559.5 608L561 608L562.5 608L564 608L565.5 608L567 608L568.5 608L570 608L571.5 608L573 608L574.5 608L576 608L577.5 608L579 608L580.5 608L582 608L583.5 608L585 608L586.5 608L588 608L589.5 608L591 608L592.5 608L594 608L595.5 608L597 608L598.5 608L600 608L601.5 608L603 608L604.5 608L606 608L607.5 608L609 608L610.5 608L612 608L613.5 608L615 608L616.5 608L618 608L619.5 608L621 608L622.5 608L624 608L625.5 608L627 608L628.5 608L630 608L631.5 608L633 608L634.5 608L636 608L637.5 608L639 608L640.5 608L642 608L643.5 608L645 608L646.5 608L648 608L649.5 608L651 608L652.5 608L654 608L655.5 608L657 608L658.5 608L660 608L661.5 608L663 608L664.5 608L666 608L667.5 608L669 608.1L670.5 608.1L672 608.1L673.5 608.1L675 608.1L676.5 608.1L678 608.1L679.5 608.1L681 608.1L682.5 608.2L684 608.2L685.5 608.2L687 608.3L688.5 608.3L690 608.4L690.2 608.4L690.5 608.4L690.8 608.4L691 608.4L691.2 608.4L691.5 608.4L691.8 608.5L692 608.5L692.2 608.5L692.5 608.5L692.8 608.5L693 608.5L693.2 608.6L693.5 608.6L693.8 608.6L694 608.6L694.2 608.6L694.5 608.7L694.8 608.7L695 608.7L695.2 608.7L695.5 608.8L695.8 608.8L696 608.8L696.2 608.9L696.5 608.9L696.8 609L697 609L697.2 609.1L697.5 609.1L697.8 609.2L698 609.2L698.2 609.3L698.5 609.4L698.8 609.4L699 609.5L699.2 609.6L699.5 609.7L699.8 609.8L700 609.9L700.2 610.1L700.5 610.2L700.8 610.4L701 610.5L701.2 610.7L701.5 611L701.8 611.2L702 611.5L702.2 611.8L702.5 612.2L702.8 612.6L703 613L703.2 613.6L703.5 614.2L703.8 615L704 615.8L704.2 616.9L704.5 618.1L704.8 619.6L705 621.5L705.2 623.8L705.5 626.6L705.8 630.1L706 634.5L706.2 640L706.5 646.9L706.8 655.2L707 664.6L707.2 673.5L707.5 679L707.8 678.3L708 671.9L708.2 662.7L708.5 653.5L708.8 645.4L709 638.8L709.2 633.5L709.5 629.3L709.8 625.9L710 623.2L710.2 621L710.5 619.3L710.8 617.8L711 616.6L711.2 615.6L711.5 614.7L711.8 614L712 613.4L712.2 612.8L712.5 612.4L712.8 612L713 611.6L713.2 611.3L713.5 611L713.8 610.8L714 610.6L714.2 610.4L714.5 610.2L714.8 610L715 609.9L715.2 609.8L715.5 609.6L715.8 609.5L716 609.4L716.2 609.3L716.5 609.2L716.8 609.2L717 609.1L717.2 609L717.5 609L717.8 608.9L718 608.9L718.2 608.8L718.5 608.8L718.8 608.7L719 608.7L719.2 608.6L719.5 608.6L719.8 608.6L720 608.5L720.2 608.5L720.5 608.5L720.8 608.4L721 608.4L721.2 608.4L721.5 608.4L721.8 608.3L722 608.3L722.2 608.3L722.5 608.3L722.8 608.3L723 608.2L723.2 608.2L723.5 608.2L723.8 608.2L724 608.2L724.2 608.2L724.5 608.1L724.8 608.1L725 608.1L725.2 608.1L725.5 608.1L725.8 608.1L726 608.1L726.2 608.1L726.5 608.1L726.8 608L727 608L727.2 608L727.5 608L727.8 608L728 608L728.2 608L728.5 608L728.8 608L729 608L729.2 608L729.5 608L729.8 608L730 608L731.5 607.9L733 607.9L734.5 607.9L736 607.9L737.5 607.9L739 607.9L740.5 607.9L742 607.8L743.5 607.8L745 607.8L746.5 607.8L748 607.8L749.5 607.8L751 607.8L752.5 607.8L754 607.8L755.5 607.8L757 607.8L758.5 607.8L760 607.8L761.5 607.8L763 607.8L764.5 607.8L766 607.8L767.5 607.8L769 607.8L770.5 607.9L772 607.9L773.5 607.9L775 607.9L776.5 607.9L778 607.9L779.5 607.9L781 607.9L782.5 607.9L784 607.9L785.5 607.9L787 607.9L788.5 607.9L790 607.9L791.5 607.9L793 607.9L794.5 608L796 608L797.5 608L799 608L800.5 608L802 608L803.5 608L805 608L806.5 608L808 608.1L809.5 608.1L811 608.1L812.5 608.1L814 608.1L815.5 608.1L817 608.2L818.5 608.2L820 608.2L821.5 608.2L823 608.2L824.5 608.3L826 608.3L827.5 608.3L829 608.3L830.5 608.4L832 608.4L833.5 608.4L835 608.5L836.5 608.5L838 608.5L839.5 608.6L841 608.6L842.5 608.6L844 608.7L845.5 608.7L847 608.8L848.5 608.8L850 608.9L851.5 608.9L853 609L854.5 609L856 609.1L857.5 609.1L859 609.2L860.5 609.2L862 609.3L863.5 609.4L865 609.5L866.5 609.5L868 609.6L869.5 609.7L871 609.8L872.5 609.9L874 610.1L875.5 610.2L877 610.3L878.5 610.4L880 610.6L881.5 610.7L883 610.9L884.5 611L886 611.2L887.5 611.3L889 611.5L890.5 611.7L892 611.9L893.5 612L895 612.2L896.5 612.4L898 612.7L899.5 612.9L901 613.1L902.5 613.4L904 613.6L905.5 613.9L907 614.2L908.5 614.5L910 614.8L911.5 615.1L913 615.5L914.5 615.9L916 616.2L917.5 616.6L919 617.1L920.5 617.5L922 618L923.5 618.5L925 619L926.5 619.5L928 620L929.5 620.6L931 621.2L932.5 621.8L934 622.4L935.5 623.1L937 623.7L938.5 624.4L940 625.2L941.5 625.9L943 626.7L944.5 627.5L946 628.3L947.5 629.1L949 630L950.5 630.9L952 631.8L953.5 632.8L955 633.8L956.5 634.8L958 635.8L959.5 636.9L961 638L962.5 639.1L964 640.3L965.5 641.5L967 642.7L968.5 643.9L970 645.2L971.5 646.5L973 647.8L974.5 649.1L976 650.5L977.5 651.8L979 653.2L980.5 654.6L982 656L983.5 657.5L985 658.9L986.5 660.4L988 661.9L989.5 663.3L991 664.8L992.5 666.3L994 667.8L995.5 669.3L997 670.9L998.5 672.4L1000 673.9L1001.5 675.4L1003 677L1004.5 678.5L1006 680.1L1007.5 681.6L1009 683.2L1010.5 684.8L1012 686.3L1013.5 687.9L1015 689.5L1016.5 691.1L1018 692.7L1019.5 694.3L1021 695.8L1022.5 697.4L1024 699L1025.5 700.6L1027 702.2L1028.5 703.8L1030 705.4L1031.5 707L1033 708.6L1034.5 710.2L1036 711.8L1037.5 713.4L1039 715L1040.5 716.6L1042 718.1L1043.5 719.7L1045 721.3L1046.5 722.9L1048 724.4L1049.5 726L1051 727.5L1052.5 729.1L1054 730.6L1055.5 732.2L1057 733.7L1058.5 735.3L1060 736.8L1061.5 738.3L1063 739.8L1064.5 741.3L1066 742.8L1067.5 744.3L1069 745.8L1070.5 747.3L1072 748.8L1073.5 750.2L1075 751.7L1076.5 753.1L1078 754.6L1079.5 756L1081 757.5L1082.5 758.9L1084 760.3L1085.5 761.7L1087 763.1L1088.5 764.5L1090 765.9L1091.5 767.3L1093 768.7L1094.5 770.1L1096 771.5L1097.5 772.9L1099 774.2L1100.5 775.6L1102 776.9L1103.5 778.3L1105 779.7L1106.5 781L1108 782.4L1109.5 783.7L1111 785L1112.5 786.4L1114 787.7L1115.5 789L1117 790.4L1118.5 791.7L1120 793L1121.5 794.3L1123 795.6L1124.5 797L1126 798.3L1127.5 799.6L1129 800.9L1130.5 802.2L1132 803.5L1133.5 804.8L1135 806.1L1136.5 807.4L1138 808.7L1139.5 810L1141 811.3L1142.5 812.6L1144 813.9L1145.5 815.3L1147 816.6L1148.5 817.9L1150 819.2L1151.5 820.5L1153 821.8L1154.5 823.1L1156 824.4L1157.5 825.7L1159 827L1160.5 828.3L1162 829.6L1163.5 830.9L1165 832.2L1166.5 833.4L1168 834.7L1169.5 836L1171 837.3L1172.5 838.6L1174 839.9L1175.5 841.2L1177 842.5L1178.5 843.8L1180 845.1L1181.5 846.3L1183 847.6L1184.5 848.9L1186 850.2L1187.5 851.5L1189 852.8L1190.5 854.1L1192 855.4L1193.5 856.7L1195 858L1196.5 859.2L1198 860.5L1199.5 861.8L1201 863.1L1202.5 864.4L1204 865.7L1205.5 867L1207 868.3L1208.5 869.6L1210 870.9L1211.5 872.2L1213 873.5L1214.5 874.8L1216 876.1L1217.5 877.4L1219 878.7L1220.5 880L1222 881.3L1223.5 882.6L1225 883.9L1226.5 885.3L1228 886.6L1229.5 887.9L1231 889.2L1232.5 890.5L1234 891.8L1235.5 893.1L1237 894.4L1238.5 895.7L1240 897.1L1241.5 898.4L1243 899.7L1244.5 901L1246 902.3L1247.5 903.7L1249 905L1250.5 906.3L1252 907.6L1253.5 909L1255 910.3L1256.5 911.6L1258 913L1259.5 914.3L1261 915.6L1262.5 917L1264 918.3L1265.5 919.7L1267 921L1268.5 922.3L1270 923.7L1271.5 925L1273 926.4L1274.5 927.7L1276 929.1L1277.5 930.5L1279 931.8L1280.5 933.2L1282 934.6L1283.5 935.9L1285 937.3L1286.5 938.7L1288 940L1289.5 941.4L1291 942.8L1292.5 944.2L1294 945.6L1295.5 947L1297 948.4L1298.5 949.8L1300 951.2L1301.5 952.6L1302.5 953.5" stroke="url(#gc)" stroke-width="1.6"/>
<path d="M169.5 608.8L171 608.8L172.5 608.8L174 608.8L175.5 608.8L177 608.8L178.5 608.8L180 608.8L181.5 608.8L183 608.8L184.5 608.8L186 608.8L187.5 608.8L189 608.8L190.5 608.8L192 608.8L193.5 608.8L195 608.8L196.5 608.8L198 608.8L199.5 608.8L201 608.8L202.5 608.8L204 608.8L205.5 608.8L207 608.8L208.5 608.8L210 608.8L211.5 608.8L213 608.8L214.5 608.8L216 608.8L217.5 608.8L219 608.8L220.5 608.8L222 608.8L223.5 608.8L225 608.8L226.5 608.8L228 608.8L229.5 608.8L231 608.8L232.5 608.8L234 608.8L235.5 608.8L237 608.8L238.5 608.8L240 608.8L241.5 608.8L243 608.8L244.5 608.8L246 608.8L247.5 608.8L249 608.8L250.5 608.8L252 608.8L253.5 608.8L255 608.8L256.5 608.8L258 608.8L259.5 608.8L261 608.8L262.5 608.8L264 608.8L265.5 608.8L267 608.8L268.5 608.8L270 608.8L271.5 608.8L273 608.8L274.5 608.8L276 608.8L277.5 608.8L279 608.8L280.5 608.8L282 608.8L283.5 608.8L285 608.8L286.5 608.8L288 608.8L289.5 608.8L291 608.8L292.5 608.8L294 608.8L295.5 608.8L297 608.8L298.5 608.8L300 608.8L301.5 608.8L303 608.8L304.5 608.8L306 608.8L307.5 608.8L309 608.8L310.5 608.8L312 608.8L313.5 608.8L315 608.8L316.5 608.8L318 608.8L319.5 608.8L321 608.8L322.5 608.8L324 608.8L325.5 608.8L327 608.8L328.5 608.8L330 608.8L331.5 608.8L333 608.8L334.5 608.8L336 608.8L337.5 608.8L339 608.8L340.5 608.8L342 608.8L343.5 608.8L345 608.8L346.5 608.8L348 608.8L349.5 608.8L351 608.8L352.5 608.8L354 608.8L355.5 608.8L357 608.8L358.5 608.8L360 608.8L361.5 608.8L363 608.8L364.5 608.8L366 608.8L367.5 608.8L369 608.8L370.5 608.8L372 608.8L373.5 608.8L375 608.8L376.5 608.8L378 608.8L379.5 608.8L381 608.8L382.5 608.8L384 608.8L385.5 608.8L387 608.8L388.5 608.8L390 608.8L391.5 608.8L393 608.8L394.5 608.8L396 608.8L397.5 608.8L399 608.8L400.5 608.8L402 608.8L403.5 608.8L405 608.8L406.5 608.8L408 608.8L409.5 608.8L411 608.8L412.5 608.8L414 608.8L415.5 608.8L417 608.8L418.5 608.8L420 608.8L421.5 608.8L423 608.8L424.5 608.8L426 608.8L427.5 608.8L429 608.8L430.5 608.8L432 608.8L433.5 608.8L435 608.8L436.5 608.8L438 608.8L439.5 608.8L441 608.8L442.5 608.8L444 608.8L445.5 608.8L447 608.8L448.5 608.8L450 608.8L451.5 608.8L453 608.8L454.5 608.8L456 608.8L457.5 608.8L459 608.8L460.5 608.8L462 608.8L463.5 608.8L465 608.8L466.5 608.8L468 608.8L469.5 608.8L471 608.8L472.5 608.8L474 608.8L475.5 608.8L477 608.8L478.5 608.8L480 608.8L481.5 608.8L483 608.8L484.5 608.8L486 608.8L487.5 608.8L489 608.7L490.5 608.7L492 608.7L493.5 608.7L495 608.6L496.5 608.6L498 608.6L499.5 608.6L501 608.5L502.5 608.5L504 608.5L505.5 608.5L507 608.4L508.5 608.4L510 608.4L511.5 608.4L513 608.3L514.5 608.3L516 608.3L517.5 608.3L519 608.3L520.5 608.3L522 608.3L523.5 608.3L525 608.3L526.5 608.3L528 608.3L529.5 608.3L531 608.3L532.5 608.3L534 608.3L535.5 608.3L537 608.3L538.5 608.3L540 608.3L541.5 608.3L543 608.3L544.5 608.3L546 608.3L547.5 608.3L549 608.3L550.5 608.3L552 608.3L553.5 608.3L555 608.3L556.5 608.3L558 608.3L559.5 608.3L561 608.3L562.5 608.3L564 608.3L565.5 608.3L567 608.3L568.5 608.3L570 608.3L571.5 608.3L573 608.3L574.5 608.3L576 608.3L577.5 608.3L579 608.3L580.5 608.3L582 608.3L583.5 608.3L585 608.3L586.5 608.3L588 608.3L589.5 608.3L591 608.3L592.5 608.3L594 608.3L595.5 608.3L597 608.3L598.5 608.3L600 608.3L601.5 608.3L603 608.3L604.5 608.3L606 608.3L607.5 608.3L609 608.3L610.5 608.3L612 608.3L613.5 608.3L615 608.3L616.5 608.3L618 608.3L619.5 608.3L621 608.3L622.5 608.3L624 608.3L625.5 608.3L627 608.3L628.5 608.3L630 608.3L631.5 608.3L633 608.3L634.5 608.3L636 608.3L637.5 608.3L639 608.3L640.5 608.3L642 608.3L643.5 608.3L645 608.3L646.5 608.3L648 608.3L649.5 608.3L651 608.3L652.5 608.3L654 608.3L655.5 608.3L657 608.3L658.5 608.3L660 608.3L661.5 608.3L663 608.3L664.5 608.3L666 608.3L667.5 608.3L669 608.3L670.5 608.3L672 608.4L673.5 608.4L675 608.4L676.5 608.4L678 608.4L679.5 608.4L681 608.4L682.5 608.4L684 608.5L685.5 608.5L687 608.5L688.5 608.6L690 608.6L690.2 608.7L690.5 608.7L690.8 608.7L691 608.7L691.2 608.7L691.5 608.7L691.8 608.7L692 608.7L692.2 608.8L692.5 608.8L692.8 608.8L693 608.8L693.2 608.8L693.5 608.9L693.8 608.9L694 608.9L694.2 608.9L694.5 608.9L694.8 609L695 609L695.2 609L695.5 609.1L695.8 609.1L696 609.1L696.2 609.2L696.5 609.2L696.8 609.2L697 609.3L697.2 609.3L697.5 609.4L697.8 609.4L698 609.5L698.2 609.6L698.5 609.6L698.8 609.7L699 609.8L699.2 609.9L699.5 610L699.8 610.1L700 610.2L700.2 610.3L700.5 610.5L700.8 610.6L701 610.8L701.2 611L701.5 611.2L701.8 611.5L702 611.8L702.2 612.1L702.5 612.4L702.8 612.8L703 613.3L703.2 613.9L703.5 614.5L703.8 615.2L704 616.1L704.2 617.2L704.5 618.4L704.8 619.9L705 621.8L705.2 624L705.5 626.8L705.8 630.4L706 634.8L706.2 640.3L706.5 647.2L706.8 655.5L707 664.9L707.2 673.8L707.5 679.3L707.8 678.6L708 672.1L708.2 663L708.5 653.7L708.8 645.7L709 639.1L709.2 633.8L709.5 629.6L709.8 626.2L710 623.5L710.2 621.3L710.5 619.5L710.8 618.1L711 616.9L711.2 615.9L711.5 615L711.8 614.3L712 613.7L712.2 613.1L712.5 612.7L712.8 612.3L713 611.9L713.2 611.6L713.5 611.3L713.8 611.1L714 610.9L714.2 610.7L714.5 610.5L714.8 610.3L715 610.2L715.2 610L715.5 609.9L715.8 609.8L716 609.7L716.2 609.6L716.5 609.5L716.8 609.4L717 609.4L717.2 609.3L717.5 609.2L717.8 609.2L718 609.1L718.2 609.1L718.5 609L718.8 609L719 608.9L719.2 608.9L719.5 608.9L719.8 608.8L720 608.8L720.2 608.8L720.5 608.7L720.8 608.7L721 608.7L721.2 608.7L721.5 608.6L721.8 608.6L722 608.6L722.2 608.6L722.5 608.6L722.8 608.5L723 608.5L723.2 608.5L723.5 608.5L723.8 608.5L724 608.5L724.2 608.4L724.5 608.4L724.8 608.4L725 608.4L725.2 608.4L725.5 608.4L725.8 608.4L726 608.4L726.2 608.3L726.5 608.3L726.8 608.3L727 608.3L727.2 608.3L727.5 608.3L727.8 608.3L728 608.3L728.2 608.3L728.5 608.3L728.8 608.3L729 608.3L729.2 608.3L729.5 608.3L729.8 608.2L730 608.2L731.5 608.2L733 608.2L734.5 608.2L736 608.2L737.5 608.2L739 608.1L740.5 608.1L742 608.1L743.5 608.1L745 608.1L746.5 608.1L748 608.1L749.5 608.1L751 608.1L752.5 608.1L754 608.1L755.5 608.1L757 608.1L758.5 608.1L760 608.1L761.5 608.1L763 608.1L764.5 608.1L766 608.1L767.5 608.1L769 608.1L770.5 608.1L772 608.1L773.5 608.1L775 608.1L776.5 608.2L778 608.2L779.5 608.2L781 608.2L782.5 608.2L784 608.2L785.5 608.2L787 608.2L788.5 608.2L790 608.2L791.5 608.2L793 608.2L794.5 608.2L796 608.3L797.5 608.3L799 608.3L800.5 608.3L802 608.3L803.5 608.3L805 608.3L806.5 608.3L808 608.4L809.5 608.4L811 608.4L812.5 608.4L814 608.4L815.5 608.4L817 608.5L818.5 608.5L820 608.5L821.5 608.5L823 608.5L824.5 608.6L826 608.6L827.5 608.6L829 608.6L830.5 608.7L832 608.7L833.5 608.7L835 608.8L836.5 608.8L838 608.8L839.5 608.9L841 608.9L842.5 609L844 609L845.5 609L847 609.1L848.5 609.1L850 609.2L851.5 609.2L853 609.3L854.5 609.3L856 609.4L857.5 609.5L859 609.5L860.5 609.6L862 609.7L863.5 609.7L865 609.8L866.5 609.9L868 610L869.5 610.1L871 610.2L872.5 610.3L874 610.5L875.5 610.6L877 610.7L878.5 610.8L880 611L881.5 611.1L883 611.3L884.5 611.5L886 611.6L887.5 611.8L889 612L890.5 612.2L892 612.4L893.5 612.6L895 612.8L896.5 613L898 613.2L899.5 613.4L901 613.7L902.5 613.9L904 614.2L905.5 614.5L907 614.8L908.5 615.1L910 615.4L911.5 615.8L913 616.1L914.5 616.5L916 616.9L917.5 617.3L919 617.8L920.5 618.2L922 618.7L923.5 619.2L925 619.7L926.5 620.2L928 620.7L929.5 621.3L931 621.9L932.5 622.5L934 623.2L935.5 623.8L937 624.5L938.5 625.2L940 625.9L941.5 626.7L943 627.5L944.5 628.3L946 629.1L947.5 630L949 630.8L950.5 631.7L952 632.7L953.5 633.6L955 634.6L956.5 635.6L958 636.7L959.5 637.8L961 638.9L962.5 640.1L964 641.2L965.5 642.4L967 643.7L968.5 644.9L970 646.2L971.5 647.5L973 648.8L974.5 650.1L976 651.5L977.5 652.9L979 654.3L980.5 655.7L982 657.1L983.5 658.6L985 660L986.5 661.5L988 663L989.5 664.5L991 666L992.5 667.5L994 669L995.5 670.5L997 672.1L998.5 673.6L1000 675.1L1001.5 676.7L1003 678.2L1004.5 679.8L1006 681.3L1007.5 682.9L1009 684.5L1010.5 686.1L1012 687.6L1013.5 689.2L1015 690.8L1016.5 692.4L1018 694L1019.5 695.6L1021 697.2L1022.5 698.8L1024 700.4L1025.5 702L1027 703.6L1028.5 705.2L1030 706.8L1031.5 708.4L1033 710L1034.5 711.6L1036 713.2L1037.5 714.8L1039 716.4L1040.5 718L1042 719.5L1043.5 721.1L1045 722.7L1046.5 724.3L1048 725.8L1049.5 727.4L1051 729L1052.5 730.5L1054 732.1L1055.5 733.6L1057 735.1L1058.5 736.7L1060 738.2L1061.5 739.7L1063 741.2L1064.5 742.7L1066 744.2L1067.5 745.7L1069 747.2L1070.5 748.7L1072 750.2L1073.5 751.6L1075 753.1L1076.5 754.6L1078 756L1079.5 757.4L1081 758.9L1082.5 760.3L1084 761.7L1085.5 763.1L1087 764.6L1088.5 766L1090 767.4L1091.5 768.8L1093 770.1L1094.5 771.5L1096 772.9L1097.5 774.3L1099 775.7L1100.5 777L1102 778.4L1103.5 779.7L1105 781.1L1106.5 782.4L1108 783.8L1109.5 785.1L1111 786.5L1112.5 787.8L1114 789.1L1115.5 790.5L1117 791.8L1118.5 793.1L1120 794.4L1121.5 795.8L1123 797.1L1124.5 798.4L1126 799.7L1127.5 801L1129 802.3L1130.5 803.6L1132 805L1133.5 806.3L1135 807.6L1136.5 808.9L1138 810.2L1139.5 811.5L1141 812.8L1142.5 814.1L1144 815.4L1145.5 816.7L1147 818L1148.5 819.3L1150 820.6L1151.5 821.9L1153 823.2L1154.5 824.5L1156 825.8L1157.5 827.1L1159 828.4L1160.5 829.7L1162 831L1163.5 832.3L1165 833.6L1166.5 834.9L1168 836.2L1169.5 837.5L1171 838.8L1172.5 840.1L1174 841.4L1175.5 842.6L1177 843.9L1178.5 845.2L1180 846.5L1181.5 847.8L1183 849.1L1184.5 850.4L1186 851.7L1187.5 853L1189 854.2L1190.5 855.5L1192 856.8L1193.5 858.1L1195 859.4L1196.5 860.7L1198 862L1199.5 863.3L1201 864.6L1202.5 865.9L1204 867.2L1205.5 868.5L1207 869.8L1208.5 871.1L1210 872.4L1211.5 873.7L1213 875L1214.5 876.3L1216 877.6L1217.5 878.9L1219 880.2L1220.5 881.5L1222 882.8L1223.5 884.1L1225 885.4L1226.5 886.7L1228 888L1229.5 889.3L1231 890.6L1232.5 892L1234 893.3L1235.5 894.6L1237 895.9L1238.5 897.2L1240 898.5L1241.5 899.8L1243 901.2L1244.5 902.5L1246 903.8L1247.5 905.1L1249 906.5L1250.5 907.8L1252 909.1L1253.5 910.4L1255 911.8L1256.5 913.1L1258 914.4L1259.5 915.8L1261 917.1L1262.5 918.4L1264 919.8L1265.5 921.1L1267 922.5L1268.5 923.8L1270 925.2L1271.5 926.5L1273 927.9L1274.5 929.2L1276 930.6L1277.5 931.9L1279 933.3L1280.5 934.7L1282 936L1283.5 937.4L1285 938.8L1286.5 940.1L1288 941.5L1289.5 942.9L1291 944.3L1292.5 945.7L1294 947.1L1295.5 948.4L1297 949.8L1298.5 951.2L1300 952.6L1301.5 954L1302.5 955" stroke="url(#gc)" stroke-width="1.6"/>
<path d="M169.5 608.8L171 608.8L172.5 608.8L174 608.8L175.5 608.8L177 608.8L178.5 608.8L180 608.8L181.5 608.8L183 608.8L184.5 608.8L186 608.8L187.5 608.8L189 608.8L190.5 608.8L192 608.8L193.5 608.8L195 608.8L196.5 608.8L198 608.8L199.5 608.8L201 608.8L202.5 608.8L204 608.8L205.5 608.8L207 608.8L208.5 608.8L210 608.8L211.5 608.8L213 608.8L214.5 608.8L216 608.8L217.5 608.8L219 608.8L220.5 608.8L222 608.8L223.5 608.8L225 608.8L226.5 608.8L228 608.8L229.5 608.8L231 608.8L232.5 608.8L234 608.8L235.5 608.8L237 608.8L238.5 608.8L240 608.8L241.5 608.8L243 608.8L244.5 608.8L246 608.8L247.5 608.8L249 608.8L250.5 608.8L252 608.8L253.5 608.8L255 608.8L256.5 608.8L258 608.8L259.5 608.8L261 608.8L262.5 608.8L264 608.8L265.5 608.8L267 608.8L268.5 608.8L270 608.8L271.5 608.8L273 608.8L274.5 608.8L276 608.8L277.5 608.8L279 608.8L280.5 608.8L282 608.8L283.5 608.8L285 608.8L286.5 608.8L288 608.8L289.5 608.8L291 608.8L292.5 608.8L294 608.8L295.5 608.8L297 608.8L298.5 608.8L300 608.8L301.5 608.8L303 608.8L304.5 608.8L306 608.8L307.5 608.8L309 608.8L310.5 608.8L312 608.8L313.5 608.8L315 608.8L316.5 608.8L318 608.8L319.5 608.8L321 608.8L322.5 608.8L324 608.8L325.5 608.8L327 608.8L328.5 608.8L330 608.8L331.5 608.8L333 608.8L334.5 608.8L336 608.8L337.5 608.8L339 608.8L340.5 608.8L342 608.8L343.5 608.8L345 608.8L346.5 608.8L348 608.8L349.5 608.8L351 608.8L352.5 608.8L354 608.8L355.5 608.8L357 608.8L358.5 608.8L360 608.8L361.5 608.8L363 608.8L364.5 608.8L366 608.8L367.5 608.8L369 608.8L370.5 608.8L372 608.8L373.5 608.8L375 608.8L376.5 608.8L378 608.8L379.5 608.8L381 608.8L382.5 608.8L384 608.8L385.5 608.8L387 608.8L388.5 608.8L390 608.8L391.5 608.8L393 608.8L394.5 608.8L396 608.8L397.5 608.8L399 608.8L400.5 608.8L402 608.8L403.5 608.8L405 608.8L406.5 608.8L408 608.8L409.5 608.8L411 608.8L412.5 608.8L414 608.8L415.5 608.8L417 608.8L418.5 608.8L420 608.8L421.5 608.8L423 608.8L424.5 608.8L426 608.8L427.5 608.8L429 608.8L430.5 608.8L432 608.8L433.5 608.8L435 608.8L436.5 608.8L438 608.8L439.5 608.8L441 608.8L442.5 608.8L444 608.8L445.5 608.8L447 608.8L448.5 608.8L450 608.8L451.5 608.8L453 608.8L454.5 608.8L456 608.8L457.5 608.8L459 608.8L460.5 608.8L462 608.8L463.5 608.8L465 608.8L466.5 608.8L468 608.8L469.5 608.8L471 608.8L472.5 608.8L474 608.8L475.5 608.8L477 608.8L478.5 608.8L480 608.8L481.5 608.8L483 608.8L484.5 608.8L486 608.8L487.5 608.8L489 608.8L490.5 608.8L492 608.7L493.5 608.7L495 608.7L496.5 608.7L498 608.7L499.5 608.7L501 608.7L502.5 608.7L504 608.6L505.5 608.6L507 608.6L508.5 608.6L510 608.6L511.5 608.6L513 608.6L514.5 608.6L516 608.6L517.5 608.6L519 608.6L520.5 608.5L522 608.5L523.5 608.5L525 608.5L526.5 608.5L528 608.5L529.5 608.5L531 608.5L532.5 608.5L534 608.5L535.5 608.5L537 608.5L538.5 608.5L540 608.5L541.5 608.5L543 608.5L544.5 608.5L546 608.5L547.5 608.5L549 608.5L550.5 608.5L552 608.5L553.5 608.5L555 608.5L556.5 608.5L558 608.5L559.5 608.5L561 608.5L562.5 608.5L564 608.5L565.5 608.5L567 608.5L568.5 608.5L570 608.5L571.5 608.5L573 608.5L574.5 608.5L576 608.5L577.5 608.5L579 608.5L580.5 608.5L582 608.5L583.5 608.5L585 608.5L586.5 608.5L588 608.5L589.5 608.5L591 608.5L592.5 608.5L594 608.5L595.5 608.5L597 608.5L598.5 608.5L600 608.5L601.5 608.5L603 608.5L604.5 608.5L606 608.5L607.5 608.5L609 608.5L610.5 608.5L612 608.5L613.5 608.5L615 608.5L616.5 608.5L618 608.5L619.5 608.5L621 608.5L622.5 608.5L624 608.5L625.5 608.5L627 608.5L628.5 608.5L630 608.5L631.5 608.5L633 608.5L634.5 608.6L636 608.6L637.5 608.6L639 608.6L640.5 608.6L642 608.6L643.5 608.6L645 608.6L646.5 608.6L648 608.6L649.5 608.6L651 608.6L652.5 608.6L654 608.6L655.5 608.6L657 608.6L658.5 608.6L660 608.6L661.5 608.6L663 608.6L664.5 608.6L666 608.6L667.5 608.6L669 608.6L670.5 608.6L672 608.6L673.5 608.6L675 608.6L676.5 608.7L678 608.7L679.5 608.7L681 608.7L682.5 608.7L684 608.8L685.5 608.8L687 608.8L688.5 608.9L690 608.9L690.2 608.9L690.5 608.9L690.8 609L691 609L691.2 609L691.5 609L691.8 609L692 609L692.2 609L692.5 609.1L692.8 609.1L693 609.1L693.2 609.1L693.5 609.1L693.8 609.2L694 609.2L694.2 609.2L694.5 609.2L694.8 609.2L695 609.3L695.2 609.3L695.5 609.3L695.8 609.4L696 609.4L696.2 609.4L696.5 609.5L696.8 609.5L697 609.6L697.2 609.6L697.5 609.7L697.8 609.7L698 609.8L698.2 609.8L698.5 609.9L698.8 610L699 610.1L699.2 610.2L699.5 610.3L699.8 610.4L700 610.5L700.2 610.6L700.5 610.8L700.8 610.9L701 611.1L701.2 611.3L701.5 611.5L701.8 611.8L702 612L702.2 612.4L702.5 612.7L702.8 613.1L703 613.6L703.2 614.1L703.5 614.8L703.8 615.5L704 616.4L704.2 617.4L704.5 618.7L704.8 620.2L705 622L705.2 624.3L705.5 627.1L705.8 630.6L706 635.1L706.2 640.6L706.5 647.5L706.8 655.8L707 665.1L707.2 674L707.5 679.6L707.8 678.9L708 672.4L708.2 663.2L708.5 654L708.8 646L709 639.4L709.2 634.1L709.5 629.8L709.8 626.5L710 623.8L710.2 621.6L710.5 619.8L710.8 618.4L711 617.1L711.2 616.1L711.5 615.3L711.8 614.6L712 613.9L712.2 613.4L712.5 612.9L712.8 612.5L713 612.2L713.2 611.9L713.5 611.6L713.8 611.4L714 611.1L714.2 610.9L714.5 610.8L714.8 610.6L715 610.5L715.2 610.3L715.5 610.2L715.8 610.1L716 610L716.2 609.9L716.5 609.8L716.8 609.7L717 609.7L717.2 609.6L717.5 609.5L717.8 609.5L718 609.4L718.2 609.4L718.5 609.3L718.8 609.3L719 609.2L719.2 609.2L719.5 609.1L719.8 609.1L720 609.1L720.2 609.1L720.5 609L720.8 609L721 609L721.2 608.9L721.5 608.9L721.8 608.9L722 608.9L722.2 608.9L722.5 608.8L722.8 608.8L723 608.8L723.2 608.8L723.5 608.8L723.8 608.7L724 608.7L724.2 608.7L724.5 608.7L724.8 608.7L725 608.7L725.2 608.7L725.5 608.7L725.8 608.6L726 608.6L726.2 608.6L726.5 608.6L726.8 608.6L727 608.6L727.2 608.6L727.5 608.6L727.8 608.6L728 608.6L728.2 608.6L728.5 608.6L728.8 608.6L729 608.5L729.2 608.5L729.5 608.5L729.8 608.5L730 608.5L731.5 608.5L733 608.5L734.5 608.5L736 608.4L737.5 608.4L739 608.4L740.5 608.4L742 608.4L743.5 608.4L745 608.4L746.5 608.4L748 608.4L749.5 608.4L751 608.4L752.5 608.4L754 608.4L755.5 608.4L757 608.4L758.5 608.4L760 608.4L761.5 608.4L763 608.4L764.5 608.4L766 608.4L767.5 608.4L769 608.4L770.5 608.4L772 608.4L773.5 608.4L775 608.4L776.5 608.4L778 608.4L779.5 608.4L781 608.5L782.5 608.5L784 608.5L785.5 608.5L787 608.5L788.5 608.5L790 608.5L791.5 608.5L793 608.5L794.5 608.5L796 608.5L797.5 608.6L799 608.6L800.5 608.6L802 608.6L803.5 608.6L805 608.6L806.5 608.6L808 608.6L809.5 608.7L811 608.7L812.5 608.7L814 608.7L815.5 608.7L817 608.8L818.5 608.8L820 608.8L821.5 608.8L823 608.8L824.5 608.9L826 608.9L827.5 608.9L829 608.9L830.5 609L832 609L833.5 609L835 609.1L836.5 609.1L838 609.1L839.5 609.2L841 609.2L842.5 609.3L844 609.3L845.5 609.4L847 609.4L848.5 609.5L850 609.5L851.5 609.6L853 609.6L854.5 609.7L856 609.7L857.5 609.8L859 609.9L860.5 609.9L862 610L863.5 610.1L865 610.2L866.5 610.3L868 610.4L869.5 610.5L871 610.6L872.5 610.7L874 610.8L875.5 611L877 611.1L878.5 611.3L880 611.4L881.5 611.6L883 611.7L884.5 611.9L886 612.1L887.5 612.3L889 612.4L890.5 612.6L892 612.8L893.5 613.1L895 613.3L896.5 613.5L898 613.7L899.5 614L901 614.2L902.5 614.5L904 614.8L905.5 615.1L907 615.4L908.5 615.7L910 616.1L911.5 616.4L913 616.8L914.5 617.2L916 617.6L917.5 618L919 618.4L920.5 618.9L922 619.4L923.5 619.9L925 620.4L926.5 620.9L928 621.5L929.5 622L931 622.6L932.5 623.3L934 623.9L935.5 624.6L937 625.3L938.5 626L940 626.7L941.5 627.5L943 628.3L944.5 629.1L946 629.9L947.5 630.8L949 631.7L950.5 632.6L952 633.5L953.5 634.5L955 635.5L956.5 636.5L958 637.6L959.5 638.7L961 639.8L962.5 641L964 642.2L965.5 643.4L967 644.6L968.5 645.9L970 647.2L971.5 648.5L973 649.8L974.5 651.1L976 652.5L977.5 653.9L979 655.3L980.5 656.7L982 658.2L983.5 659.6L985 661.1L986.5 662.6L988 664.1L989.5 665.6L991 667.1L992.5 668.6L994 670.2L995.5 671.7L997 673.2L998.5 674.8L1000 676.3L1001.5 677.9L1003 679.4L1004.5 681L1006 682.6L1007.5 684.2L1009 685.8L1010.5 687.3L1012 688.9L1013.5 690.5L1015 692.1L1016.5 693.7L1018 695.3L1019.5 696.9L1021 698.5L1022.5 700.1L1024 701.8L1025.5 703.4L1027 705L1028.5 706.6L1030 708.2L1031.5 709.8L1033 711.4L1034.5 713L1036 714.6L1037.5 716.2L1039 717.8L1040.5 719.4L1042 720.9L1043.5 722.5L1045 724.1L1046.5 725.7L1048 727.2L1049.5 728.8L1051 730.4L1052.5 731.9L1054 733.5L1055.5 735L1057 736.5L1058.5 738.1L1060 739.6L1061.5 741.1L1063 742.6L1064.5 744.1L1066 745.6L1067.5 747.1L1069 748.6L1070.5 750.1L1072 751.6L1073.5 753.1L1075 754.5L1076.5 756L1078 757.4L1079.5 758.9L1081 760.3L1082.5 761.7L1084 763.1L1085.5 764.6L1087 766L1088.5 767.4L1090 768.8L1091.5 770.2L1093 771.6L1094.5 773L1096 774.3L1097.5 775.7L1099 777.1L1100.5 778.4L1102 779.8L1103.5 781.2L1105 782.5L1106.5 783.9L1108 785.2L1109.5 786.6L1111 787.9L1112.5 789.2L1114 790.6L1115.5 791.9L1117 793.2L1118.5 794.6L1120 795.9L1121.5 797.2L1123 798.5L1124.5 799.8L1126 801.2L1127.5 802.5L1129 803.8L1130.5 805.1L1132 806.4L1133.5 807.7L1135 809L1136.5 810.3L1138 811.6L1139.5 812.9L1141 814.2L1142.5 815.5L1144 816.8L1145.5 818.1L1147 819.5L1148.5 820.8L1150 822.1L1151.5 823.4L1153 824.7L1154.5 826L1156 827.3L1157.5 828.6L1159 829.9L1160.5 831.2L1162 832.5L1163.5 833.8L1165 835.1L1166.5 836.4L1168 837.6L1169.5 838.9L1171 840.2L1172.5 841.5L1174 842.8L1175.5 844.1L1177 845.4L1178.5 846.7L1180 848L1181.5 849.3L1183 850.5L1184.5 851.8L1186 853.1L1187.5 854.4L1189 855.7L1190.5 857L1192 858.3L1193.5 859.6L1195 860.9L1196.5 862.2L1198 863.5L1199.5 864.8L1201 866.1L1202.5 867.4L1204 868.7L1205.5 870L1207 871.3L1208.5 872.5L1210 873.8L1211.5 875.1L1213 876.5L1214.5 877.8L1216 879.1L1217.5 880.4L1219 881.7L1220.5 883L1222 884.3L1223.5 885.6L1225 886.9L1226.5 888.2L1228 889.5L1229.5 890.8L1231 892.1L1232.5 893.4L1234 894.7L1235.5 896L1237 897.4L1238.5 898.7L1240 900L1241.5 901.3L1243 902.6L1244.5 904L1246 905.3L1247.5 906.6L1249 907.9L1250.5 909.2L1252 910.6L1253.5 911.9L1255 913.2L1256.5 914.6L1258 915.9L1259.5 917.2L1261 918.6L1262.5 919.9L1264 921.2L1265.5 922.6L1267 923.9L1268.5 925.3L1270 926.6L1271.5 928L1273 929.3L1274.5 930.7L1276 932L1277.5 933.4L1279 934.8L1280.5 936.1L1282 937.5L1283.5 938.9L1285 940.2L1286.5 941.6L1288 943L1289.5 944.4L1291 945.7L1292.5 947.1L1294 948.5L1295.5 949.9L1297 951.3L1298.5 952.7L1300 954.1L1301.5 955.5L1302.5 956.5" stroke="url(#gc)" stroke-width="1.6"/>
<path d="M169.5 608.8L171 608.8L172.5 608.8L174 608.8L175.5 608.8L177 608.8L178.5 608.8L180 608.8L181.5 608.8L183 608.8L184.5 608.8L186 608.8L187.5 608.8L189 608.8L190.5 608.8L192 608.8L193.5 608.8L195 608.8L196.5 608.8L198 608.8L199.5 608.8L201 608.8L202.5 608.8L204 608.8L205.5 608.8L207 608.8L208.5 608.8L210 608.8L211.5 608.8L213 608.8L214.5 608.8L216 608.8L217.5 608.8L219 608.8L220.5 608.8L222 608.8L223.5 608.8L225 608.8L226.5 608.8L228 608.8L229.5 608.8L231 608.8L232.5 608.8L234 608.8L235.5 608.8L237 608.8L238.5 608.8L240 608.8L241.5 608.8L243 608.8L244.5 608.8L246 608.8L247.5 608.8L249 608.8L250.5 608.8L252 608.8L253.5 608.8L255 608.8L256.5 608.8L258 608.8L259.5 608.8L261 608.8L262.5 608.8L264 608.8L265.5 608.8L267 608.8L268.5 608.8L270 608.8L271.5 608.8L273 608.8L274.5 608.8L276 608.8L277.5 608.8L279 608.8L280.5 608.8L282 608.8L283.5 608.8L285 608.8L286.5 608.8L288 608.8L289.5 608.8L291 608.8L292.5 608.8L294 608.8L295.5 608.8L297 608.8L298.5 608.8L300 608.8L301.5 608.8L303 608.8L304.5 608.8L306 608.8L307.5 608.8L309 608.8L310.5 608.8L312 608.8L313.5 608.8L315 608.8L316.5 608.8L318 608.8L319.5 608.8L321 608.8L322.5 608.8L324 608.8L325.5 608.8L327 608.8L328.5 608.8L330 608.8L331.5 608.8L333 608.8L334.5 608.8L336 608.8L337.5 608.8L339 608.8L340.5 608.8L342 608.8L343.5 608.8L345 608.8L346.5 608.8L348 608.8L349.5 608.8L351 608.8L352.5 608.8L354 608.8L355.5 608.8L357 608.8L358.5 608.8L360 608.8L361.5 608.8L363 608.8L364.5 608.8L366 608.8L367.5 608.8L369 608.8L370.5 608.8L372 608.8L373.5 608.8L375 608.8L376.5 608.8L378 608.8L379.5 608.8L381 608.8L382.5 608.8L384 608.8L385.5 608.8L387 608.8L388.5 608.8L390 608.8L391.5 608.8L393 608.8L394.5 608.8L396 608.8L397.5 608.8L399 608.8L400.5 608.8L402 608.8L403.5 608.8L405 608.8L406.5 608.8L408 608.8L409.5 608.8L411 608.8L412.5 608.8L414 608.8L415.5 608.8L417 608.8L418.5 608.8L420 608.8L421.5 608.8L423 608.8L424.5 608.8L426 608.8L427.5 608.8L429 608.8L430.5 608.8L432 608.8L433.5 608.8L435 608.8L436.5 608.8L438 608.8L439.5 608.8L441 608.8L442.5 608.8L444 608.8L445.5 608.8L447 608.8L448.5 608.8L450 608.8L451.5 608.8L453 608.8L454.5 608.8L456 608.8L457.5 608.8L459 608.8L460.5 608.8L462 608.8L463.5 608.8L465 608.8L466.5 608.8L468 608.8L469.5 608.8L471 608.8L472.5 608.8L474 608.8L475.5 608.8L477 608.8L478.5 608.8L480 608.8L481.5 608.8L483 608.8L484.5 608.8L486 608.8L487.5 608.8L489 608.8L490.5 608.8L492 608.8L493.5 608.8L495 608.8L496.5 608.8L498 608.8L499.5 608.8L501 608.8L502.5 608.8L504 608.8L505.5 608.8L507 608.8L508.5 608.8L510 608.8L511.5 608.8L513 608.8L514.5 608.8L516 608.8L517.5 608.8L519 608.8L520.5 608.8L522 608.8L523.5 608.8L525 608.8L526.5 608.8L528 608.8L529.5 608.8L531 608.8L532.5 608.8L534 608.8L535.5 608.8L537 608.8L538.5 608.8L540 608.8L541.5 608.8L543 608.8L544.5 608.8L546 608.8L547.5 608.8L549 608.8L550.5 608.8L552 608.8L553.5 608.8L555 608.8L556.5 608.8L558 608.8L559.5 608.8L561 608.8L562.5 608.8L564 608.8L565.5 608.8L567 608.8L568.5 608.8L570 608.8L571.5 608.8L573 608.8L574.5 608.8L576 608.8L577.5 608.8L579 608.8L580.5 608.8L582 608.8L583.5 608.8L585 608.8L586.5 608.8L588 608.8L589.5 608.8L591 608.8L592.5 608.8L594 608.8L595.5 608.8L597 608.8L598.5 608.8L600 608.8L601.5 608.8L603 608.8L604.5 608.8L606 608.8L607.5 608.8L609 608.8L610.5 608.8L612 608.8L613.5 608.8L615 608.8L616.5 608.8L618 608.8L619.5 608.8L621 608.8L622.5 608.8L624 608.8L625.5 608.8L627 608.8L628.5 608.8L630 608.8L631.5 608.8L633 608.8L634.5 608.8L636 608.8L637.5 608.8L639 608.8L640.5 608.8L642 608.8L643.5 608.8L645 608.8L646.5 608.8L648 608.8L649.5 608.8L651 608.8L652.5 608.8L654 608.9L655.5 608.9L657 608.9L658.5 608.9L660 608.9L661.5 608.9L663 608.9L664.5 608.9L666 608.9L667.5 608.9L669 608.9L670.5 608.9L672 608.9L673.5 608.9L675 608.9L676.5 608.9L678 609L679.5 609L681 609L682.5 609L684 609L685.5 609.1L687 609.1L688.5 609.1L690 609.2L690.2 609.2L690.5 609.2L690.8 609.2L691 609.3L691.2 609.3L691.5 609.3L691.8 609.3L692 609.3L692.2 609.3L692.5 609.3L692.8 609.4L693 609.4L693.2 609.4L693.5 609.4L693.8 609.4L694 609.5L694.2 609.5L694.5 609.5L694.8 609.5L695 609.6L695.2 609.6L695.5 609.6L695.8 609.6L696 609.7L696.2 609.7L696.5 609.8L696.8 609.8L697 609.8L697.2 609.9L697.5 609.9L697.8 610L698 610.1L698.2 610.1L698.5 610.2L698.8 610.3L699 610.4L699.2 610.4L699.5 610.5L699.8 610.7L700 610.8L700.2 610.9L700.5 611L700.8 611.2L701 611.4L701.2 611.6L701.5 611.8L701.8 612L702 612.3L702.2 612.6L702.5 613L702.8 613.4L703 613.9L703.2 614.4L703.5 615.1L703.8 615.8L704 616.7L704.2 617.7L704.5 619L704.8 620.5L705 622.3L705.2 624.6L705.5 627.4L705.8 630.9L706 635.3L706.2 640.9L706.5 647.8L706.8 656.1L707 665.4L707.2 674.3L707.5 679.9L707.8 679.2L708 672.7L708.2 663.5L708.5 654.3L708.8 646.3L709 639.6L709.2 634.3L709.5 630.1L709.8 626.8L710 624.1L710.2 621.9L710.5 620.1L710.8 618.6L711 617.4L711.2 616.4L711.5 615.6L711.8 614.8L712 614.2L712.2 613.7L712.5 613.2L712.8 612.8L713 612.5L713.2 612.2L713.5 611.9L713.8 611.6L714 611.4L714.2 611.2L714.5 611L714.8 610.9L715 610.7L715.2 610.6L715.5 610.5L715.8 610.4L716 610.3L716.2 610.2L716.5 610.1L716.8 610L717 609.9L717.2 609.9L717.5 609.8L717.8 609.7L718 609.7L718.2 609.6L718.5 609.6L718.8 609.5L719 609.5L719.2 609.5L719.5 609.4L719.8 609.4L720 609.4L720.2 609.3L720.5 609.3L720.8 609.3L721 609.2L721.2 609.2L721.5 609.2L721.8 609.2L722 609.2L722.2 609.1L722.5 609.1L722.8 609.1L723 609.1L723.2 609.1L723.5 609L723.8 609L724 609L724.2 609L724.5 609L724.8 609L725 609L725.2 609L725.5 608.9L725.8 608.9L726 608.9L726.2 608.9L726.5 608.9L726.8 608.9L727 608.9L727.2 608.9L727.5 608.9L727.8 608.9L728 608.9L728.2 608.8L728.5 608.8L728.8 608.8L729 608.8L729.2 608.8L729.5 608.8L729.8 608.8L730 608.8L731.5 608.8L733 608.8L734.5 608.7L736 608.7L737.5 608.7L739 608.7L740.5 608.7L742 608.7L743.5 608.7L745 608.7L746.5 608.7L748 608.7L749.5 608.7L751 608.7L752.5 608.7L754 608.7L755.5 608.7L757 608.7L758.5 608.7L760 608.7L761.5 608.7L763 608.7L764.5 608.7L766 608.7L767.5 608.7L769 608.7L770.5 608.7L772 608.7L773.5 608.7L775 608.7L776.5 608.7L778 608.7L779.5 608.7L781 608.7L782.5 608.7L784 608.8L785.5 608.8L787 608.8L788.5 608.8L790 608.8L791.5 608.8L793 608.8L794.5 608.8L796 608.8L797.5 608.8L799 608.9L800.5 608.9L802 608.9L803.5 608.9L805 608.9L806.5 608.9L808 608.9L809.5 609L811 609L812.5 609L814 609L815.5 609L817 609L818.5 609.1L820 609.1L821.5 609.1L823 609.1L824.5 609.2L826 609.2L827.5 609.2L829 609.2L830.5 609.3L832 609.3L833.5 609.3L835 609.4L836.5 609.4L838 609.4L839.5 609.5L841 609.5L842.5 609.6L844 609.6L845.5 609.7L847 609.7L848.5 609.8L850 609.8L851.5 609.9L853 609.9L854.5 610L856 610.1L857.5 610.1L859 610.2L860.5 610.3L862 610.4L863.5 610.5L865 610.6L866.5 610.7L868 610.8L869.5 610.9L871 611L872.5 611.1L874 611.2L875.5 611.4L877 611.5L878.5 611.7L880 611.8L881.5 612L883 612.2L884.5 612.3L886 612.5L887.5 612.7L889 612.9L890.5 613.1L892 613.3L893.5 613.6L895 613.8L896.5 614L898 614.3L899.5 614.5L901 614.8L902.5 615.1L904 615.4L905.5 615.7L907 616L908.5 616.3L910 616.7L911.5 617L913 617.4L914.5 617.8L916 618.2L917.5 618.7L919 619.1L920.5 619.6L922 620.1L923.5 620.6L925 621.1L926.5 621.6L928 622.2L929.5 622.8L931 623.4L932.5 624L934 624.7L935.5 625.3L937 626L938.5 626.8L940 627.5L941.5 628.3L943 629.1L944.5 629.9L946 630.7L947.5 631.6L949 632.5L950.5 633.4L952 634.4L953.5 635.3L955 636.4L956.5 637.4L958 638.5L959.5 639.6L961 640.7L962.5 641.9L964 643.1L965.5 644.3L967 645.6L968.5 646.8L970 648.1L971.5 649.4L973 650.8L974.5 652.2L976 653.5L977.5 654.9L979 656.4L980.5 657.8L982 659.3L983.5 660.7L985 662.2L986.5 663.7L988 665.2L989.5 666.7L991 668.3L992.5 669.8L994 671.3L995.5 672.9L997 674.4L998.5 676L1000 677.6L1001.5 679.1L1003 680.7L1004.5 682.3L1006 683.8L1007.5 685.4L1009 687L1010.5 688.6L1012 690.2L1013.5 691.8L1015 693.4L1016.5 695L1018 696.7L1019.5 698.3L1021 699.9L1022.5 701.5L1024 703.1L1025.5 704.7L1027 706.3L1028.5 708L1030 709.6L1031.5 711.2L1033 712.8L1034.5 714.4L1036 716L1037.5 717.6L1039 719.2L1040.5 720.8L1042 722.3L1043.5 723.9L1045 725.5L1046.5 727.1L1048 728.6L1049.5 730.2L1051 731.8L1052.5 733.3L1054 734.9L1055.5 736.4L1057 737.9L1058.5 739.5L1060 741L1061.5 742.5L1063 744L1064.5 745.6L1066 747.1L1067.5 748.6L1069 750L1070.5 751.5L1072 753L1073.5 754.5L1075 755.9L1076.5 757.4L1078 758.8L1079.5 760.3L1081 761.7L1082.5 763.1L1084 764.6L1085.5 766L1087 767.4L1088.5 768.8L1090 770.2L1091.5 771.6L1093 773L1094.5 774.4L1096 775.8L1097.5 777.1L1099 778.5L1100.5 779.9L1102 781.2L1103.5 782.6L1105 784L1106.5 785.3L1108 786.7L1109.5 788L1111 789.3L1112.5 790.7L1114 792L1115.5 793.3L1117 794.7L1118.5 796L1120 797.3L1121.5 798.6L1123 800L1124.5 801.3L1126 802.6L1127.5 803.9L1129 805.2L1130.5 806.5L1132 807.8L1133.5 809.1L1135 810.5L1136.5 811.8L1138 813.1L1139.5 814.4L1141 815.7L1142.5 817L1144 818.3L1145.5 819.6L1147 820.9L1148.5 822.2L1150 823.5L1151.5 824.8L1153 826.1L1154.5 827.4L1156 828.7L1157.5 830L1159 831.3L1160.5 832.6L1162 833.9L1163.5 835.2L1165 836.5L1166.5 837.8L1168 839.1L1169.5 840.4L1171 841.7L1172.5 843L1174 844.3L1175.5 845.6L1177 846.8L1178.5 848.1L1180 849.4L1181.5 850.7L1183 852L1184.5 853.3L1186 854.6L1187.5 855.9L1189 857.2L1190.5 858.5L1192 859.7L1193.5 861L1195 862.3L1196.5 863.6L1198 864.9L1199.5 866.2L1201 867.5L1202.5 868.8L1204 870.1L1205.5 871.4L1207 872.7L1208.5 874L1210 875.3L1211.5 876.6L1213 877.9L1214.5 879.2L1216 880.5L1217.5 881.8L1219 883.1L1220.5 884.4L1222 885.7L1223.5 887L1225 888.3L1226.5 889.7L1228 891L1229.5 892.3L1231 893.6L1232.5 894.9L1234 896.2L1235.5 897.5L1237 898.8L1238.5 900.1L1240 901.5L1241.5 902.8L1243 904.1L1244.5 905.4L1246 906.7L1247.5 908.1L1249 909.4L1250.5 910.7L1252 912L1253.5 913.4L1255 914.7L1256.5 916L1258 917.4L1259.5 918.7L1261 920L1262.5 921.4L1264 922.7L1265.5 924.1L1267 925.4L1268.5 926.7L1270 928.1L1271.5 929.4L1273 930.8L1274.5 932.2L1276 933.5L1277.5 934.9L1279 936.2L1280.5 937.6L1282 939L1283.5 940.3L1285 941.7L1286.5 943.1L1288 944.5L1289.5 945.8L1291 947.2L1292.5 948.6L1294 950L1295.5 951.4L1297 952.8L1298.5 954.2L1300 955.6L1301.5 957L1302.5 957.9" stroke="url(#gc)" stroke-width="1.6"/>
<path d="M169.5 608.8L171 608.8L172.5 608.8L174 608.8L175.5 608.8L177 608.8L178.5 608.8L180 608.8L181.5 608.8L183 608.8L184.5 608.8L186 608.8L187.5 608.8L189 608.8L190.5 608.8L192 608.8L193.5 608.8L195 608.8L196.5 608.8L198 608.8L199.5 608.8L201 608.8L202.5 608.8L204 608.8L205.5 608.8L207 608.8L208.5 608.8L210 608.8L211.5 608.8L213 608.8L214.5 608.8L216 608.8L217.5 608.8L219 608.8L220.5 608.8L222 608.8L223.5 608.8L225 608.8L226.5 608.8L228 608.8L229.5 608.8L231 608.8L232.5 608.8L234 608.8L235.5 608.8L237 608.8L238.5 608.8L240 608.8L241.5 608.8L243 608.8L244.5 608.8L246 608.8L247.5 608.8L249 608.8L250.5 608.8L252 608.8L253.5 608.8L255 608.8L256.5 608.8L258 608.8L259.5 608.8L261 608.8L262.5 608.8L264 608.8L265.5 608.8L267 608.8L268.5 608.8L270 608.8L271.5 608.8L273 608.8L274.5 608.8L276 608.8L277.5 608.8L279 608.8L280.5 608.8L282 608.8L283.5 608.8L285 608.8L286.5 608.8L288 608.8L289.5 608.8L291 608.8L292.5 608.8L294 608.8L295.5 608.8L297 608.8L298.5 608.8L300 608.8L301.5 608.8L303 608.8L304.5 608.8L306 608.8L307.5 608.8L309 608.8L310.5 608.8L312 608.8L313.5 608.8L315 608.8L316.5 608.8L318 608.8L319.5 608.8L321 608.8L322.5 608.8L324 608.8L325.5 608.8L327 608.8L328.5 608.8L330 608.8L331.5 608.8L333 608.8L334.5 608.8L336 608.8L337.5 608.8L339 608.8L340.5 608.8L342 608.8L343.5 608.8L345 608.8L346.5 608.8L348 608.8L349.5 608.8L351 608.8L352.5 608.8L354 608.8L355.5 608.8L357 608.8L358.5 608.8L360 608.8L361.5 608.8L363 608.8L364.5 608.8L366 608.8L367.5 608.8L369 608.8L370.5 608.8L372 608.8L373.5 608.8L375 608.8L376.5 608.8L378 608.8L379.5 608.8L381 608.8L382.5 608.8L384 608.8L385.5 608.8L387 608.8L388.5 608.8L390 608.8L391.5 608.8L393 608.8L394.5 608.8L396 608.8L397.5 608.8L399 608.8L400.5 608.8L402 608.8L403.5 608.8L405 608.8L406.5 608.8L408 608.8L409.5 608.8L411 608.8L412.5 608.8L414 608.8L415.5 608.8L417 608.8L418.5 608.8L420 608.8L421.5 608.8L423 608.8L424.5 608.8L426 608.8L427.5 608.8L429 608.8L430.5 608.8L432 608.8L433.5 608.8L435 608.8L436.5 608.8L438 608.8L439.5 608.8L441 608.8L442.5 608.8L444 608.8L445.5 608.8L447 608.8L448.5 608.8L450 608.8L451.5 608.8L453 608.8L454.5 608.8L456 608.8L457.5 608.8L459 608.8L460.5 608.8L462 608.8L463.5 608.8L465 608.8L466.5 608.8L468 608.8L469.5 608.8L471 608.8L472.5 608.8L474 608.8L475.5 608.8L477 608.8L478.5 608.8L480 608.8L481.5 608.8L483 608.8L484.5 608.8L486 608.8L487.5 608.8L489 608.8L490.5 608.8L492 608.9L493.5 608.9L495 608.9L496.5 608.9L498 608.9L499.5 608.9L501 608.9L502.5 608.9L504 609L505.5 609L507 609L508.5 609L510 609L511.5 609L513 609L514.5 609L516 609L517.5 609.1L519 609.1L520.5 609.1L522 609.1L523.5 609.1L525 609.1L526.5 609.1L528 609.1L529.5 609.1L531 609.1L532.5 609.1L534 609.1L535.5 609.1L537 609.1L538.5 609.1L540 609.1L541.5 609.1L543 609.1L544.5 609.1L546 609.1L547.5 609.1L549 609.1L550.5 609.1L552 609.1L553.5 609.1L555 609.1L556.5 609.1L558 609.1L559.5 609.1L561 609.1L562.5 609.1L564 609.1L565.5 609.1L567 609.1L568.5 609.1L570 609.1L571.5 609.1L573 609.1L574.5 609.1L576 609.1L577.5 609.1L579 609.1L580.5 609.1L582 609.1L583.5 609.1L585 609.1L586.5 609.1L588 609.1L589.5 609.1L591 609.1L592.5 609.1L594 609.1L595.5 609.1L597 609.1L598.5 609.1L600 609.1L601.5 609.1L603 609.1L604.5 609.1L606 609.1L607.5 609.1L609 609.1L610.5 609.1L612 609.1L613.5 609.1L615 609.1L616.5 609.1L618 609.1L619.5 609.1L621 609.1L622.5 609.1L624 609.1L625.5 609.1L627 609.1L628.5 609.1L630 609.1L631.5 609.1L633 609.1L634.5 609.1L636 609.1L637.5 609.1L639 609.1L640.5 609.1L642 609.1L643.5 609.1L645 609.1L646.5 609.1L648 609.1L649.5 609.1L651 609.1L652.5 609.1L654 609.1L655.5 609.1L657 609.1L658.5 609.1L660 609.1L661.5 609.1L663 609.2L664.5 609.2L666 609.2L667.5 609.2L669 609.2L670.5 609.2L672 609.2L673.5 609.2L675 609.2L676.5 609.2L678 609.2L679.5 609.3L681 609.3L682.5 609.3L684 609.3L685.5 609.3L687 609.4L688.5 609.4L690 609.5L690.2 609.5L690.5 609.5L690.8 609.5L691 609.5L691.2 609.5L691.5 609.6L691.8 609.6L692 609.6L692.2 609.6L692.5 609.6L692.8 609.6L693 609.7L693.2 609.7L693.5 609.7L693.8 609.7L694 609.7L694.2 609.8L694.5 609.8L694.8 609.8L695 609.8L695.2 609.9L695.5 609.9L695.8 609.9L696 610L696.2 610L696.5 610L696.8 610.1L697 610.1L697.2 610.2L697.5 610.2L697.8 610.3L698 610.3L698.2 610.4L698.5 610.5L698.8 610.6L699 610.6L699.2 610.7L699.5 610.8L699.8 610.9L700 611.1L700.2 611.2L700.5 611.3L700.8 611.5L701 611.7L701.2 611.9L701.5 612.1L701.8 612.3L702 612.6L702.2 612.9L702.5 613.3L702.8 613.7L703 614.2L703.2 614.7L703.5 615.3L703.8 616.1L704 617L704.2 618L704.5 619.3L704.8 620.8L705 622.6L705.2 624.9L705.5 627.7L705.8 631.2L706 635.6L706.2 641.2L706.5 648.1L706.8 656.4L707 665.7L707.2 674.6L707.5 680.1L707.8 679.5L708 673L708.2 663.8L708.5 654.6L708.8 646.5L709 639.9L709.2 634.6L709.5 630.4L709.8 627L710 624.3L710.2 622.2L710.5 620.4L710.8 618.9L711 617.7L711.2 616.7L711.5 615.8L711.8 615.1L712 614.5L712.2 614L712.5 613.5L712.8 613.1L713 612.7L713.2 612.4L713.5 612.2L713.8 611.9L714 611.7L714.2 611.5L714.5 611.3L714.8 611.2L715 611L715.2 610.9L715.5 610.8L715.8 610.6L716 610.5L716.2 610.5L716.5 610.4L716.8 610.3L717 610.2L717.2 610.1L717.5 610.1L717.8 610L718 610L718.2 609.9L718.5 609.9L718.8 609.8L719 609.8L719.2 609.7L719.5 609.7L719.8 609.7L720 609.6L720.2 609.6L720.5 609.6L720.8 609.6L721 609.5L721.2 609.5L721.5 609.5L721.8 609.5L722 609.4L722.2 609.4L722.5 609.4L722.8 609.4L723 609.4L723.2 609.3L723.5 609.3L723.8 609.3L724 609.3L724.2 609.3L724.5 609.3L724.8 609.3L725 609.2L725.2 609.2L725.5 609.2L725.8 609.2L726 609.2L726.2 609.2L726.5 609.2L726.8 609.2L727 609.2L727.2 609.2L727.5 609.1L727.8 609.1L728 609.1L728.2 609.1L728.5 609.1L728.8 609.1L729 609.1L729.2 609.1L729.5 609.1L729.8 609.1L730 609.1L731.5 609.1L733 609L734.5 609L736 609L737.5 609L739 609L740.5 609L742 609L743.5 609L745 609L746.5 609L748 609L749.5 609L751 609L752.5 609L754 609L755.5 609L757 609L758.5 609L760 609L761.5 609L763 609L764.5 609L766 609L767.5 609L769 609L770.5 609L772 609L773.5 609L775 609L776.5 609L778 609L779.5 609L781 609L782.5 609L784 609L785.5 609.1L787 609.1L788.5 609.1L790 609.1L791.5 609.1L793 609.1L794.5 609.1L796 609.1L797.5 609.1L799 609.1L800.5 609.2L802 609.2L803.5 609.2L805 609.2L806.5 609.2L808 609.2L809.5 609.2L811 609.3L812.5 609.3L814 609.3L815.5 609.3L817 609.3L818.5 609.4L820 609.4L821.5 609.4L823 609.4L824.5 609.5L826 609.5L827.5 609.5L829 609.5L830.5 609.6L832 609.6L833.5 609.6L835 609.7L836.5 609.7L838 609.8L839.5 609.8L841 609.8L842.5 609.9L844 609.9L845.5 610L847 610L848.5 610.1L850 610.1L851.5 610.2L853 610.3L854.5 610.3L856 610.4L857.5 610.5L859 610.6L860.5 610.6L862 610.7L863.5 610.8L865 610.9L866.5 611L868 611.1L869.5 611.2L871 611.4L872.5 611.5L874 611.6L875.5 611.8L877 611.9L878.5 612.1L880 612.3L881.5 612.4L883 612.6L884.5 612.8L886 613L887.5 613.2L889 613.4L890.5 613.6L892 613.8L893.5 614.1L895 614.3L896.5 614.6L898 614.8L899.5 615.1L901 615.4L902.5 615.7L904 616L905.5 616.3L907 616.6L908.5 617L910 617.3L911.5 617.7L913 618.1L914.5 618.5L916 618.9L917.5 619.3L919 619.8L920.5 620.3L922 620.8L923.5 621.3L925 621.8L926.5 622.4L928 622.9L929.5 623.5L931 624.1L932.5 624.8L934 625.4L935.5 626.1L937 626.8L938.5 627.5L940 628.3L941.5 629.1L943 629.9L944.5 630.7L946 631.6L947.5 632.4L949 633.3L950.5 634.3L952 635.2L953.5 636.2L955 637.2L956.5 638.3L958 639.4L959.5 640.5L961 641.6L962.5 642.8L964 644L965.5 645.3L967 646.5L968.5 647.8L970 649.1L971.5 650.4L973 651.8L974.5 653.2L976 654.6L977.5 656L979 657.4L980.5 658.9L982 660.3L983.5 661.8L985 663.3L986.5 664.8L988 666.3L989.5 667.9L991 669.4L992.5 671L994 672.5L995.5 674.1L997 675.6L998.5 677.2L1000 678.8L1001.5 680.3L1003 681.9L1004.5 683.5L1006 685.1L1007.5 686.7L1009 688.3L1010.5 689.9L1012 691.5L1013.5 693.1L1015 694.8L1016.5 696.4L1018 698L1019.5 699.6L1021 701.2L1022.5 702.9L1024 704.5L1025.5 706.1L1027 707.7L1028.5 709.3L1030 710.9L1031.5 712.6L1033 714.2L1034.5 715.8L1036 717.4L1037.5 719L1039 720.6L1040.5 722.2L1042 723.7L1043.5 725.3L1045 726.9L1046.5 728.5L1048 730L1049.5 731.6L1051 733.2L1052.5 734.7L1054 736.3L1055.5 737.8L1057 739.4L1058.5 740.9L1060 742.4L1061.5 743.9L1063 745.5L1064.5 747L1066 748.5L1067.5 750L1069 751.5L1070.5 752.9L1072 754.4L1073.5 755.9L1075 757.4L1076.5 758.8L1078 760.3L1079.5 761.7L1081 763.1L1082.5 764.6L1084 766L1085.5 767.4L1087 768.8L1088.5 770.2L1090 771.6L1091.5 773L1093 774.4L1094.5 775.8L1096 777.2L1097.5 778.6L1099 779.9L1100.5 781.3L1102 782.7L1103.5 784L1105 785.4L1106.5 786.7L1108 788.1L1109.5 789.4L1111 790.8L1112.5 792.1L1114 793.4L1115.5 794.8L1117 796.1L1118.5 797.4L1120 798.8L1121.5 800.1L1123 801.4L1124.5 802.7L1126 804L1127.5 805.3L1129 806.7L1130.5 808L1132 809.3L1133.5 810.6L1135 811.9L1136.5 813.2L1138 814.5L1139.5 815.8L1141 817.1L1142.5 818.4L1144 819.7L1145.5 821L1147 822.3L1148.5 823.7L1150 825L1151.5 826.3L1153 827.6L1154.5 828.9L1156 830.2L1157.5 831.5L1159 832.8L1160.5 834.1L1162 835.4L1163.5 836.7L1165 838L1166.5 839.3L1168 840.6L1169.5 841.8L1171 843.1L1172.5 844.4L1174 845.7L1175.5 847L1177 848.3L1178.5 849.6L1180 850.9L1181.5 852.2L1183 853.5L1184.5 854.7L1186 856L1187.5 857.3L1189 858.6L1190.5 859.9L1192 861.2L1193.5 862.5L1195 863.8L1196.5 865.1L1198 866.4L1199.5 867.7L1201 869L1202.5 870.3L1204 871.6L1205.5 872.9L1207 874.2L1208.5 875.5L1210 876.8L1211.5 878.1L1213 879.4L1214.5 880.7L1216 882L1217.5 883.3L1219 884.6L1220.5 885.9L1222 887.2L1223.5 888.5L1225 889.8L1226.5 891.1L1228 892.4L1229.5 893.7L1231 895L1232.5 896.4L1234 897.7L1235.5 899L1237 900.3L1238.5 901.6L1240 902.9L1241.5 904.2L1243 905.6L1244.5 906.9L1246 908.2L1247.5 909.5L1249 910.9L1250.5 912.2L1252 913.5L1253.5 914.8L1255 916.2L1256.5 917.5L1258 918.8L1259.5 920.2L1261 921.5L1262.5 922.8L1264 924.2L1265.5 925.5L1267 926.9L1268.5 928.2L1270 929.6L1271.5 930.9L1273 932.3L1274.5 933.6L1276 935L1277.5 936.3L1279 937.7L1280.5 939.1L1282 940.4L1283.5 941.8L1285 943.2L1286.5 944.5L1288 945.9L1289.5 947.3L1291 948.7L1292.5 950.1L1294 951.5L1295.5 952.9L1297 954.2L1298.5 955.6L1300 957L1301.5 958.5L1302.5 959.4" stroke="url(#gc)" stroke-width="1.6"/>
<path d="M169.5 608.8L171 608.8L172.5 608.8L174 608.8L175.5 608.8L177 608.8L178.5 608.8L180 608.8L181.5 608.8L183 608.8L184.5 608.8L186 608.8L187.5 608.8L189 608.8L190.5 608.8L192 608.8L193.5 608.8L195 608.8L196.5 608.8L198 608.8L199.5 608.8L201 608.8L202.5 608.8L204 608.8L205.5 608.8L207 608.8L208.5 608.8L210 608.8L211.5 608.8L213 608.8L214.5 608.8L216 608.8L217.5 608.8L219 608.8L220.5 608.8L222 608.8L223.5 608.8L225 608.8L226.5 608.8L228 608.8L229.5 608.8L231 608.8L232.5 608.8L234 608.8L235.5 608.8L237 608.8L238.5 608.8L240 608.8L241.5 608.8L243 608.8L244.5 608.8L246 608.8L247.5 608.8L249 608.8L250.5 608.8L252 608.8L253.5 608.8L255 608.8L256.5 608.8L258 608.8L259.5 608.8L261 608.8L262.5 608.8L264 608.8L265.5 608.8L267 608.8L268.5 608.8L270 608.8L271.5 608.8L273 608.8L274.5 608.8L276 608.8L277.5 608.8L279 608.8L280.5 608.8L282 608.8L283.5 608.8L285 608.8L286.5 608.8L288 608.8L289.5 608.8L291 608.8L292.5 608.8L294 608.8L295.5 608.8L297 608.8L298.5 608.8L300 608.8L301.5 608.8L303 608.8L304.5 608.8L306 608.8L307.5 608.8L309 608.8L310.5 608.8L312 608.8L313.5 608.8L315 608.8L316.5 608.8L318 608.8L319.5 608.8L321 608.8L322.5 608.8L324 608.8L325.5 608.8L327 608.8L328.5 608.8L330 608.8L331.5 608.8L333 608.8L334.5 608.8L336 608.8L337.5 608.8L339 608.8L340.5 608.8L342 608.8L343.5 608.8L345 608.8L346.5 608.8L348 608.8L349.5 608.8L351 608.8L352.5 608.8L354 608.8L355.5 608.8L357 608.8L358.5 608.8L360 608.8L361.5 608.8L363 608.8L364.5 608.8L366 608.8L367.5 608.8L369 608.8L370.5 608.8L372 608.8L373.5 608.8L375 608.8L376.5 608.8L378 608.8L379.5 608.8L381 608.8L382.5 608.8L384 608.8L385.5 608.8L387 608.8L388.5 608.8L390 608.8L391.5 608.8L393 608.8L394.5 608.8L396 608.8L397.5 608.8L399 608.8L400.5 608.8L402 608.8L403.5 608.8L405 608.8L406.5 608.8L408 608.8L409.5 608.8L411 608.8L412.5 608.8L414 608.8L415.5 608.8L417 608.8L418.5 608.8L420 608.8L421.5 608.8L423 608.8L424.5 608.8L426 608.8L427.5 608.8L429 608.8L430.5 608.8L432 608.8L433.5 608.8L435 608.8L436.5 608.8L438 608.8L439.5 608.8L441 608.8L442.5 608.8L444 608.8L445.5 608.8L447 608.8L448.5 608.8L450 608.8L451.5 608.8L453 608.8L454.5 608.8L456 608.8L457.5 608.8L459 608.8L460.5 608.8L462 608.8L463.5 608.8L465 608.8L466.5 608.8L468 608.8L469.5 608.8L471 608.8L472.5 608.8L474 608.8L475.5 608.8L477 608.8L478.5 608.8L480 608.8L481.5 608.8L483 608.8L484.5 608.8L486 608.8L487.5 608.8L489 608.9L490.5 608.9L492 608.9L493.5 608.9L495 609L496.5 609L498 609L499.5 609L501 609.1L502.5 609.1L504 609.1L505.5 609.2L507 609.2L508.5 609.2L510 609.2L511.5 609.2L513 609.3L514.5 609.3L516 609.3L517.5 609.3L519 609.3L520.5 609.3L522 609.3L523.5 609.3L525 609.3L526.5 609.3L528 609.3L529.5 609.3L531 609.3L532.5 609.3L534 609.3L535.5 609.3L537 609.3L538.5 609.3L540 609.3L541.5 609.3L543 609.3L544.5 609.3L546 609.3L547.5 609.3L549 609.3L550.5 609.3L552 609.3L553.5 609.3L555 609.3L556.5 609.3L558 609.3L559.5 609.3L561 609.3L562.5 609.3L564 609.3L565.5 609.3L567 609.3L568.5 609.3L570 609.3L571.5 609.3L573 609.3L574.5 609.3L576 609.3L577.5 609.3L579 609.3L580.5 609.3L582 609.3L583.5 609.3L585 609.4L586.5 609.4L588 609.4L589.5 609.4L591 609.4L592.5 609.4L594 609.4L595.5 609.4L597 609.4L598.5 609.4L600 609.4L601.5 609.4L603 609.4L604.5 609.4L606 609.4L607.5 609.4L609 609.4L610.5 609.4L612 609.4L613.5 609.4L615 609.4L616.5 609.4L618 609.4L619.5 609.4L621 609.4L622.5 609.4L624 609.4L625.5 609.4L627 609.4L628.5 609.4L630 609.4L631.5 609.4L633 609.4L634.5 609.4L636 609.4L637.5 609.4L639 609.4L640.5 609.4L642 609.4L643.5 609.4L645 609.4L646.5 609.4L648 609.4L649.5 609.4L651 609.4L652.5 609.4L654 609.4L655.5 609.4L657 609.4L658.5 609.4L660 609.4L661.5 609.4L663 609.4L664.5 609.4L666 609.4L667.5 609.4L669 609.5L670.5 609.5L672 609.5L673.5 609.5L675 609.5L676.5 609.5L678 609.5L679.5 609.5L681 609.5L682.5 609.6L684 609.6L685.5 609.6L687 609.7L688.5 609.7L690 609.8L690.2 609.8L690.5 609.8L690.8 609.8L691 609.8L691.2 609.8L691.5 609.8L691.8 609.9L692 609.9L692.2 609.9L692.5 609.9L692.8 609.9L693 609.9L693.2 610L693.5 610L693.8 610L694 610L694.2 610L694.5 610.1L694.8 610.1L695 610.1L695.2 610.1L695.5 610.2L695.8 610.2L696 610.2L696.2 610.3L696.5 610.3L696.8 610.4L697 610.4L697.2 610.5L697.5 610.5L697.8 610.6L698 610.6L698.2 610.7L698.5 610.8L698.8 610.8L699 610.9L699.2 611L699.5 611.1L699.8 611.2L700 611.3L700.2 611.5L700.5 611.6L700.8 611.8L701 611.9L701.2 612.1L701.5 612.4L701.8 612.6L702 612.9L702.2 613.2L702.5 613.6L702.8 614L703 614.4L703.2 615L703.5 615.6L703.8 616.4L704 617.2L704.2 618.3L704.5 619.5L704.8 621L705 622.9L705.2 625.2L705.5 628L705.8 631.5L706 635.9L706.2 641.4L706.5 648.3L706.8 656.6L707 666L707.2 674.9L707.5 680.4L707.8 679.7L708 673.3L708.2 664.1L708.5 654.9L708.8 646.8L709 640.2L709.2 634.9L709.5 630.7L709.8 627.3L710 624.6L710.2 622.4L710.5 620.7L710.8 619.2L711 618L711.2 617L711.5 616.1L711.8 615.4L712 614.8L712.2 614.2L712.5 613.8L712.8 613.4L713 613L713.2 612.7L713.5 612.4L713.8 612.2L714 612L714.2 611.8L714.5 611.6L714.8 611.4L715 611.3L715.2 611.2L715.5 611L715.8 610.9L716 610.8L716.2 610.7L716.5 610.6L716.8 610.6L717 610.5L717.2 610.4L717.5 610.4L717.8 610.3L718 610.3L718.2 610.2L718.5 610.2L718.8 610.1L719 610.1L719.2 610L719.5 610L719.8 610L720 609.9L720.2 609.9L720.5 609.9L720.8 609.8L721 609.8L721.2 609.8L721.5 609.8L721.8 609.7L722 609.7L722.2 609.7L722.5 609.7L722.8 609.7L723 609.6L723.2 609.6L723.5 609.6L723.8 609.6L724 609.6L724.2 609.6L724.5 609.5L724.8 609.5L725 609.5L725.2 609.5L725.5 609.5L725.8 609.5L726 609.5L726.2 609.5L726.5 609.5L726.8 609.4L727 609.4L727.2 609.4L727.5 609.4L727.8 609.4L728 609.4L728.2 609.4L728.5 609.4L728.8 609.4L729 609.4L729.2 609.4L729.5 609.4L729.8 609.4L730 609.4L731.5 609.3L733 609.3L734.5 609.3L736 609.3L737.5 609.3L739 609.3L740.5 609.3L742 609.2L743.5 609.2L745 609.2L746.5 609.2L748 609.2L749.5 609.2L751 609.2L752.5 609.2L754 609.2L755.5 609.2L757 609.2L758.5 609.2L760 609.2L761.5 609.2L763 609.2L764.5 609.3L766 609.3L767.5 609.3L769 609.3L770.5 609.3L772 609.3L773.5 609.3L775 609.3L776.5 609.3L778 609.3L779.5 609.3L781 609.3L782.5 609.3L784 609.3L785.5 609.3L787 609.3L788.5 609.4L790 609.4L791.5 609.4L793 609.4L794.5 609.4L796 609.4L797.5 609.4L799 609.4L800.5 609.4L802 609.5L803.5 609.5L805 609.5L806.5 609.5L808 609.5L809.5 609.5L811 609.6L812.5 609.6L814 609.6L815.5 609.6L817 609.6L818.5 609.7L820 609.7L821.5 609.7L823 609.7L824.5 609.8L826 609.8L827.5 609.8L829 609.9L830.5 609.9L832 609.9L833.5 610L835 610L836.5 610L838 610.1L839.5 610.1L841 610.1L842.5 610.2L844 610.2L845.5 610.3L847 610.3L848.5 610.4L850 610.5L851.5 610.5L853 610.6L854.5 610.7L856 610.7L857.5 610.8L859 610.9L860.5 611L862 611.1L863.5 611.2L865 611.3L866.5 611.4L868 611.5L869.5 611.6L871 611.8L872.5 611.9L874 612L875.5 612.2L877 612.3L878.5 612.5L880 612.7L881.5 612.8L883 613L884.5 613.2L886 613.4L887.5 613.6L889 613.9L890.5 614.1L892 614.3L893.5 614.6L895 614.8L896.5 615.1L898 615.4L899.5 615.6L901 615.9L902.5 616.2L904 616.6L905.5 616.9L907 617.2L908.5 617.6L910 617.9L911.5 618.3L913 618.7L914.5 619.1L916 619.6L917.5 620L919 620.5L920.5 621L922 621.5L923.5 622L925 622.5L926.5 623.1L928 623.7L929.5 624.3L931 624.9L932.5 625.5L934 626.2L935.5 626.9L937 627.6L938.5 628.3L940 629.1L941.5 629.9L943 630.7L944.5 631.5L946 632.4L947.5 633.3L949 634.2L950.5 635.1L952 636.1L953.5 637.1L955 638.1L956.5 639.2L958 640.3L959.5 641.4L961 642.6L962.5 643.7L964 645L965.5 646.2L967 647.5L968.5 648.8L970 650.1L971.5 651.4L973 652.8L974.5 654.2L976 655.6L977.5 657L979 658.5L980.5 659.9L982 661.4L983.5 662.9L985 664.4L986.5 665.9L988 667.5L989.5 669L991 670.6L992.5 672.1L994 673.7L995.5 675.2L997 676.8L998.5 678.4L1000 680L1001.5 681.6L1003 683.2L1004.5 684.8L1006 686.4L1007.5 688L1009 689.6L1010.5 691.2L1012 692.8L1013.5 694.4L1015 696.1L1016.5 697.7L1018 699.3L1019.5 701L1021 702.6L1022.5 704.2L1024 705.8L1025.5 707.5L1027 709.1L1028.5 710.7L1030 712.3L1031.5 713.9L1033 715.6L1034.5 717.2L1036 718.8L1037.5 720.4L1039 722L1040.5 723.6L1042 725.1L1043.5 726.7L1045 728.3L1046.5 729.9L1048 731.5L1049.5 733L1051 734.6L1052.5 736.1L1054 737.7L1055.5 739.2L1057 740.8L1058.5 742.3L1060 743.8L1061.5 745.4L1063 746.9L1064.5 748.4L1066 749.9L1067.5 751.4L1069 752.9L1070.5 754.4L1072 755.8L1073.5 757.3L1075 758.8L1076.5 760.2L1078 761.7L1079.5 763.1L1081 764.6L1082.5 766L1084 767.4L1085.5 768.8L1087 770.3L1088.5 771.7L1090 773.1L1091.5 774.5L1093 775.9L1094.5 777.2L1096 778.6L1097.5 780L1099 781.4L1100.5 782.7L1102 784.1L1103.5 785.5L1105 786.8L1106.5 788.2L1108 789.5L1109.5 790.9L1111 792.2L1112.5 793.5L1114 794.9L1115.5 796.2L1117 797.5L1118.5 798.9L1120 800.2L1121.5 801.5L1123 802.8L1124.5 804.2L1126 805.5L1127.5 806.8L1129 808.1L1130.5 809.4L1132 810.7L1133.5 812L1135 813.3L1136.5 814.7L1138 816L1139.5 817.3L1141 818.6L1142.5 819.9L1144 821.2L1145.5 822.5L1147 823.8L1148.5 825.1L1150 826.4L1151.5 827.7L1153 829L1154.5 830.3L1156 831.6L1157.5 832.9L1159 834.2L1160.5 835.5L1162 836.8L1163.5 838.1L1165 839.4L1166.5 840.7L1168 842L1169.5 843.3L1171 844.6L1172.5 845.9L1174 847.2L1175.5 848.5L1177 849.8L1178.5 851L1180 852.3L1181.5 853.6L1183 854.9L1184.5 856.2L1186 857.5L1187.5 858.8L1189 860.1L1190.5 861.4L1192 862.7L1193.5 864L1195 865.3L1196.5 866.5L1198 867.8L1199.5 869.1L1201 870.4L1202.5 871.7L1204 873L1205.5 874.3L1207 875.6L1208.5 876.9L1210 878.2L1211.5 879.5L1213 880.8L1214.5 882.1L1216 883.4L1217.5 884.7L1219 886.1L1220.5 887.4L1222 888.7L1223.5 890L1225 891.3L1226.5 892.6L1228 893.9L1229.5 895.2L1231 896.5L1232.5 897.8L1234 899.1L1235.5 900.4L1237 901.8L1238.5 903.1L1240 904.4L1241.5 905.7L1243 907L1244.5 908.4L1246 909.7L1247.5 911L1249 912.3L1250.5 913.6L1252 915L1253.5 916.3L1255 917.6L1256.5 919L1258 920.3L1259.5 921.6L1261 923L1262.5 924.3L1264 925.7L1265.5 927L1267 928.3L1268.5 929.7L1270 931L1271.5 932.4L1273 933.7L1274.5 935.1L1276 936.5L1277.5 937.8L1279 939.2L1280.5 940.5L1282 941.9L1283.5 943.3L1285 944.6L1286.5 946L1288 947.4L1289.5 948.8L1291 950.2L1292.5 951.5L1294 952.9L1295.5 954.3L1297 955.7L1298.5 957.1L1300 958.5L1301.5 959.9L1302.5 960.9" stroke="url(#gc)" stroke-width="1.6"/>
<path d="M169.5 608.8L171 608.8L172.5 608.8L174 608.8L175.5 608.8L177 608.8L178.5 608.8L180 608.8L181.5 608.8L183 608.8L184.5 608.8L186 608.8L187.5 608.8L189 608.8L190.5 608.8L192 608.8L193.5 608.8L195 608.8L196.5 608.8L198 608.8L199.5 608.8L201 608.8L202.5 608.8L204 608.8L205.5 608.8L207 608.8L208.5 608.8L210 608.8L211.5 608.8L213 608.8L214.5 608.8L216 608.8L217.5 608.8L219 608.8L220.5 608.8L222 608.8L223.5 608.8L225 608.8L226.5 608.8L228 608.8L229.5 608.8L231 608.8L232.5 608.8L234 608.8L235.5 608.8L237 608.8L238.5 608.8L240 608.8L241.5 608.8L243 608.8L244.5 608.8L246 608.8L247.5 608.8L249 608.8L250.5 608.8L252 608.8L253.5 608.8L255 608.8L256.5 608.8L258 608.8L259.5 608.8L261 608.8L262.5 608.8L264 608.8L265.5 608.8L267 608.8L268.5 608.8L270 608.8L271.5 608.8L273 608.8L274.5 608.8L276 608.8L277.5 608.8L279 608.8L280.5 608.8L282 608.8L283.5 608.8L285 608.8L286.5 608.8L288 608.8L289.5 608.8L291 608.8L292.5 608.8L294 608.8L295.5 608.8L297 608.8L298.5 608.8L300 608.8L301.5 608.8L303 608.8L304.5 608.8L306 608.8L307.5 608.8L309 608.8L310.5 608.8L312 608.8L313.5 608.8L315 608.8L316.5 608.8L318 608.8L319.5 608.8L321 608.8L322.5 608.8L324 608.8L325.5 608.8L327 608.8L328.5 608.8L330 608.8L331.5 608.8L333 608.8L334.5 608.8L336 608.8L337.5 608.8L339 608.8L340.5 608.8L342 608.8L343.5 608.8L345 608.8L346.5 608.8L348 608.8L349.5 608.8L351 608.8L352.5 608.8L354 608.8L355.5 608.8L357 608.8L358.5 608.8L360 608.8L361.5 608.8L363 608.8L364.5 608.8L366 608.8L367.5 608.8L369 608.8L370.5 608.8L372 608.8L373.5 608.8L375 608.8L376.5 608.8L378 608.8L379.5 608.8L381 608.8L382.5 608.8L384 608.8L385.5 608.8L387 608.8L388.5 608.8L390 608.8L391.5 608.8L393 608.8L394.5 608.8L396 608.8L397.5 608.8L399 608.8L400.5 608.8L402 608.8L403.5 608.8L405 608.8L406.5 608.8L408 608.8L409.5 608.8L411 608.8L412.5 608.8L414 608.8L415.5 608.8L417 608.8L418.5 608.8L420 608.8L421.5 608.8L423 608.8L424.5 608.8L426 608.8L427.5 608.8L429 608.8L430.5 608.8L432 608.8L433.5 608.8L435 608.8L436.5 608.8L438 608.8L439.5 608.8L441 608.8L442.5 608.8L444 608.8L445.5 608.8L447 608.8L448.5 608.8L450 608.8L451.5 608.8L453 608.8L454.5 608.8L456 608.8L457.5 608.8L459 608.8L460.5 608.8L462 608.8L463.5 608.8L465 608.8L466.5 608.8L468 608.8L469.5 608.8L471 608.8L472.5 608.8L474 608.8L475.5 608.8L477 608.8L478.5 608.8L480 608.8L481.5 608.8L483 608.8L484.5 608.8L486 608.8L487.5 608.9L489 608.9L490.5 608.9L492 609L493.5 609L495 609L496.5 609.1L498 609.1L499.5 609.2L501 609.2L502.5 609.2L504 609.3L505.5 609.3L507 609.4L508.5 609.4L510 609.4L511.5 609.5L513 609.5L514.5 609.5L516 609.5L517.5 609.5L519 609.6L520.5 609.6L522 609.6L523.5 609.6L525 609.6L526.5 609.6L528 609.6L529.5 609.6L531 609.6L532.5 609.6L534 609.6L535.5 609.6L537 609.6L538.5 609.6L540 609.6L541.5 609.6L543 609.6L544.5 609.6L546 609.6L547.5 609.6L549 609.6L550.5 609.6L552 609.6L553.5 609.6L555 609.6L556.5 609.6L558 609.6L559.5 609.6L561 609.6L562.5 609.6L564 609.6L565.5 609.6L567 609.6L568.5 609.6L570 609.6L571.5 609.6L573 609.6L574.5 609.6L576 609.6L577.5 609.6L579 609.6L580.5 609.6L582 609.6L583.5 609.6L585 609.6L586.5 609.6L588 609.6L589.5 609.6L591 609.6L592.5 609.6L594 609.6L595.5 609.6L597 609.6L598.5 609.6L600 609.6L601.5 609.6L603 609.6L604.5 609.6L606 609.6L607.5 609.6L609 609.6L610.5 609.6L612 609.6L613.5 609.6L615 609.6L616.5 609.6L618 609.6L619.5 609.6L621 609.6L622.5 609.7L624 609.7L625.5 609.7L627 609.7L628.5 609.7L630 609.7L631.5 609.7L633 609.7L634.5 609.7L636 609.7L637.5 609.7L639 609.7L640.5 609.7L642 609.7L643.5 609.7L645 609.7L646.5 609.7L648 609.7L649.5 609.7L651 609.7L652.5 609.7L654 609.7L655.5 609.7L657 609.7L658.5 609.7L660 609.7L661.5 609.7L663 609.7L664.5 609.7L666 609.7L667.5 609.7L669 609.7L670.5 609.7L672 609.7L673.5 609.8L675 609.8L676.5 609.8L678 609.8L679.5 609.8L681 609.8L682.5 609.8L684 609.9L685.5 609.9L687 609.9L688.5 610L690 610L690.2 610.1L690.5 610.1L690.8 610.1L691 610.1L691.2 610.1L691.5 610.1L691.8 610.1L692 610.1L692.2 610.2L692.5 610.2L692.8 610.2L693 610.2L693.2 610.2L693.5 610.3L693.8 610.3L694 610.3L694.2 610.3L694.5 610.3L694.8 610.4L695 610.4L695.2 610.4L695.5 610.5L695.8 610.5L696 610.5L696.2 610.6L696.5 610.6L696.8 610.6L697 610.7L697.2 610.7L697.5 610.8L697.8 610.8L698 610.9L698.2 611L698.5 611L698.8 611.1L699 611.2L699.2 611.3L699.5 611.4L699.8 611.5L700 611.6L700.2 611.7L700.5 611.9L700.8 612L701 612.2L701.2 612.4L701.5 612.6L701.8 612.9L702 613.2L702.2 613.5L702.5 613.8L702.8 614.2L703 614.7L703.2 615.3L703.5 615.9L703.8 616.6L704 617.5L704.2 618.6L704.5 619.8L704.8 621.3L705 623.2L705.2 625.4L705.5 628.2L705.8 631.8L706 636.2L706.2 641.7L706.5 648.6L706.8 656.9L707 666.3L707.2 675.2L707.5 680.7L707.8 680L708 673.5L708.2 664.4L708.5 655.1L708.8 647.1L709 640.5L709.2 635.2L709.5 631L709.8 627.6L710 624.9L710.2 622.7L710.5 620.9L710.8 619.5L711 618.3L711.2 617.3L711.5 616.4L711.8 615.7L712 615.1L712.2 614.5L712.5 614.1L712.8 613.7L713 613.3L713.2 613L713.5 612.7L713.8 612.5L714 612.3L714.2 612.1L714.5 611.9L714.8 611.7L715 611.6L715.2 611.4L715.5 611.3L715.8 611.2L716 611.1L716.2 611L716.5 610.9L716.8 610.8L717 610.8L717.2 610.7L717.5 610.6L717.8 610.6L718 610.5L718.2 610.5L718.5 610.4L718.8 610.4L719 610.3L719.2 610.3L719.5 610.3L719.8 610.2L720 610.2L720.2 610.2L720.5 610.1L720.8 610.1L721 610.1L721.2 610.1L721.5 610L721.8 610L722 610L722.2 610L722.5 610L722.8 609.9L723 609.9L723.2 609.9L723.5 609.9L723.8 609.9L724 609.9L724.2 609.8L724.5 609.8L724.8 609.8L725 609.8L725.2 609.8L725.5 609.8L725.8 609.8L726 609.8L726.2 609.7L726.5 609.7L726.8 609.7L727 609.7L727.2 609.7L727.5 609.7L727.8 609.7L728 609.7L728.2 609.7L728.5 609.7L728.8 609.7L729 609.7L729.2 609.7L729.5 609.7L729.8 609.6L730 609.6L731.5 609.6L733 609.6L734.5 609.6L736 609.6L737.5 609.6L739 609.5L740.5 609.5L742 609.5L743.5 609.5L745 609.5L746.5 609.5L748 609.5L749.5 609.5L751 609.5L752.5 609.5L754 609.5L755.5 609.5L757 609.5L758.5 609.5L760 609.5L761.5 609.5L763 609.5L764.5 609.5L766 609.5L767.5 609.5L769 609.5L770.5 609.6L772 609.6L773.5 609.6L775 609.6L776.5 609.6L778 609.6L779.5 609.6L781 609.6L782.5 609.6L784 609.6L785.5 609.6L787 609.6L788.5 609.6L790 609.7L791.5 609.7L793 609.7L794.5 609.7L796 609.7L797.5 609.7L799 609.7L800.5 609.7L802 609.8L803.5 609.8L805 609.8L806.5 609.8L808 609.8L809.5 609.8L811 609.9L812.5 609.9L814 609.9L815.5 609.9L817 609.9L818.5 610L820 610L821.5 610L823 610L824.5 610.1L826 610.1L827.5 610.1L829 610.2L830.5 610.2L832 610.2L833.5 610.3L835 610.3L836.5 610.3L838 610.4L839.5 610.4L841 610.5L842.5 610.5L844 610.6L845.5 610.6L847 610.7L848.5 610.7L850 610.8L851.5 610.9L853 610.9L854.5 611L856 611.1L857.5 611.2L859 611.2L860.5 611.3L862 611.4L863.5 611.5L865 611.6L866.5 611.8L868 611.9L869.5 612L871 612.1L872.5 612.3L874 612.4L875.5 612.6L877 612.7L878.5 612.9L880 613.1L881.5 613.3L883 613.5L884.5 613.7L886 613.9L887.5 614.1L889 614.3L890.5 614.6L892 614.8L893.5 615.1L895 615.3L896.5 615.6L898 615.9L899.5 616.2L901 616.5L902.5 616.8L904 617.1L905.5 617.5L907 617.8L908.5 618.2L910 618.6L911.5 619L913 619.4L914.5 619.8L916 620.2L917.5 620.7L919 621.2L920.5 621.6L922 622.2L923.5 622.7L925 623.2L926.5 623.8L928 624.4L929.5 625L931 625.6L932.5 626.3L934 626.9L935.5 627.6L937 628.4L938.5 629.1L940 629.9L941.5 630.7L943 631.5L944.5 632.3L946 633.2L947.5 634.1L949 635L950.5 635.9L952 636.9L953.5 637.9L955 639L956.5 640L958 641.2L959.5 642.3L961 643.5L962.5 644.7L964 645.9L965.5 647.1L967 648.4L968.5 649.7L970 651.1L971.5 652.4L973 653.8L974.5 655.2L976 656.6L977.5 658.1L979 659.5L980.5 661L982 662.5L983.5 664L985 665.5L986.5 667L988 668.6L989.5 670.1L991 671.7L992.5 673.3L994 674.8L995.5 676.4L997 678L998.5 679.6L1000 681.2L1001.5 682.8L1003 684.4L1004.5 686L1006 687.6L1007.5 689.2L1009 690.9L1010.5 692.5L1012 694.1L1013.5 695.8L1015 697.4L1016.5 699L1018 700.7L1019.5 702.3L1021 703.9L1022.5 705.6L1024 707.2L1025.5 708.8L1027 710.5L1028.5 712.1L1030 713.7L1031.5 715.3L1033 716.9L1034.5 718.6L1036 720.2L1037.5 721.8L1039 723.4L1040.5 725L1042 726.5L1043.5 728.1L1045 729.7L1046.5 731.3L1048 732.9L1049.5 734.4L1051 736L1052.5 737.5L1054 739.1L1055.5 740.6L1057 742.2L1058.5 743.7L1060 745.2L1061.5 746.8L1063 748.3L1064.5 749.8L1066 751.3L1067.5 752.8L1069 754.3L1070.5 755.8L1072 757.3L1073.5 758.7L1075 760.2L1076.5 761.7L1078 763.1L1079.5 764.5L1081 766L1082.5 767.4L1084 768.8L1085.5 770.3L1087 771.7L1088.5 773.1L1090 774.5L1091.5 775.9L1093 777.3L1094.5 778.7L1096 780.1L1097.5 781.4L1099 782.8L1100.5 784.2L1102 785.5L1103.5 786.9L1105 788.3L1106.5 789.6L1108 791L1109.5 792.3L1111 793.6L1112.5 795L1114 796.3L1115.5 797.7L1117 799L1118.5 800.3L1120 801.6L1121.5 803L1123 804.3L1124.5 805.6L1126 806.9L1127.5 808.2L1129 809.5L1130.5 810.9L1132 812.2L1133.5 813.5L1135 814.8L1136.5 816.1L1138 817.4L1139.5 818.7L1141 820L1142.5 821.3L1144 822.6L1145.5 823.9L1147 825.2L1148.5 826.6L1150 827.9L1151.5 829.2L1153 830.5L1154.5 831.8L1156 833.1L1157.5 834.4L1159 835.7L1160.5 837L1162 838.3L1163.5 839.6L1165 840.9L1166.5 842.2L1168 843.5L1169.5 844.8L1171 846L1172.5 847.3L1174 848.6L1175.5 849.9L1177 851.2L1178.5 852.5L1180 853.8L1181.5 855.1L1183 856.4L1184.5 857.7L1186 859L1187.5 860.2L1189 861.5L1190.5 862.8L1192 864.1L1193.5 865.4L1195 866.7L1196.5 868L1198 869.3L1199.5 870.6L1201 871.9L1202.5 873.2L1204 874.5L1205.5 875.8L1207 877.1L1208.5 878.4L1210 879.7L1211.5 881L1213 882.3L1214.5 883.6L1216 884.9L1217.5 886.2L1219 887.5L1220.5 888.8L1222 890.1L1223.5 891.4L1225 892.7L1226.5 894L1228 895.4L1229.5 896.7L1231 898L1232.5 899.3L1234 900.6L1235.5 901.9L1237 903.2L1238.5 904.5L1240 905.9L1241.5 907.2L1243 908.5L1244.5 909.8L1246 911.1L1247.5 912.5L1249 913.8L1250.5 915.1L1252 916.4L1253.5 917.8L1255 919.1L1256.5 920.4L1258 921.8L1259.5 923.1L1261 924.4L1262.5 925.8L1264 927.1L1265.5 928.5L1267 929.8L1268.5 931.2L1270 932.5L1271.5 933.9L1273 935.2L1274.5 936.6L1276 937.9L1277.5 939.3L1279 940.6L1280.5 942L1282 943.4L1283.5 944.7L1285 946.1L1286.5 947.5L1288 948.9L1289.5 950.2L1291 951.6L1292.5 953L1294 954.4L1295.5 955.8L1297 957.2L1298.5 958.6L1300 960L1301.5 961.4L1302.5 962.3" stroke="url(#gc)" stroke-width="1.6"/>
<path d="M169.5 42.8L171.5 43.1L173.5 43.3L175.5 43.6L177.5 43.8L179.5 44.1L181.5 44.4L183.5 44.7L185.5 45L187.5 45.3L189.5 45.6L191.5 45.9L193.5 46.3L195.5 46.6L197.5 47L199.5 47.4L201.5 47.8L203.5 48.2L205.5 48.6L207.5 49L209.5 49.4L211.5 49.9L213.5 50.4L215.5 50.8L217.5 51.3L219.5 51.8L221.5 52.4L223.5 52.9L225.5 53.5L227.5 54L229.5 54.6L231.5 55.2L233.5 55.8L235.5 56.5L237.5 57.1L239.5 57.8L241.5 58.4L243.5 59.1L245.5 59.9L247.5 60.6L249.5 61.3L251.5 62.1L253.5 62.9L255.5 63.7L257.5 64.5L259.5 65.3L261.5 66.2L263.5 67L265.5 67.9L267.5 68.8L269.5 69.7L271.5 70.7L273.5 71.6L275.5 72.6L277.5 73.6L279.5 74.6L281.5 75.6L283.5 76.6L285.5 77.7L287.5 78.7L289.5 79.8L291.5 80.9L293.5 82L295.5 83.2L297.5 84.3L299.5 85.5L301.5 86.6L303.5 87.8L305.5 89L307.5 90.2L309.5 91.5L311.5 92.7L313.5 94L315.5 95.2L317.5 96.5L319.5 97.8L321.5 99.1L323.5 100.4L325.5 101.8L327.5 103.1L329.5 104.5L331.5 105.8L333.5 107.2L335.5 108.6L337.5 110L339.5 111.4L341.5 112.8L343.5 114.2L345.5 115.6L347.5 117.1L349.5 118.5L351.5 120L353.5 121.5L355.5 122.9L357.5 124.4L359.5 125.9L361.5 127.4L363.5 128.9L365.5 130.4L367.5 131.9L369.5 133.5L371.5 135L373.5 136.5L375.5 138.1L377.5 139.6L379.5 141.2L381.5 142.7L383.5 144.3L385.5 145.9L387.5 147.4L389.5 149L391.5 150.6L393.5 152.2L395.5 153.8L397.5 155.4L399.5 157L401.5 158.6L403.5 160.2L405.5 161.8L407.5 163.4L409.5 165L411.5 166.6L413.5 168.3L415.5 169.9L417.5 171.5L419.5 173.2L421.5 174.8L423.5 176.4L425.5 178.1L427.5 179.7L429.5 181.4L431.5 183L433.5 184.7L435.5 186.4L437.5 188L439.5 189.7L441.5 191.4L443.5 193L445.5 194.7L447.5 196.4L449.5 198.1L451.5 199.8L453.5 201.4L455.5 203.1L457.5 204.8L459.5 206.5L461.5 208.2L463.5 209.9L465.5 211.6L467.5 213.3L469.5 215L471.5 216.7L473.5 218.5L475.5 220.2L477.5 221.9L479.5 223.6L481.5 225.3L483.5 227.1L485.5 228.8L487.5 230.6L489.5 232.3L491.5 234L493.5 235.8L495.5 237.5L497.5 239.3L499.5 241.1L501.5 242.8L503.5 244.6L505.5 246.4L507.5 248.2L509.5 249.9L511.5 251.7L513.5 253.5L515.5 255.3L517.5 257.1L519.5 259L521.5 260.8L523.5 262.6L525.5 264.4L527.5 266.3L529.5 268.1L531.5 270L533.5 271.8L535.5 273.7L537.5 275.6L539.5 277.5L541.5 279.4L543.5 281.3L545.5 283.2L547.5 285.1L549.5 287L551.5 289L553.5 290.9L555.5 292.9L557.5 294.9L559.5 296.9L561.5 298.9L563.5 300.9L565.5 302.9L567.5 305L569.5 307.1L571.5 309.1L573.5 311.2L575.5 313.4L577.5 315.5L579.5 317.6L581.5 319.8L583.5 322L585.5 324.2L587.5 326.5L589.5 328.7L591.5 331L593.5 333.3L595.5 335.7L597.5 338L599.5 340.4L601.5 342.9L603.5 345.3L605.5 347.8L607.5 350.3L609.5 352.9L611.5 355.5L613.5 358.1L615.5 360.8L617.5 363.5L619.5 366.3L621.5 369.1L623.5 372L625.5 374.9L627.5 377.9L629.5 380.9L631.5 384L633.5 387.1L635.5 390.3L637.5 393.6L639.5 397L641.5 400.4L643.5 403.9L645.5 407.5L647.5 411.2L649.5 415L651.5 418.9L653.5 422.8L655.5 426.9L657.5 431.2L659.5 435.5L661.5 440L663.5 444.7L665.5 449.5L667.5 454.4L669.5 459.6L671.5 464.9L673.5 470.5L675.5 476.3L677.5 482.3L679.5 488.7L681.5 495.3L683.5 502.3L685.5 509.6L687.5 517.3L689.5 525.4L690 527.5L690.5 529.6L691 531.8L691.5 534L692 536.2L692.5 538.4L693 540.7L693.5 542.9L694 545.3L694.5 547.6L695 550L695.5 552.4L696 554.8L696.5 557.2L697 559.7L697.5 562.1L698 564.6L698.5 567.1L699 569.6L699.5 572.1L700 574.5L700.5 577L701 579.4L701.5 581.8L702 584.1L702.5 586.4L703 588.6L703.5 590.7L704 592.7L704.5 594.6L705 596.4L705.5 598L706 599.5L706.5 600.7L707 601.8L707.5 602.7L708 603.4L708.5 603.8L709 604.1L709.5 604.1L710 604L710.5 603.6L711 603.1L711.5 602.4L712 601.5L712.5 600.5L713 599.4L713.5 598.1L714 596.8L714.5 595.4L715 593.9L715.5 592.4L716 590.8L716.5 589.2L717 587.5L717.5 585.9L718 584.2L718.5 582.6L719 580.9L719.5 579.3L720 577.6L720.5 576L721 574.4L721.5 572.8L722 571.3L722.5 569.8L723 568.2L723.5 566.8L724 565.3L724.5 563.9L725 562.5L725.5 561.1L726 559.8L726.5 558.5L727 557.2L727.5 555.9L728 554.7L728.5 553.5L729 552.3L729.5 551.2L730 550.1L732 545.8L734 541.9L736 538.4L738 535.2L740 532.3L742 529.7L744 527.3L746 525.1L748 523.1L750 521.4L752 519.8L754 518.3L756 517.1L758 515.9L760 515L762 514.1L764 513.4L766 512.7L768 512.2L770 511.8L772 511.4L774 511.2L776 511L778 511L780 511L782 511L784 511.2L786 511.4L788 511.6L790 512L792 512.4L794 512.8L796 513.3L798 513.8L800 514.4L802 515L804 515.7L806 516.4L808 517.2L810 518L812 518.8L814 519.6L816 520.5L818 521.5L820 522.4L822 523.4L824 524.4L826 525.5L828 526.5L830 527.6L832 528.7L834 529.9L836 531L838 532.2L840 533.4L842 534.6L844 535.8L846 537.1L848 538.4L850 539.7L852 541L854 542.3L856 543.6L858 545L860 546.3L862 547.7L864 549.1L866 550.5L868 551.9L870 553.3L872 554.7L874 556.2L876 557.6L878 559.1L880 560.5L882 562L884 563.5L886 565L888 566.5L890 568L892 569.5L894 571L896 572.5L898 574.1L900 575.6L902 577.2L904 578.7L906 580.3L908 581.8L910 583.4L912 584.9L914 586.5L916 588.1L918 589.7L920 591.3L922 592.8L924 594.4L926 596L928 597.6L930 599.2L932 600.8L934 602.4L936 604L938 605.7L940 607.3L942 608.9L944 610.5L946 612.1L948 613.8L950 615.4L952 617L954 618.6L956 620.3L958 621.9L960 623.5L962 625.2L964 626.8L966 628.4L968 630.1L970 631.7L972 633.4L974 635L976 636.7L978 638.3L980 639.9L982 641.6L984 643.2L986 644.9L988 646.5L990 648.2L992 649.8L994 651.5L996 653.1L998 654.8L1000 656.4L1002 658.1L1004 659.7L1006 661.4L1008 663L1010 664.7L1012 666.3L1014 668L1016 669.6L1018 671.3L1020 672.9L1022 674.6L1024 676.2L1026 677.9L1028 679.5L1030 681.2L1032 682.8L1034 684.5L1036 686.1L1038 687.8L1040 689.4L1042 691L1044 692.7L1046 694.3L1048 696L1050 697.6L1052 699.2L1054 700.9L1056 702.5L1058 704.1L1060 705.8L1062 707.4L1064 709L1066 710.7L1068 712.3L1070 713.9L1072 715.5L1074 717.2L1076 718.8L1078 720.4L1080 722L1082 723.6L1084 725.2L1086 726.8L1088 728.4L1090 730L1092 731.6L1094 733.2L1096 734.8L1098 736.4L1100 738L1102 739.6L1104 741.1L1106 742.7L1108 744.3L1110 745.9L1112 747.4L1114 749L1116 750.5L1118 752.1L1120 753.6L1122 755.1L1124 756.7L1126 758.2L1128 759.7L1130 761.2L1132 762.7L1134 764.2L1136 765.7L1138 767.2L1140 768.7L1142 770.2L1144 771.6L1146 773.1L1148 774.5L1150 776L1152 777.4L1154 778.8L1156 780.2L1158 781.7L1160 783L1162 784.4L1164 785.8L1166 787.2L1168 788.5L1170 789.9L1172 791.2L1174 792.5L1176 793.8L1178 795.1L1180 796.4L1182 797.7L1184 799L1186 800.2L1188 801.5L1190 802.7L1192 803.9L1194 805.1L1196 806.3L1198 807.4L1200 808.6L1202 809.7L1204 810.8L1206 811.9L1208 813L1210 814.1L1212 815.2L1214 816.2L1216 817.2L1218 818.2L1220 819.2L1222 820.2L1224 821.2L1226 822.1L1228 823L1230 823.9L1232 824.8L1234 825.7L1236 826.6L1238 827.4L1240 828.2L1242 829L1244 829.8L1246 830.6L1248 831.4L1250 832.1L1252 832.8L1254 833.5L1256 834.2L1258 834.9L1260 835.6L1262 836.2L1264 836.8L1266 837.4L1268 838L1270 838.6L1272 839.2L1274 839.7L1276 840.2L1278 840.8L1280 841.3L1282 841.7L1284 842.2L1286 842.7L1288 843.1L1290 843.6L1292 844L1294 844.4L1296 844.8L1298 845.2L1300 845.5L1302 845.9L1302.5 846" stroke="#fcebe1" stroke-width="3.6"/>
<path d="M169.5 42.8L171.5 43.1L173.5 43.3L175.5 43.6L177.5 43.8L179.5 44.1L181.5 44.4L183.5 44.7L185.5 45L187.5 45.3L189.5 45.6L191.5 45.9L193.5 46.3L195.5 46.6L197.5 47L199.5 47.4L201.5 47.8L203.5 48.2L205.5 48.6L207.5 49L209.5 49.4L211.5 49.9L213.5 50.4L215.5 50.8L217.5 51.3L219.5 51.8L221.5 52.4L223.5 52.9L225.5 53.5L227.5 54L229.5 54.6L231.5 55.2L233.5 55.8L235.5 56.5L237.5 57.1L239.5 57.8L241.5 58.4L243.5 59.1L245.5 59.9L247.5 60.6L249.5 61.3L251.5 62.1L253.5 62.9L255.5 63.7L257.5 64.5L259.5 65.3L261.5 66.2L263.5 67L265.5 67.9L267.5 68.8L269.5 69.7L271.5 70.7L273.5 71.6L275.5 72.6L277.5 73.6L279.5 74.6L281.5 75.6L283.5 76.6L285.5 77.7L287.5 78.7L289.5 79.8L291.5 80.9L293.5 82L295.5 83.2L297.5 84.3L299.5 85.5L301.5 86.6L303.5 87.8L305.5 89L307.5 90.2L309.5 91.5L311.5 92.7L313.5 94L315.5 95.2L317.5 96.5L319.5 97.8L321.5 99.1L323.5 100.4L325.5 101.8L327.5 103.1L329.5 104.5L331.5 105.8L333.5 107.2L335.5 108.6L337.5 110L339.5 111.4L341.5 112.8L343.5 114.2L345.5 115.6L347.5 117.1L349.5 118.5L351.5 120L353.5 121.5L355.5 122.9L357.5 124.4L359.5 125.9L361.5 127.4L363.5 128.9L365.5 130.4L367.5 131.9L369.5 133.5L371.5 135L373.5 136.5L375.5 138.1L377.5 139.6L379.5 141.2L381.5 142.7L383.5 144.3L385.5 145.9L387.5 147.4L389.5 149L391.5 150.6L393.5 152.2L395.5 153.8L397.5 155.4L399.5 157L401.5 158.6L403.5 160.2L405.5 161.8L407.5 163.4L409.5 165L411.5 166.6L413.5 168.3L415.5 169.9L417.5 171.5L419.5 173.2L421.5 174.8L423.5 176.4L425.5 178.1L427.5 179.7L429.5 181.4L431.5 183L433.5 184.7L435.5 186.4L437.5 188L439.5 189.7L441.5 191.4L443.5 193L445.5 194.7L447.5 196.4L449.5 198.1L451.5 199.8L453.5 201.4L455.5 203.1L457.5 204.8L459.5 206.5L461.5 208.2L463.5 209.9L465.5 211.6L467.5 213.3L469.5 215L471.5 216.7L473.5 218.5L475.5 220.2L477.5 221.9L479.5 223.6L481.5 225.3L483.5 227.1L485.5 228.8L487.5 230.6L489.5 232.3L491.5 234L493.5 235.8L495.5 237.5L497.5 239.3L499.5 241.1L501.5 242.8L503.5 244.6L505.5 246.4L507.5 248.2L509.5 249.9L511.5 251.7L513.5 253.5L515.5 255.3L517.5 257.1L519.5 259L521.5 260.8L523.5 262.6L525.5 264.4L527.5 266.3L529.5 268.1L531.5 270L533.5 271.8L535.5 273.7L537.5 275.6L539.5 277.5L541.5 279.4L543.5 281.3L545.5 283.2L547.5 285.1L549.5 287L551.5 289L553.5 290.9L555.5 292.9L557.5 294.9L559.5 296.9L561.5 298.9L563.5 300.9L565.5 302.9L567.5 305L569.5 307.1L571.5 309.1L573.5 311.2L575.5 313.4L577.5 315.5L579.5 317.6L581.5 319.8L583.5 322L585.5 324.2L587.5 326.5L589.5 328.7L591.5 331L593.5 333.3L595.5 335.7L597.5 338L599.5 340.4L601.5 342.9L603.5 345.3L605.5 347.8L607.5 350.3L609.5 352.9L611.5 355.5L613.5 358.1L615.5 360.8L617.5 363.5L619.5 366.3L621.5 369.1L623.5 372L625.5 374.9L627.5 377.9L629.5 380.9L631.5 384L633.5 387.1L635.5 390.3L637.5 393.6L639.5 397L641.5 400.4L643.5 403.9L645.5 407.5L647.5 411.2L649.5 415L651.5 418.9L653.5 422.8L655.5 426.9L657.5 431.2L659.5 435.5L661.5 440L663.5 444.7L665.5 449.5L667.5 454.4L669.5 459.6L671.5 464.9L673.5 470.5L675.5 476.3L677.5 482.3L679.5 488.7L681.5 495.3L683.5 502.3L685.5 509.6L687.5 517.3L689.5 525.4L690 527.5L690.5 529.6L691 531.8L691.5 534L692 536.2L692.5 538.4L693 540.7L693.5 542.9L694 545.3L694.5 547.6L695 550L695.5 552.4L696 554.8L696.5 557.2L697 559.7L697.5 562.1L698 564.6L698.5 567.1L699 569.6L699.5 572.1L700 574.5L700.5 577L701 579.4L701.5 581.8L702 584.1L702.5 586.4L703 588.6L703.5 590.7L704 592.7L704.5 594.6L705 596.4L705.5 598L706 599.5L706.5 600.7L707 601.8L707.5 602.7L708 603.4L708.5 603.8L709 604.1L709.5 604.1L710 604L710.5 603.6L711 603.1L711.5 602.4L712 601.5L712.5 600.5L713 599.4L713.5 598.1L714 596.8L714.5 595.4L715 593.9L715.5 592.4L716 590.8L716.5 589.2L717 587.5L717.5 585.9L718 584.2L718.5 582.6L719 580.9L719.5 579.3L720 577.6L720.5 576L721 574.4L721.5 572.8L722 571.3L722.5 569.8L723 568.2L723.5 566.8L724 565.3L724.5 563.9L725 562.5L725.5 561.1L726 559.8L726.5 558.5L727 557.2L727.5 555.9L728 554.7L728.5 553.5L729 552.3L729.5 551.2L730 550.1L732 545.8L734 541.9L736 538.4L738 535.2L740 532.3L742 529.7L744 527.3L746 525.1L748 523.1L750 521.4L752 519.8L754 518.3L756 517.1L758 515.9L760 515L762 514.1L764 513.4L766 512.7L768 512.2L770 511.8L772 511.4L774 511.2L776 511L778 511L780 511L782 511L784 511.2L786 511.4L788 511.6L790 512L792 512.4L794 512.8L796 513.3L798 513.8L800 514.4L802 515L804 515.7L806 516.4L808 517.2L810 518L812 518.8L814 519.6L816 520.5L818 521.5L820 522.4L822 523.4L824 524.4L826 525.5L828 526.5L830 527.6L832 528.7L834 529.9L836 531L838 532.2L840 533.4L842 534.6L844 535.8L846 537.1L848 538.4L850 539.7L852 541L854 542.3L856 543.6L858 545L860 546.3L862 547.7L864 549.1L866 550.5L868 551.9L870 553.3L872 554.7L874 556.2L876 557.6L878 559.1L880 560.5L882 562L884 563.5L886 565L888 566.5L890 568L892 569.5L894 571L896 572.5L898 574.1L900 575.6L902 577.2L904 578.7L906 580.3L908 581.8L910 583.4L912 584.9L914 586.5L916 588.1L918 589.7L920 591.3L922 592.8L924 594.4L926 596L928 597.6L930 599.2L932 600.8L934 602.4L936 604L938 605.7L940 607.3L942 608.9L944 610.5L946 612.1L948 613.8L950 615.4L952 617L954 618.6L956 620.3L958 621.9L960 623.5L962 625.2L964 626.8L966 628.4L968 630.1L970 631.7L972 633.4L974 635L976 636.7L978 638.3L980 639.9L982 641.6L984 643.2L986 644.9L988 646.5L990 648.2L992 649.8L994 651.5L996 653.1L998 654.8L1000 656.4L1002 658.1L1004 659.7L1006 661.4L1008 663L1010 664.7L1012 666.3L1014 668L1016 669.6L1018 671.3L1020 672.9L1022 674.6L1024 676.2L1026 677.9L1028 679.5L1030 681.2L1032 682.8L1034 684.5L1036 686.1L1038 687.8L1040 689.4L1042 691L1044 692.7L1046 694.3L1048 696L1050 697.6L1052 699.2L1054 700.9L1056 702.5L1058 704.1L1060 705.8L1062 707.4L1064 709L1066 710.7L1068 712.3L1070 713.9L1072 715.5L1074 717.2L1076 718.8L1078 720.4L1080 722L1082 723.6L1084 725.2L1086 726.8L1088 728.4L1090 730L1092 731.6L1094 733.2L1096 734.8L1098 736.4L1100 738L1102 739.6L1104 741.1L1106 742.7L1108 744.3L1110 745.9L1112 747.4L1114 749L1116 750.5L1118 752.1L1120 753.6L1122 755.1L1124 756.7L1126 758.2L1128 759.7L1130 761.2L1132 762.7L1134 764.2L1136 765.7L1138 767.2L1140 768.7L1142 770.2L1144 771.6L1146 773.1L1148 774.5L1150 776L1152 777.4L1154 778.8L1156 780.2L1158 781.7L1160 783L1162 784.4L1164 785.8L1166 787.2L1168 788.5L1170 789.9L1172 791.2L1174 792.5L1176 793.8L1178 795.1L1180 796.4L1182 797.7L1184 799L1186 800.2L1188 801.5L1190 802.7L1192 803.9L1194 805.1L1196 806.3L1198 807.4L1200 808.6L1202 809.7L1204 810.8L1206 811.9L1208 813L1210 814.1L1212 815.2L1214 816.2L1216 817.2L1218 818.2L1220 819.2L1222 820.2L1224 821.2L1226 822.1L1228 823L1230 823.9L1232 824.8L1234 825.7L1236 826.6L1238 827.4L1240 828.2L1242 829L1244 829.8L1246 830.6L1248 831.4L1250 832.1L1252 832.8L1254 833.5L1256 834.2L1258 834.9L1260 835.6L1262 836.2L1264 836.8L1266 837.4L1268 838L1270 838.6L1272 839.2L1274 839.7L1276 840.2L1278 840.8L1280 841.3L1282 841.7L1284 842.2L1286 842.7L1288 843.1L1290 843.6L1292 844L1294 844.4L1296 844.8L1298 845.2L1300 845.5L1302 845.9L1302.5 846" stroke="#985838" stroke-width="1.35"/>
</g>
<g fill="none" stroke="#8a8a8a" stroke-width="1.6">
<path d="M168.7 37.4H1303.3" stroke="#8f8f8f" stroke-width="1.7"/>
<path d="M168.7 1019.5H1303.3" stroke="#c2c2c2" stroke-width="3.0"/>
<path d="M169.8 37.4V1019.5" stroke="#ababab" stroke-width="2.0"/>
<path d="M1302.5 37.4V1019.5" stroke="#9a9a9a" stroke-width="1.7"/>
<path d="M169.5 37.4H180M1302.5 37.4H1292M169.5 227.7H180M1302.5 227.7H1292M169.5 417.9H180M1302.5 417.9H1292M169.5 608.2H180M1302.5 608.2H1292M169.5 798.5H180M1302.5 798.5H1292M169.5 988.7H180M1302.5 988.7H1292M171.2 1019V1012.7M171.2 37.4V43.7M239.4 1019V1012.7M239.4 37.4V43.7M279.2 1019V1012.7M279.2 37.4V43.7M307.5 1019V1012.7M307.5 37.4V43.7M329.4 1019V1012.7M329.4 37.4V43.7M347.3 1019V1012.7M347.3 37.4V43.7M362.5 1019V1012.7M362.5 37.4V43.7M375.6 1019V1012.7M375.6 37.4V43.7M387.1 1019V1012.7M387.1 37.4V43.7M397.5 1019V1008M397.5 37.4V48.4M465.6 1019V1012.7M465.6 37.4V43.7M505.4 1019V1012.7M505.4 37.4V43.7M533.7 1019V1012.7M533.7 37.4V43.7M555.6 1019V1012.7M555.6 37.4V43.7M573.6 1019V1012.7M573.6 37.4V43.7M588.7 1019V1012.7M588.7 37.4V43.7M601.8 1019V1012.7M601.8 37.4V43.7M613.4 1019V1012.7M613.4 37.4V43.7M623.8 1019V1012.7M623.8 37.4V43.7M691.9 1019V1012.7M691.9 37.4V43.7M731.7 1019V1012.7M731.7 37.4V43.7M760 1019V1012.7M760 37.4V43.7M781.9 1019V1012.7M781.9 37.4V43.7M799.8 1019V1012.7M799.8 37.4V43.7M815 1019V1012.7M815 37.4V43.7M828.1 1019V1012.7M828.1 37.4V43.7M839.6 1019V1012.7M839.6 37.4V43.7M850 1019V1008M850 37.4V48.4M918.1 1019V1012.7M918.1 37.4V43.7M957.9 1019V1012.7M957.9 37.4V43.7M986.2 1019V1012.7M986.2 37.4V43.7M1008.1 1019V1012.7M1008.1 37.4V43.7M1026.1 1019V1012.7M1026.1 37.4V43.7M1041.2 1019V1012.7M1041.2 37.4V43.7M1054.3 1019V1012.7M1054.3 37.4V43.7M1065.9 1019V1012.7M1065.9 37.4V43.7M1076.2 1019V1012.7M1076.2 37.4V43.7M1144.4 1019V1012.7M1144.4 37.4V43.7M1184.2 1019V1012.7M1184.2 37.4V43.7M1212.5 1019V1012.7M1212.5 37.4V43.7M1234.4 1019V1012.7M1234.4 37.4V43.7M1252.3 1019V1012.7M1252.3 37.4V43.7M1267.5 1019V1012.7M1267.5 37.4V43.7M1280.6 1019V1012.7M1280.6 37.4V43.7M1292.1 1019V1012.7M1292.1 37.4V43.7M1302.5 1019V1008M1302.5 37.4V48.4" stroke="#7c7c7c" stroke-width="1.4"/>
</g>
<g font-family="Liberation Sans, sans-serif">
<text transform="matrix(0.4950 0 0 0.4790 99.03 56.45)" font-size="100" fill="#606060">60</text>
<text transform="matrix(0.4950 0 0 0.4790 99.03 246.71)" font-size="100" fill="#606060">40</text>
<text transform="matrix(0.4950 0 0 0.4790 99.03 436.97)" font-size="100" fill="#606060">20</text>
<text transform="matrix(0.4950 0 0 0.4790 126.26 627.23)" font-size="100" fill="#606060">0</text>
<text transform="matrix(0.4950 0 0 0.4790 99.03 817.49)" font-size="100" fill="#606060">20</text>
<rect x="84.0" y="803.61" width="14.4" height="3.7" fill="#606060"/>
<text transform="matrix(0.4950 0 0 0.4790 99.03 1007.75)" font-size="100" fill="#606060">40</text>
<rect x="84.0" y="993.87" width="14.4" height="3.7" fill="#606060"/>
<path d="M374.25 1065.60 L374.25 1100.80 L370.35 1100.80 L370.35 1071.90 L361.00 1076.90 L361.00 1072.90 L369.45 1065.60 Z" fill="#606060"/>
<text transform="matrix(0.4900 0 0 0.4940 383.14 1100.71)" font-size="100" fill="#606060">0</text>
<text transform="matrix(0.3800 0 0 0.4050 412.38 1076.25)" font-size="100" fill="#606060">0</text>
<path d="M827.85 1065.60 L827.85 1100.80 L823.95 1100.80 L823.95 1071.90 L814.60 1076.90 L814.60 1072.90 L823.05 1065.60 Z" fill="#606060"/>
<text transform="matrix(0.4900 0 0 0.4940 836.74 1100.71)" font-size="100" fill="#606060">0</text>
<text transform="matrix(0.3800 0 0 0.4050 865.70 1076.25)" font-size="100" fill="#606060">2</text>
<path d="M1281.65 1065.60 L1281.65 1100.80 L1277.75 1100.80 L1277.75 1071.90 L1268.40 1076.90 L1268.40 1072.90 L1276.85 1065.60 Z" fill="#606060"/>
<text transform="matrix(0.4900 0 0 0.4940 1290.54 1100.71)" font-size="100" fill="#606060">0</text>
<text transform="matrix(0.3800 0 0 0.4050 1319.24 1075.85)" font-size="100" fill="#606060">4</text>
<text transform="matrix(0.5480 0 0 0.5600 546.72 1186.84)" font-size="100" fill="#000">Frequency(Hz)</text>
<text transform="matrix(0 -0.5495 0.5520 0 62.10 716.10)" font-size="100" fill="#000">Magnitude(dB)</text>
</g>
<rect x="1082.5" y="64.4" width="193" height="122.8" fill="#fff" stroke="#8a8a8a" stroke-width="1.6"/>
<path d="M1089.5 97.5H1170.5" stroke="#4a6f88" stroke-width="1.5"/>
<path d="M1089.5 154.6H1170.5" stroke="#a07c70" stroke-width="1.5"/>
<g font-family="Liberation Sans, sans-serif">
<text transform="matrix(0.4300 0 0 0.4620 1177.34 116.60)" font-size="100" fill="#000">T</text>
<path d="M1193.15 141.60 L1193.15 171.90 L1189.65 171.90 L1189.65 147.00 L1181.40 151.30 L1181.40 147.80 L1188.75 141.60 Z" fill="#000"/>
<text transform="matrix(0.4370 0 0 0.4430 1202.30 171.46)" font-size="100" fill="#000">/Wt</text>
</g>
</svg>
</body></html>
